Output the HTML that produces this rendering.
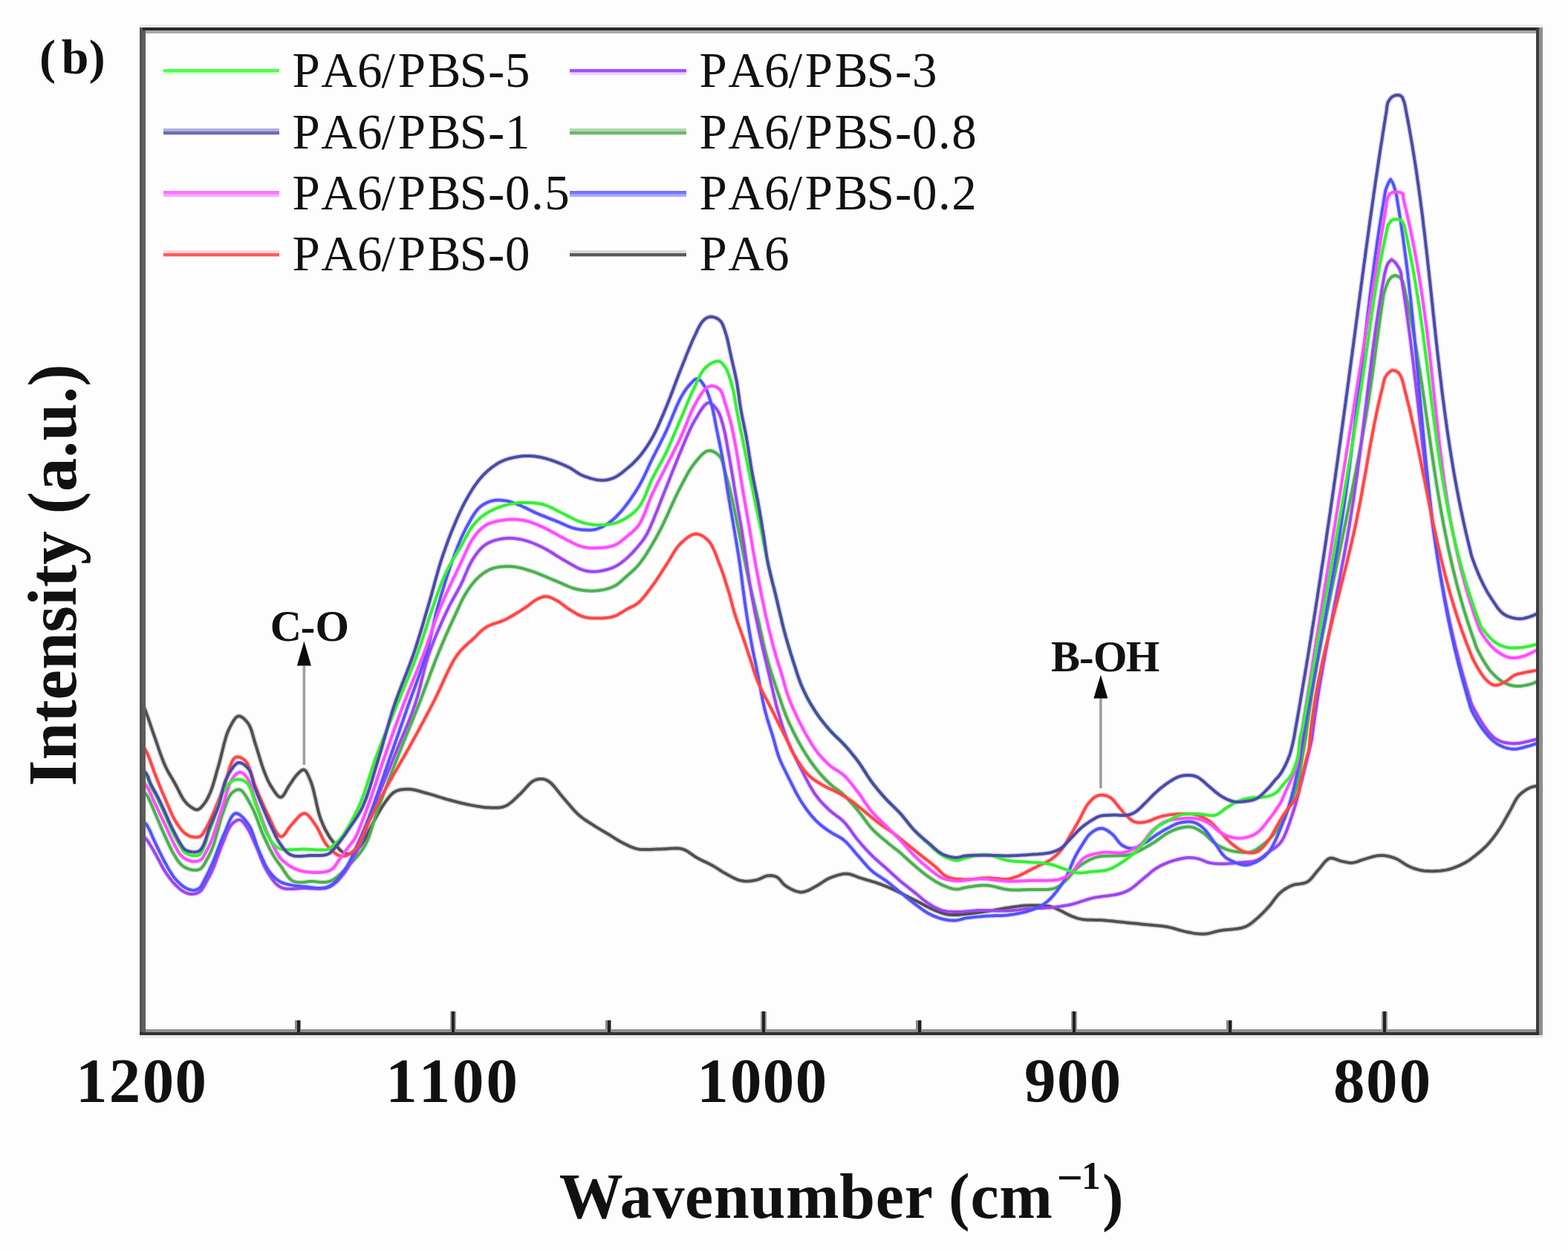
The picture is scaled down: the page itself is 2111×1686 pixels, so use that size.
<!DOCTYPE html><html><head><meta charset="utf-8"><title>FTIR spectra (b)</title>
<style>html,body{margin:0;padding:0;background:#fdfdfd;}svg{display:block;}.t{font-family:"Liberation Serif","Times New Roman",serif;fill:#111;}.b{font-weight:bold;}</style></head><body>
<svg xmlns="http://www.w3.org/2000/svg" width="2111" height="1686" viewBox="0 0 2111 1686">
<rect x="0" y="0" width="2111" height="1686" fill="#fdfdfd"/>
<defs><clipPath id="pc"><rect x="192" y="41" width="1880" height="1349"/></clipPath></defs>
<g clip-path="url(#pc)" fill="none" stroke-width="4.0" stroke-linejoin="round" stroke-linecap="round">
<defs>
<path id="cPA6" d="M192.0 948.0L193.3 950.9L194.5 953.8L196.0 957.5L196.7 959.3L197.4 961.4L198.2 963.6L199.1 966.0L200.0 968.6L200.9 971.3L201.9 974.1L202.8 976.9L203.8 979.8L204.8 982.7L205.8 985.6L206.8 988.4L207.7 991.2L208.7 993.9L209.6 996.5L210.5 999.1L211.4 1001.7L212.3 1004.3L213.2 1007.0L214.1 1009.6L215.0 1012.2L215.9 1014.8L216.8 1017.3L217.8 1019.9L218.7 1022.4L219.6 1024.8L220.6 1027.2L221.6 1029.5L222.6 1031.8L224.0 1034.7L225.4 1037.4L226.8 1040.1L228.3 1042.6L229.8 1045.2L231.3 1047.7L232.8 1050.2L234.2 1052.7L235.7 1055.3L237.1 1058.0L238.6 1060.8L240.0 1063.6L241.5 1066.5L242.9 1069.3L244.3 1071.9L245.8 1074.5L247.2 1076.8L248.7 1078.8L251.0 1081.5L253.3 1083.7L255.6 1085.7L257.9 1087.3L261.8 1089.7L265.7 1090.5L268.4 1089.3L271.1 1086.9L273.6 1084.0L275.2 1081.9L276.8 1079.6L278.4 1077.0L279.9 1074.2L281.3 1071.2L282.8 1068.0L283.7 1065.9L284.5 1063.6L285.4 1061.3L286.2 1058.8L287.0 1056.3L287.8 1053.7L288.6 1051.0L289.4 1048.2L290.2 1045.4L290.9 1042.6L291.7 1039.8L292.5 1036.9L293.4 1034.0L294.2 1031.2L294.9 1028.7L295.6 1026.1L296.3 1023.5L297.0 1020.7L297.7 1017.9L298.4 1015.1L299.1 1012.2L299.8 1009.3L300.5 1006.4L301.2 1003.6L301.9 1000.8L302.7 998.0L303.4 995.3L304.2 992.7L305.0 990.2L305.8 987.8L306.7 985.5L307.6 983.4L308.5 981.4L310.2 978.1L311.9 974.8L313.7 971.7L315.5 968.9L317.4 966.6L319.3 965.0L321.3 964.3L323.8 964.7L326.5 966.2L329.2 968.5L331.8 971.3L334.1 974.2L335.3 976.1L336.4 978.3L337.4 980.6L338.4 983.2L339.2 985.8L340.0 988.5L340.8 991.4L341.6 994.2L342.4 997.1L343.2 999.9L344.1 1002.7L345.0 1005.3L345.8 1008.0L346.7 1010.8L347.5 1013.7L348.4 1016.5L349.3 1019.4L350.1 1022.3L351.0 1025.1L351.9 1027.9L352.8 1030.7L353.7 1033.3L354.6 1035.9L355.5 1038.3L356.7 1041.3L357.8 1044.2L359.0 1047.0L360.2 1049.8L361.4 1052.4L362.7 1054.9L364.0 1057.4L365.5 1059.7L367.4 1062.6L369.4 1065.8L371.6 1068.8L373.7 1071.4L375.9 1073.1L377.9 1073.7L379.6 1073.0L381.3 1071.3L383.0 1068.9L384.7 1066.0L386.3 1062.9L388.0 1059.9L389.6 1057.4L391.4 1054.9L393.1 1052.3L394.8 1049.7L396.5 1047.3L398.2 1045.0L400.0 1043.0L403.1 1039.9L406.2 1037.3L409.2 1036.5L410.9 1037.4L412.5 1039.4L414.0 1042.0L415.4 1045.2L416.9 1048.7L418.3 1052.2L419.1 1054.2L419.8 1056.3L420.5 1058.6L421.2 1061.1L421.9 1063.7L422.6 1066.4L423.2 1069.2L423.9 1072.1L424.6 1075.0L425.2 1077.9L425.9 1080.9L426.5 1083.8L427.2 1086.7L427.9 1089.5L428.5 1092.2L429.2 1094.8L429.9 1097.3L430.7 1099.6L431.4 1101.8L432.6 1105.1L433.9 1108.2L435.1 1111.1L436.4 1113.9L437.7 1116.6L439.0 1119.1L440.4 1121.6L441.8 1124.0L443.7 1127.1L445.7 1130.1L447.8 1132.8L449.9 1135.5L452.0 1138.0L454.4 1140.9L456.9 1143.7L459.4 1146.1L462.0 1148.0L465.9 1149.7L470.0 1150.0L473.3 1149.1L476.7 1147.4L480.0 1145.0L481.9 1143.2L483.8 1141.1L485.6 1138.8L487.4 1136.3L489.1 1133.7L490.8 1131.0L492.2 1128.7L493.4 1126.3L494.6 1123.8L495.8 1121.3L497.0 1118.6L498.3 1116.0L499.6 1113.2L501.0 1110.5L502.2 1108.2L503.5 1105.8L504.8 1103.3L506.2 1100.8L507.5 1098.2L509.0 1095.6L510.4 1093.1L511.8 1090.6L513.3 1088.1L514.8 1085.8L516.2 1083.6L517.7 1081.5L519.6 1078.8L521.6 1076.2L523.5 1073.7L525.4 1071.4L527.5 1069.3L529.6 1067.5L532.0 1066.0L534.8 1064.7L537.9 1063.8L541.1 1063.2L544.4 1062.9L547.7 1062.8L551.0 1062.8L553.7 1063.0L556.5 1063.4L559.3 1064.0L562.1 1064.7L564.9 1065.5L567.8 1066.3L570.8 1067.2L573.8 1068.0L576.2 1068.7L578.7 1069.4L581.3 1070.1L583.9 1070.9L586.5 1071.7L589.1 1072.6L591.8 1073.4L594.4 1074.2L597.1 1075.0L599.7 1075.8L602.4 1076.6L605.0 1077.3L607.8 1078.0L610.7 1078.8L613.5 1079.5L616.4 1080.3L619.3 1081.0L622.1 1081.7L624.9 1082.3L627.8 1083.0L630.5 1083.5L633.3 1084.1L636.0 1084.6L638.9 1085.1L641.8 1085.6L644.6 1086.1L647.5 1086.5L650.3 1086.9L653.0 1087.2L655.7 1087.5L658.4 1087.6L661.0 1087.7L664.3 1087.7L667.6 1087.8L670.8 1087.7L673.9 1087.3L677.0 1086.7L680.0 1085.7L682.3 1084.6L684.6 1083.2L686.8 1081.5L689.1 1079.7L691.3 1077.8L693.4 1075.7L695.6 1073.7L697.7 1071.6L699.8 1069.7L701.9 1067.7L703.9 1065.5L705.9 1063.3L707.9 1061.0L709.9 1058.8L711.9 1056.6L713.8 1054.7L715.8 1053.1L717.7 1051.8L721.7 1050.0L725.7 1049.0L729.6 1048.9L733.0 1049.5L736.2 1050.7L739.6 1052.8L741.3 1054.1L743.0 1055.7L744.7 1057.6L746.5 1059.6L748.4 1061.9L750.2 1064.2L752.1 1066.6L753.9 1069.0L755.8 1071.3L757.7 1073.6L759.5 1075.7L761.5 1077.9L763.4 1080.2L765.4 1082.5L767.3 1084.8L769.3 1087.1L771.3 1089.4L773.3 1091.6L775.3 1093.7L777.3 1095.7L779.4 1097.6L781.8 1099.6L784.2 1101.5L786.7 1103.3L789.2 1105.0L791.7 1106.7L794.3 1108.3L796.8 1109.9L799.3 1111.5L801.8 1113.1L804.2 1114.6L806.7 1116.1L809.2 1117.6L811.7 1119.1L814.2 1120.5L816.7 1122.0L819.2 1123.5L821.7 1125.0L824.2 1126.6L826.6 1128.1L829.1 1129.7L831.6 1131.2L834.1 1132.7L836.6 1134.1L839.1 1135.4L841.9 1136.8L844.6 1138.1L847.3 1139.5L850.1 1140.7L852.9 1141.7L855.9 1142.7L859.0 1143.4L861.7 1143.8L864.5 1144.1L867.4 1144.1L870.4 1144.1L873.5 1144.0L876.5 1143.9L879.6 1143.7L882.7 1143.6L885.8 1143.4L888.8 1143.4L891.8 1143.3L894.9 1143.2L898.0 1142.9L901.1 1142.7L904.2 1142.5L907.3 1142.4L910.3 1142.3L913.2 1142.5L916.0 1142.8L918.7 1143.4L921.5 1144.4L924.1 1145.6L926.6 1147.1L929.0 1148.8L931.4 1150.5L933.7 1152.2L936.1 1153.8L938.6 1155.3L941.4 1156.8L944.3 1158.2L947.1 1159.6L950.0 1160.9L952.8 1162.3L955.7 1163.7L958.5 1165.2L961.0 1166.6L963.5 1168.1L965.9 1169.7L968.4 1171.3L970.8 1172.8L973.3 1174.4L975.8 1175.8L978.3 1177.2L981.1 1178.7L983.9 1180.2L986.7 1181.7L989.6 1183.1L992.4 1184.4L995.3 1185.4L998.2 1186.1L1001.5 1186.5L1004.9 1186.7L1008.3 1186.5L1011.6 1186.2L1014.9 1185.7L1018.1 1185.1L1021.5 1184.1L1024.7 1182.7L1027.9 1181.1L1031.0 1179.9L1034.0 1179.2L1038.2 1179.1L1042.2 1179.7L1046.0 1181.2L1048.4 1183.0L1050.7 1185.4L1052.8 1188.2L1055.2 1190.8L1057.9 1193.1L1060.2 1194.5L1062.7 1196.0L1065.3 1197.4L1068.0 1198.7L1070.8 1199.8L1073.6 1200.6L1076.4 1201.2L1079.0 1201.4L1081.8 1201.1L1084.5 1200.4L1087.3 1199.4L1090.0 1198.1L1092.7 1196.7L1095.3 1195.2L1098.0 1193.8L1100.7 1192.3L1103.4 1190.6L1106.0 1188.9L1108.7 1187.1L1111.4 1185.3L1114.1 1183.8L1117.0 1182.4L1119.7 1181.3L1122.5 1180.3L1125.4 1179.3L1128.3 1178.4L1131.2 1177.7L1134.1 1177.1L1136.9 1176.8L1139.7 1176.7L1142.9 1177.0L1146.1 1177.8L1149.2 1178.8L1152.3 1180.0L1155.4 1181.3L1158.7 1182.4L1161.3 1183.2L1164.0 1184.0L1166.8 1184.8L1169.7 1185.6L1172.5 1186.5L1175.3 1187.3L1178.1 1188.2L1180.8 1189.1L1183.4 1190.0L1186.3 1191.0L1189.0 1192.1L1191.7 1193.1L1194.4 1194.2L1197.0 1195.3L1199.6 1196.4L1202.3 1197.6L1205.0 1198.9L1207.8 1200.2L1210.5 1201.5L1213.2 1202.9L1215.9 1204.3L1218.6 1205.7L1221.3 1207.1L1224.0 1208.5L1226.7 1209.8L1229.4 1211.2L1232.2 1212.5L1234.9 1213.9L1237.6 1215.2L1240.3 1216.6L1243.0 1218.0L1245.7 1219.4L1248.4 1220.9L1251.1 1222.3L1253.8 1223.7L1256.6 1224.9L1259.3 1226.1L1262.4 1227.3L1265.5 1228.5L1268.7 1229.6L1271.8 1230.5L1275.0 1231.3L1278.3 1231.8L1281.3 1232.1L1284.3 1232.1L1287.3 1232.1L1290.4 1231.9L1293.5 1231.6L1296.7 1231.3L1300.0 1231.0L1302.5 1230.8L1305.2 1230.5L1307.8 1230.2L1310.6 1229.8L1313.3 1229.5L1316.1 1229.1L1318.9 1228.7L1321.7 1228.3L1324.5 1227.8L1327.3 1227.4L1330.0 1227.0L1332.7 1226.6L1335.5 1226.1L1338.3 1225.6L1341.0 1225.2L1343.8 1224.7L1346.5 1224.2L1349.3 1223.7L1352.0 1223.2L1354.7 1222.8L1357.4 1222.4L1360.0 1222.0L1362.9 1221.6L1365.7 1221.2L1368.6 1220.8L1371.3 1220.5L1374.1 1220.1L1376.9 1219.8L1379.7 1219.6L1382.5 1219.4L1385.4 1219.3L1388.2 1219.2L1391.2 1219.2L1394.2 1219.2L1397.2 1219.2L1400.2 1219.3L1403.2 1219.5L1406.1 1219.7L1408.8 1220.0L1411.5 1220.3L1413.9 1220.8L1417.1 1221.7L1420.0 1222.7L1422.8 1223.9L1425.5 1225.2L1428.2 1226.5L1431.1 1227.9L1433.9 1229.4L1436.7 1230.9L1439.5 1232.3L1442.4 1233.6L1445.8 1234.9L1449.1 1236.1L1452.7 1237.1L1456.6 1237.9L1459.0 1238.2L1461.6 1238.5L1464.4 1238.7L1467.3 1238.8L1470.2 1238.8L1473.2 1238.9L1476.2 1238.9L1479.2 1239.0L1482.2 1239.1L1485.1 1239.3L1488.0 1239.5L1490.8 1239.8L1493.7 1240.0L1496.5 1240.3L1499.4 1240.6L1502.2 1240.9L1505.1 1241.2L1507.9 1241.5L1510.8 1241.8L1513.6 1242.1L1516.4 1242.4L1519.3 1242.7L1522.1 1243.0L1524.9 1243.2L1527.8 1243.5L1530.6 1243.8L1533.4 1244.1L1536.3 1244.4L1539.1 1244.7L1542.0 1245.0L1544.7 1245.3L1547.5 1245.5L1550.2 1245.7L1553.0 1246.0L1555.8 1246.2L1558.6 1246.5L1561.3 1246.7L1564.1 1247.0L1566.8 1247.4L1569.4 1247.8L1572.0 1248.2L1575.1 1248.9L1578.2 1249.6L1581.2 1250.5L1584.2 1251.4L1587.1 1252.3L1590.0 1253.1L1593.0 1253.9L1596.0 1254.6L1599.0 1255.2L1602.0 1255.8L1605.0 1256.4L1608.0 1256.9L1611.0 1257.3L1614.0 1257.6L1617.0 1257.8L1620.0 1257.8L1623.0 1257.6L1625.9 1257.2L1628.9 1256.6L1631.8 1255.9L1634.7 1255.1L1637.7 1254.3L1640.8 1253.6L1644.0 1253.0L1646.8 1252.6L1649.7 1252.2L1652.8 1251.9L1655.9 1251.7L1659.0 1251.4L1662.1 1251.1L1665.2 1250.7L1668.1 1250.3L1671.0 1249.7L1673.6 1249.0L1676.1 1248.2L1679.2 1246.8L1682.0 1245.1L1684.7 1243.2L1687.1 1241.2L1689.6 1239.1L1692.1 1237.0L1694.2 1235.2L1696.2 1233.3L1698.2 1231.4L1700.2 1229.4L1702.2 1227.3L1704.2 1225.3L1706.1 1223.1L1708.1 1221.0L1709.9 1218.9L1711.7 1216.7L1713.4 1214.4L1715.1 1212.1L1716.8 1209.8L1718.6 1207.6L1720.4 1205.4L1722.2 1203.5L1724.1 1201.7L1726.6 1199.7L1729.2 1197.8L1731.8 1196.2L1734.5 1194.7L1737.2 1193.3L1740.1 1192.1L1742.8 1191.3L1745.7 1190.7L1748.7 1190.4L1751.7 1190.0L1754.6 1189.5L1757.4 1188.8L1760.0 1187.6L1762.2 1186.1L1764.2 1184.3L1766.1 1182.2L1767.9 1180.0L1769.7 1177.7L1771.5 1175.4L1773.3 1173.1L1775.2 1171.0L1777.3 1168.6L1779.4 1166.0L1781.5 1163.3L1783.6 1160.8L1785.8 1158.6L1788.0 1156.9L1790.3 1155.8L1793.2 1155.6L1796.2 1156.3L1799.3 1157.4L1802.4 1158.7L1805.5 1159.6L1808.5 1160.3L1811.5 1160.9L1814.6 1161.5L1817.6 1161.9L1820.6 1161.9L1823.6 1161.4L1826.5 1160.6L1829.5 1159.5L1832.6 1158.3L1835.8 1157.3L1838.4 1156.6L1841.2 1155.7L1844.0 1154.9L1847.0 1154.0L1849.9 1153.3L1852.8 1152.6L1855.7 1152.2L1858.5 1152.0L1861.4 1152.0L1864.3 1152.3L1867.1 1152.7L1870.0 1153.3L1872.7 1154.0L1875.5 1154.8L1878.2 1155.8L1880.9 1157.0L1883.6 1158.5L1886.2 1160.1L1888.8 1161.8L1891.3 1163.5L1893.9 1165.1L1896.4 1166.4L1899.5 1167.8L1902.5 1169.0L1905.5 1170.0L1908.5 1170.9L1911.6 1171.7L1914.5 1172.3L1917.5 1172.7L1920.4 1173.0L1923.5 1173.1L1926.7 1173.2L1929.3 1173.2L1932.1 1173.1L1934.9 1173.0L1937.9 1172.8L1940.8 1172.5L1943.7 1172.1L1946.7 1171.6L1949.5 1171.0L1952.4 1170.2L1955.4 1169.3L1958.3 1168.2L1961.3 1167.1L1964.1 1165.9L1966.9 1164.6L1969.6 1163.2L1972.2 1161.9L1975.0 1160.3L1977.6 1158.6L1980.1 1156.9L1982.5 1155.0L1985.0 1153.1L1987.4 1151.2L1989.6 1149.4L1991.8 1147.6L1994.0 1145.8L1996.2 1143.8L1998.3 1141.8L2000.4 1139.8L2002.5 1137.6L2004.5 1135.4L2006.4 1133.1L2008.4 1130.7L2010.3 1128.3L2012.2 1125.8L2014.0 1123.2L2015.9 1120.6L2017.7 1117.9L2019.3 1115.5L2020.9 1113.0L2022.4 1110.4L2024.0 1107.7L2025.5 1105.1L2027.0 1102.4L2028.5 1099.7L2029.9 1097.1L2031.4 1094.6L2032.8 1092.1L2034.3 1089.4L2035.7 1086.7L2037.0 1084.0L2038.4 1081.4L2039.7 1078.8L2041.2 1076.4L2042.7 1074.1L2044.4 1072.0L2046.6 1069.7L2049.0 1067.5L2051.6 1065.6L2054.2 1063.8L2056.8 1062.3L2059.3 1061.0L2062.5 1059.8L2065.6 1059.1L2068.8 1058.6L2072.0 1058.0"/>
<path id="cDKGREEN" d="M192.0 1065.0L194.9 1067.6L197.8 1071.0L198.9 1072.8L200.1 1074.9L201.2 1077.3L202.4 1079.9L203.6 1082.7L204.8 1085.5L206.0 1088.4L207.2 1091.4L208.4 1094.2L209.6 1097.0L210.7 1099.4L211.7 1101.9L212.8 1104.4L213.9 1106.9L214.9 1109.5L216.0 1112.0L217.1 1114.6L218.2 1117.1L219.3 1119.6L220.4 1122.1L221.5 1124.6L222.6 1127.0L223.9 1129.8L225.2 1132.5L226.4 1135.3L227.7 1138.1L229.1 1140.9L230.4 1143.6L231.7 1146.2L233.0 1148.6L234.4 1151.0L235.7 1153.2L237.7 1156.3L239.6 1159.2L241.6 1161.8L243.8 1164.2L246.1 1166.2L249.2 1168.1L252.5 1169.7L255.9 1170.8L259.2 1171.5L262.8 1171.8L266.4 1171.5L269.6 1170.2L271.7 1168.4L273.7 1166.0L275.5 1163.1L277.1 1160.1L278.8 1157.1L280.2 1154.5L281.5 1152.0L282.8 1149.3L284.0 1146.5L285.3 1143.5L286.6 1140.1L287.4 1138.0L288.1 1135.7L288.9 1133.3L289.6 1130.8L290.4 1128.1L291.2 1125.3L291.9 1122.5L292.7 1119.6L293.5 1116.7L294.3 1113.8L295.1 1110.9L295.9 1108.0L296.7 1105.2L297.5 1102.5L298.3 1099.9L299.2 1097.4L300.0 1095.0L301.1 1091.9L302.2 1088.7L303.3 1085.6L304.4 1082.5L305.5 1079.5L306.7 1076.7L307.9 1074.1L309.2 1071.7L310.5 1069.7L312.0 1068.0L315.4 1065.2L319.0 1063.4L322.7 1063.3L324.3 1064.0L325.9 1065.3L327.5 1067.0L329.1 1069.1L330.7 1071.6L332.3 1074.2L333.9 1077.0L335.4 1079.9L336.9 1082.7L338.4 1085.5L339.8 1088.2L341.0 1090.5L342.1 1092.9L343.2 1095.4L344.2 1097.9L345.2 1100.5L346.2 1103.1L347.2 1105.8L348.2 1108.4L349.1 1111.1L350.1 1113.7L351.0 1116.3L352.0 1118.9L353.0 1121.4L354.1 1123.8L355.4 1126.6L356.6 1129.4L357.9 1132.1L359.2 1134.9L360.5 1137.6L361.8 1140.3L363.1 1142.9L364.5 1145.4L365.8 1147.8L367.0 1150.1L368.3 1152.3L370.3 1155.5L372.2 1158.3L374.1 1161.0L376.1 1163.7L378.3 1166.6L379.9 1168.8L381.5 1171.3L383.1 1173.8L384.8 1176.4L386.6 1179.0L388.4 1181.4L390.4 1183.5L392.5 1185.3L394.8 1186.7L397.2 1187.6L399.8 1188.1L402.6 1188.3L405.4 1188.2L408.3 1188.0L411.3 1187.7L414.3 1187.3L417.2 1187.1L420.0 1187.0L423.1 1187.1L426.2 1187.4L429.3 1187.7L432.4 1187.9L435.4 1188.1L438.5 1188.0L441.5 1187.5L444.4 1186.7L446.7 1185.7L448.9 1184.5L451.1 1183.0L453.3 1181.4L455.5 1179.5L457.7 1177.6L459.8 1175.6L461.9 1173.4L464.0 1171.3L466.0 1169.2L468.0 1167.1L470.0 1165.0L472.0 1163.0L473.9 1160.9L475.9 1158.8L477.8 1156.7L479.7 1154.6L481.6 1152.4L483.4 1150.2L485.1 1147.9L486.8 1145.5L488.5 1143.1L490.1 1140.6L491.6 1138.0L492.8 1135.8L493.8 1133.6L494.9 1131.3L495.8 1129.0L496.7 1126.7L497.6 1124.3L498.4 1121.8L499.2 1119.3L500.0 1116.8L500.8 1114.2L501.6 1111.6L502.4 1108.9L503.2 1106.2L504.1 1103.5L505.0 1100.7L506.0 1097.9L507.0 1095.0L507.8 1092.9L508.6 1090.8L509.4 1088.6L510.2 1086.4L511.0 1084.1L511.8 1081.8L512.7 1079.5L513.6 1077.1L514.5 1074.7L515.3 1072.3L516.3 1069.9L517.2 1067.4L518.1 1064.9L519.0 1062.4L519.9 1059.9L520.9 1057.4L521.8 1054.9L522.8 1052.3L523.7 1049.8L524.7 1047.3L525.6 1044.7L526.6 1042.2L527.5 1039.6L528.5 1037.1L529.5 1034.6L530.4 1032.1L531.4 1029.7L532.3 1027.2L533.2 1024.8L534.2 1022.3L535.1 1020.0L536.0 1017.6L537.0 1015.1L538.0 1012.6L539.0 1010.0L540.0 1007.5L541.0 1005.1L542.0 1002.6L543.0 1000.1L544.0 997.6L545.0 995.2L546.0 992.7L547.0 990.3L548.0 987.8L549.0 985.4L550.0 982.9L551.0 980.5L552.0 978.1L553.0 975.6L554.0 973.2L555.0 970.8L556.0 968.3L556.9 965.9L557.9 963.5L558.9 961.0L559.9 958.6L560.9 956.2L561.9 953.7L562.8 951.3L563.8 948.8L564.8 946.3L565.7 943.9L566.7 941.4L567.6 938.9L568.6 936.4L569.5 933.9L570.5 931.3L571.4 928.8L572.4 926.3L573.3 923.8L574.2 921.2L575.2 918.7L576.1 916.2L577.1 913.7L578.0 911.2L578.9 908.7L579.8 906.2L580.8 903.7L581.7 901.2L582.6 898.8L583.6 896.4L584.5 893.9L585.4 891.6L586.3 889.2L587.2 886.9L588.2 884.5L589.1 882.3L590.0 880.0L591.1 877.3L592.2 874.7L593.3 872.1L594.4 869.4L595.5 866.9L596.6 864.3L597.7 861.8L598.8 859.2L599.8 856.7L600.9 854.3L602.0 851.8L603.1 849.4L604.2 847.0L605.2 844.6L606.3 842.2L607.4 839.9L608.4 837.6L609.5 835.3L610.6 833.0L611.6 830.8L612.9 828.1L614.1 825.4L615.3 822.8L616.5 820.2L617.7 817.6L618.8 815.0L620.0 812.5L621.2 810.1L622.4 807.6L623.6 805.3L624.9 802.9L626.2 800.7L627.5 798.5L628.8 796.4L630.6 793.7L632.4 791.1L634.2 788.6L636.1 786.2L638.0 783.9L640.0 781.7L641.9 779.6L643.9 777.6L646.0 775.8L648.3 773.9L650.6 772.1L653.0 770.5L655.4 769.0L657.8 767.7L660.5 766.5L663.2 765.5L665.8 764.7L668.5 764.1L671.3 763.6L674.2 763.2L677.2 762.9L680.2 762.8L683.2 762.7L686.1 762.8L689.0 762.9L691.9 763.2L694.7 763.6L697.5 764.1L700.3 764.7L703.1 765.4L706.0 766.2L708.9 767.1L711.8 768.0L714.8 768.9L717.3 769.7L719.9 770.6L722.6 771.6L725.2 772.7L727.9 773.8L730.7 774.9L733.4 776.1L736.1 777.2L738.8 778.4L741.5 779.5L744.1 780.6L746.7 781.7L749.2 782.7L751.9 783.8L754.6 785.0L757.2 786.1L759.7 787.3L762.3 788.4L764.8 789.5L767.3 790.5L769.8 791.5L772.4 792.3L775.0 793.0L777.8 793.7L780.7 794.2L783.5 794.7L786.4 795.1L789.3 795.4L792.2 795.6L795.1 795.7L797.9 795.7L800.8 795.6L803.7 795.4L806.7 795.0L809.7 794.6L812.7 794.1L815.6 793.4L818.5 792.6L821.4 791.7L824.1 790.7L826.6 789.6L829.4 788.1L832.0 786.3L834.5 784.3L836.8 782.2L839.1 780.1L841.5 777.9L843.8 775.8L846.2 773.8L848.5 771.8L850.8 769.8L853.0 767.7L855.3 765.5L857.6 763.0L860.0 760.3L861.4 758.6L862.7 756.8L864.1 754.9L865.5 753.0L866.9 750.9L868.4 748.8L869.8 746.7L871.2 744.4L872.6 742.1L874.1 739.8L875.5 737.4L876.9 735.0L878.4 732.6L879.8 730.1L881.2 727.6L882.7 725.1L884.1 722.5L885.5 720.0L886.6 717.9L887.8 715.7L888.9 713.5L890.1 711.2L891.3 708.9L892.4 706.5L893.6 704.0L894.7 701.6L895.9 699.1L897.1 696.6L898.2 694.1L899.4 691.5L900.5 689.0L901.7 686.4L902.8 683.9L904.0 681.4L905.1 678.9L906.2 676.4L907.4 673.9L908.5 671.5L909.6 669.2L910.7 666.9L911.8 664.6L912.8 662.4L913.9 660.3L915.0 658.2L916.0 656.2L917.5 653.3L919.0 650.5L920.5 647.7L921.9 645.0L923.3 642.4L924.7 639.8L926.0 637.3L927.4 634.9L928.8 632.6L930.3 630.3L931.8 628.1L933.3 626.0L934.9 624.0L936.9 621.6L938.9 619.1L941.0 616.6L943.2 614.2L945.3 612.0L947.5 610.1L949.7 608.6L951.8 607.5L953.9 606.9L957.1 607.0L960.3 608.0L963.5 609.8L966.5 612.0L969.0 614.5L970.5 616.6L971.7 619.1L972.7 621.8L973.5 624.7L974.3 627.8L975.0 631.0L975.8 634.1L976.6 637.2L977.4 639.9L978.2 642.5L978.9 645.2L979.7 647.9L980.4 650.6L981.2 653.5L981.9 656.4L982.7 659.3L983.4 662.5L984.2 665.7L984.7 667.9L985.2 670.2L985.8 672.5L986.3 674.9L986.8 677.4L987.4 679.9L987.9 682.5L988.5 685.1L989.0 687.7L989.6 690.4L990.1 693.0L990.7 695.7L991.2 698.5L991.8 701.2L992.3 703.9L992.9 706.6L993.4 709.3L994.0 712.0L994.5 714.7L995.1 717.4L995.6 720.0L996.1 722.6L996.7 725.3L997.2 727.9L997.8 730.6L998.3 733.2L998.8 735.9L999.3 738.6L999.9 741.2L1000.4 743.9L1000.9 746.5L1001.5 749.2L1002.0 751.9L1002.5 754.5L1003.1 757.2L1003.6 759.9L1004.2 762.5L1004.7 765.2L1005.3 767.9L1005.8 770.6L1006.4 773.2L1007.0 775.9L1007.6 778.5L1008.1 781.1L1008.7 783.7L1009.3 786.2L1009.9 788.8L1010.5 791.4L1011.1 794.0L1011.7 796.6L1012.3 799.2L1012.9 801.8L1013.5 804.4L1014.2 807.0L1014.8 809.6L1015.4 812.2L1016.0 814.8L1016.6 817.3L1017.2 819.9L1017.9 822.5L1018.5 825.1L1019.1 827.7L1019.7 830.3L1020.3 832.9L1020.9 835.5L1021.5 838.1L1022.1 840.7L1022.7 843.3L1023.3 846.0L1023.8 848.6L1024.4 851.2L1025.0 853.8L1025.6 856.5L1026.2 859.1L1026.7 861.7L1027.3 864.3L1027.9 866.9L1028.5 869.5L1029.1 872.1L1029.7 874.7L1030.4 877.3L1031.0 879.8L1031.6 882.3L1032.3 884.8L1032.9 887.3L1033.6 889.8L1034.4 892.6L1035.2 895.3L1036.0 898.1L1036.8 900.9L1037.7 903.6L1038.5 906.3L1039.4 909.1L1040.2 911.8L1041.1 914.5L1042.0 917.1L1042.9 919.8L1043.7 922.4L1044.6 924.9L1045.5 927.5L1046.3 930.0L1047.2 932.4L1048.0 934.8L1048.8 937.2L1049.8 940.0L1050.7 942.7L1051.6 945.3L1052.4 947.9L1053.3 950.4L1054.1 952.9L1055.0 955.3L1055.9 957.8L1056.9 960.3L1057.8 962.8L1058.9 965.4L1060.0 968.0L1061.1 970.5L1062.2 973.0L1063.3 975.5L1064.5 978.1L1065.8 980.6L1067.0 983.3L1068.3 985.9L1069.6 988.5L1070.9 991.1L1072.3 993.6L1073.6 996.2L1074.9 998.7L1076.3 1001.1L1077.7 1003.6L1079.0 1005.9L1080.5 1008.5L1082.0 1011.0L1083.6 1013.5L1085.1 1016.0L1086.7 1018.4L1088.3 1020.8L1089.8 1023.2L1091.4 1025.5L1093.1 1027.8L1094.7 1030.0L1096.3 1032.2L1098.0 1034.4L1099.8 1036.7L1101.7 1039.0L1103.5 1041.2L1105.4 1043.3L1107.3 1045.4L1109.2 1047.5L1111.1 1049.5L1113.1 1051.5L1115.0 1053.4L1117.0 1055.3L1119.3 1057.4L1121.7 1059.3L1124.1 1061.1L1126.5 1062.8L1128.8 1064.6L1131.2 1066.4L1133.6 1068.3L1135.9 1070.4L1137.9 1072.3L1139.8 1074.2L1141.7 1076.2L1143.6 1078.3L1145.5 1080.4L1147.4 1082.5L1149.3 1084.7L1151.2 1086.9L1153.0 1089.1L1154.9 1091.3L1156.7 1093.5L1158.4 1095.7L1160.1 1098.0L1161.8 1100.3L1163.5 1102.7L1165.2 1105.0L1166.9 1107.3L1168.6 1109.6L1170.3 1111.8L1172.1 1114.0L1173.9 1116.0L1175.9 1118.1L1178.0 1120.2L1180.1 1122.1L1182.2 1124.0L1184.3 1125.9L1186.5 1127.7L1188.6 1129.5L1190.8 1131.3L1192.9 1133.1L1195.2 1135.1L1197.6 1137.0L1200.0 1138.8L1202.3 1140.7L1204.7 1142.6L1207.1 1144.4L1209.5 1146.3L1211.8 1148.3L1213.9 1150.1L1216.0 1152.0L1218.1 1153.9L1220.2 1155.8L1222.3 1157.8L1224.4 1159.7L1226.6 1161.6L1228.7 1163.5L1230.8 1165.3L1233.1 1167.3L1235.5 1169.3L1237.9 1171.2L1240.2 1173.2L1242.6 1175.1L1245.0 1177.0L1247.4 1178.8L1249.8 1180.5L1252.5 1182.3L1255.1 1184.1L1257.8 1185.9L1260.5 1187.6L1263.3 1189.1L1266.0 1190.6L1268.8 1191.9L1271.9 1193.2L1275.2 1194.5L1278.4 1195.7L1281.7 1196.6L1284.8 1197.3L1287.7 1197.6L1290.8 1197.4L1293.7 1196.7L1296.6 1195.8L1300.0 1195.1L1302.4 1194.7L1304.9 1194.3L1307.7 1193.9L1310.6 1193.5L1313.5 1193.1L1316.5 1192.8L1319.6 1192.5L1322.6 1192.3L1325.6 1192.2L1328.5 1192.3L1331.4 1192.5L1334.2 1193.0L1337.1 1193.6L1339.9 1194.2L1342.7 1195.0L1345.6 1195.7L1348.4 1196.4L1351.3 1197.1L1354.1 1197.6L1357.0 1198.0L1359.8 1198.2L1362.6 1198.4L1365.4 1198.5L1368.2 1198.5L1371.0 1198.5L1373.8 1198.4L1376.6 1198.3L1379.5 1198.2L1382.4 1198.1L1385.4 1198.0L1388.1 1198.0L1390.8 1198.0L1393.7 1198.0L1396.7 1198.0L1399.6 1198.0L1402.6 1198.1L1405.5 1198.0L1408.4 1197.9L1411.2 1197.7L1413.9 1197.5L1416.5 1197.1L1418.8 1196.6L1421.0 1195.9L1423.9 1194.6L1426.5 1193.0L1428.8 1191.2L1431.0 1189.3L1433.1 1187.3L1435.3 1185.2L1437.4 1183.1L1439.4 1180.9L1441.4 1178.5L1443.4 1176.1L1445.4 1173.8L1447.4 1171.5L1449.5 1169.5L1452.2 1167.2L1455.0 1165.0L1457.9 1163.0L1460.8 1161.2L1463.7 1159.5L1466.4 1158.1L1469.2 1156.8L1472.0 1155.6L1474.9 1154.6L1478.0 1153.8L1480.8 1153.3L1483.7 1153.0L1486.8 1152.8L1489.9 1152.7L1493.1 1152.6L1496.2 1152.5L1499.3 1152.4L1502.4 1152.3L1505.5 1152.2L1508.7 1152.1L1511.8 1152.1L1514.8 1151.9L1517.8 1151.5L1520.7 1151.0L1523.6 1150.2L1526.3 1149.2L1529.0 1148.0L1531.6 1146.7L1534.3 1145.4L1537.0 1144.0L1539.7 1142.6L1542.4 1141.1L1545.2 1139.5L1548.0 1137.9L1550.7 1136.2L1553.4 1134.6L1556.0 1132.9L1558.8 1131.0L1561.4 1129.1L1564.0 1127.1L1566.7 1125.1L1569.3 1123.3L1572.0 1121.7L1575.1 1120.1L1578.3 1118.6L1581.5 1117.3L1584.7 1116.2L1588.0 1115.3L1591.2 1114.5L1594.4 1113.9L1597.6 1113.5L1600.8 1113.4L1604.0 1113.7L1606.7 1114.4L1609.4 1115.5L1612.1 1116.8L1614.8 1118.3L1617.4 1120.0L1620.0 1121.7L1622.4 1123.5L1624.6 1125.5L1626.9 1127.7L1629.1 1130.0L1631.4 1132.2L1633.6 1134.2L1636.0 1136.0L1638.6 1137.7L1641.2 1139.2L1643.9 1140.7L1646.6 1141.9L1649.4 1143.1L1652.1 1144.1L1655.3 1145.1L1658.4 1145.9L1661.7 1146.5L1664.9 1146.9L1668.1 1147.3L1671.3 1147.6L1674.5 1147.9L1677.8 1148.1L1681.0 1147.9L1684.1 1147.3L1686.9 1146.3L1689.6 1145.0L1692.3 1143.4L1694.9 1141.6L1697.5 1139.7L1700.1 1137.7L1702.2 1136.0L1704.3 1134.3L1706.3 1132.4L1708.4 1130.5L1710.3 1128.4L1712.3 1126.3L1714.2 1124.1L1716.1 1121.7L1717.7 1119.5L1719.3 1117.1L1720.9 1114.6L1722.5 1112.0L1724.0 1109.4L1725.5 1106.7L1727.0 1104.0L1728.4 1101.3L1729.7 1098.7L1730.9 1096.3L1732.1 1094.0L1733.8 1090.6L1735.2 1087.5L1736.5 1084.5L1737.8 1081.4L1739.1 1078.0L1740.0 1075.6L1741.0 1073.1L1742.0 1070.6L1743.0 1068.0L1743.9 1065.3L1744.9 1062.6L1745.8 1059.8L1746.6 1056.9L1747.4 1054.0L1748.0 1051.5L1748.6 1048.9L1749.1 1046.2L1749.6 1043.4L1750.1 1040.6L1750.5 1037.8L1750.9 1034.9L1751.4 1032.1L1751.8 1029.3L1752.2 1026.5L1752.6 1023.8L1753.0 1021.1L1753.4 1018.6L1754.0 1015.2L1754.6 1011.9L1755.2 1008.6L1755.7 1005.4L1756.3 1002.3L1756.8 999.4L1757.3 996.6L1757.7 994.0L1758.3 990.0L1758.7 986.5L1759.1 983.0L1759.7 979.0L1760.2 975.0L1760.8 971.0L1761.4 967.0L1762.0 963.0L1762.6 959.0L1763.2 955.0L1763.8 951.0L1764.4 947.0L1765.0 943.0L1765.6 939.0L1766.3 935.0L1766.9 931.0L1767.6 927.0L1768.3 923.0L1768.9 919.0L1769.6 915.0L1770.3 911.0L1771.0 907.0L1771.7 903.0L1772.4 899.0L1773.1 895.0L1773.8 891.0L1774.6 887.0L1775.3 883.0L1776.0 879.0L1776.8 875.0L1777.5 871.0L1778.3 867.0L1779.0 863.0L1779.8 859.0L1780.6 855.0L1781.3 851.0L1782.1 847.0L1782.9 843.0L1783.7 839.0L1784.5 835.0L1785.3 831.0L1786.0 827.0L1786.8 823.0L1787.7 819.0L1788.5 815.0L1789.3 811.0L1790.1 807.0L1790.9 803.0L1791.7 799.0L1792.5 795.0L1793.4 791.0L1794.2 787.0L1795.0 783.0L1795.8 779.0L1796.7 775.0L1797.5 771.0L1798.3 767.0L1799.2 763.0L1800.0 759.0L1800.8 755.0L1801.7 751.0L1802.5 747.0L1803.3 743.0L1804.2 739.0L1805.0 735.0L1805.8 731.0L1806.7 727.0L1807.5 723.0L1808.3 719.0L1809.2 715.0L1810.0 711.0L1810.8 707.0L1811.7 703.0L1812.5 699.0L1813.3 695.0L1814.1 691.0L1815.0 687.0L1815.8 683.0L1816.6 679.0L1817.4 675.0L1818.2 671.0L1819.0 667.0L1819.8 663.0L1820.6 659.0L1821.4 655.0L1822.2 651.0L1823.0 647.0L1823.8 643.0L1824.6 639.0L1825.4 635.0L1826.2 631.0L1826.9 627.0L1827.7 623.0L1828.5 619.0L1829.2 615.0L1830.0 611.0L1830.7 607.0L1831.5 603.0L1832.2 599.0L1832.9 595.0L1833.7 591.0L1834.4 587.0L1835.1 583.0L1835.8 579.0L1836.5 575.0L1837.2 571.0L1837.9 567.0L1838.6 563.0L1839.2 559.0L1839.9 555.0L1840.6 551.0L1841.2 547.0L1841.9 543.0L1842.5 539.0L1843.1 535.0L1843.7 531.0L1844.3 527.0L1844.9 523.0L1845.5 519.0L1846.1 515.0L1846.7 511.0L1847.3 507.0L1847.8 503.0L1848.4 499.0L1848.9 495.0L1849.5 491.0L1850.0 487.0L1850.6 483.0L1851.1 479.0L1851.6 475.0L1852.2 471.0L1852.7 467.0L1853.2 463.0L1853.8 459.0L1854.3 455.0L1854.9 451.0L1855.4 447.0L1856.0 443.0L1856.5 439.0L1857.1 435.0L1857.7 431.0L1858.2 427.0L1858.8 423.0L1859.4 419.0L1860.0 415.0L1860.6 411.0L1861.3 407.0L1861.8 403.1L1862.3 399.2L1863.2 395.0L1864.1 392.0L1865.1 388.8L1866.3 385.4L1867.5 382.2L1868.8 379.3L1870.0 377.0L1874.0 372.5L1878.4 371.0L1883.0 372.5L1887.0 376.0L1888.7 380.1L1890.0 385.0L1891.0 388.9L1891.8 392.9L1892.7 397.0L1893.6 401.0L1894.4 405.0L1895.3 409.0L1896.1 413.0L1896.9 417.0L1897.7 421.0L1898.5 425.0L1899.3 429.0L1900.1 433.0L1900.8 437.0L1901.6 441.0L1902.3 445.0L1903.0 449.0L1903.7 453.0L1904.4 457.0L1905.1 461.0L1905.8 465.0L1906.5 469.0L1907.2 473.0L1907.9 477.0L1908.5 481.0L1909.2 485.0L1909.8 489.0L1910.4 493.0L1911.1 497.0L1911.7 501.0L1912.3 505.0L1912.9 509.0L1913.5 513.0L1914.2 517.0L1914.8 521.0L1915.3 525.0L1915.9 529.0L1916.5 533.0L1917.1 537.0L1917.7 541.0L1918.3 545.0L1918.9 549.0L1919.4 553.0L1920.0 557.0L1920.6 561.0L1921.2 565.0L1921.7 569.0L1922.3 573.0L1922.9 577.0L1923.5 581.0L1924.0 585.0L1924.6 589.0L1925.2 593.0L1925.8 597.0L1926.3 601.0L1926.9 605.0L1927.5 609.0L1928.1 613.0L1928.7 617.0L1929.3 621.0L1929.9 625.0L1930.5 629.0L1931.1 633.0L1931.7 637.0L1932.3 641.0L1933.0 645.0L1933.6 649.0L1934.2 653.0L1934.9 657.0L1935.5 661.0L1936.2 665.0L1936.9 669.0L1937.5 673.0L1938.2 677.0L1938.9 681.0L1939.6 685.0L1940.3 689.0L1941.0 693.0L1941.8 697.0L1942.5 701.0L1943.2 705.0L1944.0 709.0L1944.8 713.0L1945.6 717.0L1946.3 721.0L1947.2 725.0L1948.0 729.0L1948.8 733.0L1949.6 737.0L1950.5 741.0L1951.4 745.0L1952.3 749.0L1953.2 753.0L1954.1 757.0L1955.0 761.0L1955.9 765.0L1956.9 769.0L1957.9 773.0L1958.9 777.0L1959.9 781.0L1960.9 785.0L1961.9 789.0L1963.0 793.0L1964.1 797.0L1965.2 801.0L1966.3 805.0L1967.4 809.0L1968.6 813.0L1969.7 817.0L1970.6 820.0L1971.5 823.0L1972.4 826.0L1973.4 829.0L1974.3 832.0L1975.2 835.0L1976.2 838.0L1977.2 841.0L1978.2 844.0L1979.2 847.0L1980.2 850.0L1981.2 853.0L1982.2 856.0L1983.3 859.1L1984.4 862.1L1985.4 865.0L1986.8 869.3L1988.7 874.0L1989.6 875.8L1990.6 877.8L1991.8 880.1L1993.1 882.4L1994.4 884.9L1995.9 887.5L1997.4 890.1L1999.0 892.7L2000.6 895.2L2002.2 897.7L2003.8 900.0L2005.4 902.2L2007.0 904.1L2009.1 906.4L2011.2 908.6L2013.3 910.7L2015.5 912.7L2017.7 914.5L2019.9 916.2L2022.2 917.7L2024.5 919.0L2027.3 920.4L2030.2 921.5L2033.1 922.5L2036.0 923.2L2039.0 923.7L2041.9 924.0L2044.8 924.1L2047.8 923.9L2050.8 923.4L2053.7 922.9L2056.6 922.3L2059.3 921.6L2062.6 920.6L2065.8 919.4L2068.9 918.2L2072.0 917.0"/>
<path id="cPURPLE" d="M192.0 1125.0L194.8 1127.7L197.8 1131.0L199.1 1132.9L200.6 1135.0L202.0 1137.4L203.5 1139.9L205.0 1142.6L206.6 1145.3L208.1 1148.0L209.6 1150.6L211.0 1153.1L212.4 1155.8L213.9 1158.4L215.3 1161.1L216.7 1163.9L218.1 1166.5L219.6 1169.2L221.1 1171.7L222.6 1174.1L224.4 1176.8L226.2 1179.4L228.0 1181.9L229.9 1184.3L231.8 1186.7L233.7 1188.9L235.7 1191.0L238.2 1193.5L240.8 1195.9L243.4 1198.1L246.1 1200.0L248.7 1201.5L252.2 1203.0L255.7 1203.9L259.2 1204.1L262.8 1203.5L266.3 1202.3L269.6 1200.2L271.7 1198.0L273.6 1195.3L275.4 1192.1L277.1 1188.9L278.8 1185.8L280.4 1182.9L282.0 1180.0L283.5 1177.0L285.0 1173.8L286.6 1170.2L287.5 1168.1L288.4 1165.9L289.3 1163.5L290.2 1161.0L291.2 1158.4L292.1 1155.8L293.1 1153.1L294.1 1150.4L295.1 1147.7L296.1 1145.0L297.0 1142.4L298.0 1139.8L299.0 1137.3L300.0 1135.0L301.2 1132.2L302.3 1129.4L303.4 1126.5L304.5 1123.7L305.7 1121.0L306.8 1118.4L308.0 1116.0L309.3 1113.7L310.6 1111.7L312.0 1110.0L315.5 1106.8L319.2 1104.5L322.7 1103.9L324.9 1104.8L327.0 1106.7L329.1 1109.2L331.1 1112.1L333.0 1115.0L334.3 1117.1L335.6 1119.4L336.8 1121.8L338.0 1124.3L339.2 1126.9L340.4 1129.6L341.6 1132.3L342.8 1135.2L344.1 1138.0L345.1 1140.3L346.2 1142.8L347.2 1145.3L348.2 1147.9L349.3 1150.6L350.3 1153.3L351.4 1156.1L352.5 1158.8L353.6 1161.5L354.8 1164.1L356.0 1166.7L357.2 1169.1L358.5 1171.5L359.8 1173.7L361.4 1176.3L363.0 1178.8L364.7 1181.3L366.3 1183.8L368.1 1186.1L369.9 1188.3L371.8 1190.3L373.8 1192.1L376.0 1193.7L378.3 1195.0L380.7 1195.9L383.3 1196.6L386.0 1196.9L388.9 1197.1L391.9 1197.1L394.9 1196.9L397.9 1196.7L401.0 1196.5L404.1 1196.2L407.1 1196.1L410.0 1196.0L412.9 1196.1L416.0 1196.2L419.0 1196.4L422.1 1196.5L425.2 1196.7L428.2 1196.8L431.2 1196.8L434.1 1196.6L436.9 1196.3L439.5 1195.8L442.0 1195.0L444.7 1193.8L447.1 1192.4L449.4 1190.8L451.6 1189.0L453.7 1187.0L455.8 1184.9L457.8 1182.5L460.0 1180.0L461.4 1178.3L462.8 1176.4L464.3 1174.5L465.7 1172.4L467.2 1170.3L468.6 1168.0L470.0 1165.7L471.4 1163.3L472.9 1160.9L474.3 1158.4L475.6 1155.9L477.0 1153.4L478.4 1150.8L479.7 1148.2L481.0 1145.6L482.3 1143.1L483.5 1140.5L484.7 1138.0L485.8 1135.6L486.9 1133.2L487.9 1130.7L488.9 1128.3L489.9 1125.8L490.8 1123.3L491.7 1120.8L492.6 1118.2L493.5 1115.7L494.3 1113.1L495.2 1110.5L496.1 1107.9L497.0 1105.3L497.8 1102.6L498.7 1100.0L499.7 1097.3L500.6 1094.6L501.6 1091.9L502.6 1089.1L503.6 1086.4L504.5 1084.1L505.4 1081.8L506.3 1079.4L507.2 1077.1L508.2 1074.7L509.1 1072.3L510.1 1069.9L511.0 1067.4L512.0 1065.0L513.0 1062.5L514.0 1060.1L515.0 1057.6L516.0 1055.1L517.0 1052.6L518.0 1050.1L519.1 1047.6L520.1 1045.1L521.1 1042.6L522.1 1040.0L523.1 1037.5L524.2 1035.0L525.2 1032.5L526.2 1030.0L527.2 1027.5L528.2 1025.0L529.2 1022.5L530.2 1020.1L531.2 1017.6L532.2 1015.1L533.2 1012.7L534.2 1010.2L535.2 1007.8L536.2 1005.3L537.2 1002.9L538.3 1000.4L539.3 998.0L540.3 995.5L541.4 993.1L542.4 990.6L543.4 988.2L544.5 985.7L545.5 983.3L546.5 980.8L547.5 978.4L548.5 975.9L549.5 973.5L550.5 971.0L551.5 968.6L552.4 966.1L553.4 963.6L554.3 961.2L555.2 958.7L556.1 956.2L557.0 953.8L557.9 951.3L558.7 948.8L559.5 946.3L560.3 943.7L561.1 941.2L561.9 938.6L562.6 936.1L563.3 933.5L564.0 930.9L564.6 928.3L565.3 925.7L565.9 923.1L566.6 920.6L567.2 918.0L567.8 915.4L568.5 912.8L569.1 910.2L569.7 907.7L570.4 905.1L571.0 902.5L571.7 900.0L572.3 897.4L573.0 894.9L573.7 892.4L574.5 889.9L575.2 887.4L576.0 884.9L576.8 882.4L577.6 880.0L578.5 877.5L579.4 875.0L580.3 872.4L581.3 869.9L582.3 867.3L583.3 864.8L584.3 862.2L585.3 859.7L586.3 857.2L587.4 854.7L588.4 852.2L589.5 849.7L590.6 847.2L591.6 844.8L592.7 842.3L593.8 839.9L594.8 837.6L595.9 835.2L596.9 832.9L598.0 830.7L599.0 828.4L600.0 826.3L601.0 824.1L602.0 822.0L603.0 820.0L604.4 817.2L605.7 814.5L607.1 811.9L608.4 809.4L609.8 806.9L611.1 804.5L612.4 802.2L613.7 799.9L615.0 797.5L616.3 795.2L617.6 792.8L618.9 790.3L620.2 787.8L621.4 785.3L622.7 782.7L623.9 780.0L625.0 777.3L626.2 774.5L627.4 771.8L628.6 769.0L629.7 766.3L630.9 763.7L632.2 761.1L633.4 758.6L634.7 756.2L636.0 753.9L637.4 751.7L639.1 749.2L640.9 746.7L642.6 744.3L644.4 742.1L646.3 739.9L648.2 737.9L650.2 736.1L652.3 734.4L654.6 732.8L657.1 731.4L659.8 730.1L662.6 728.9L665.5 727.9L668.4 727.1L671.5 726.4L674.5 725.8L677.5 725.3L680.4 725.0L683.2 724.8L686.1 724.8L689.0 724.8L691.9 725.1L694.8 725.4L697.6 725.8L700.5 726.3L703.4 726.9L706.2 727.6L708.8 728.3L711.4 729.1L714.0 730.0L716.6 731.0L719.2 732.0L721.8 733.2L724.4 734.3L726.9 735.5L729.5 736.7L732.0 738.0L734.4 739.2L736.7 740.5L739.1 741.9L741.4 743.3L743.8 744.8L746.1 746.2L748.4 747.7L750.8 749.2L753.1 750.6L755.4 752.0L757.8 753.4L760.4 754.9L763.0 756.4L765.6 758.0L768.3 759.6L770.9 761.1L773.5 762.6L776.1 764.0L778.7 765.2L781.2 766.3L783.6 767.2L787.1 768.3L790.5 769.1L793.8 769.6L797.2 769.8L800.8 769.8L803.5 769.6L806.3 769.3L809.3 768.8L812.3 768.2L815.3 767.5L818.3 766.7L821.2 765.8L824.0 764.8L826.6 763.7L829.4 762.3L832.0 760.8L834.4 759.2L836.8 757.5L839.2 755.6L841.5 753.7L843.8 751.7L846.0 749.8L848.1 747.7L850.2 745.6L852.3 743.4L854.3 741.1L856.3 738.9L858.2 736.7L860.0 734.5L861.9 732.2L863.6 730.1L865.3 728.0L866.9 725.7L868.6 723.1L870.4 720.0L871.3 718.4L872.2 716.6L873.1 714.7L874.1 712.7L875.1 710.5L876.1 708.3L877.1 705.9L878.1 703.5L879.2 701.0L880.3 698.4L881.3 695.8L882.4 693.1L883.5 690.4L884.6 687.7L885.7 685.0L886.8 682.2L887.8 679.4L888.9 676.7L890.0 673.9L891.0 671.2L892.1 668.6L893.1 666.0L894.1 663.4L895.1 660.9L896.1 658.5L897.0 656.2L898.1 653.5L899.1 650.9L900.2 648.3L901.2 645.7L902.2 643.1L903.2 640.6L904.2 638.1L905.2 635.6L906.2 633.1L907.1 630.6L908.1 628.2L909.1 625.7L910.1 623.3L911.0 620.9L912.0 618.4L913.0 616.0L914.0 613.6L915.0 611.2L916.0 608.8L917.1 606.2L918.2 603.7L919.2 601.1L920.3 598.5L921.4 595.9L922.4 593.3L923.5 590.7L924.6 588.2L925.7 585.6L926.8 583.1L927.9 580.7L929.0 578.3L930.1 575.9L931.3 573.6L932.5 571.3L933.7 569.1L934.9 567.0L936.5 564.3L938.2 561.4L939.9 558.4L941.7 555.5L943.5 552.6L945.3 550.0L947.1 547.6L948.8 545.5L950.6 543.9L952.3 542.8L953.9 542.3L957.0 543.0L960.0 545.3L962.8 548.5L965.3 551.8L966.7 554.0L968.0 556.3L969.1 558.9L970.1 561.6L971.0 564.4L971.9 567.5L972.9 570.8L973.5 572.9L974.1 575.1L974.6 577.4L975.2 579.8L975.7 582.3L976.3 584.8L976.8 587.5L977.3 590.1L977.8 592.9L978.3 595.7L978.8 598.5L979.3 601.3L979.8 604.2L980.3 607.0L980.8 609.9L981.3 612.7L981.8 615.5L982.3 618.3L982.7 620.8L983.2 623.3L983.6 625.9L984.1 628.4L984.5 631.0L985.0 633.6L985.4 636.3L985.9 638.9L986.3 641.6L986.7 644.2L987.2 646.9L987.6 649.5L988.0 652.2L988.4 654.8L988.9 657.5L989.3 660.1L989.7 662.7L990.1 665.2L990.6 667.8L991.0 670.3L991.4 672.8L991.8 675.2L992.3 678.1L992.8 680.9L993.3 683.6L993.7 686.3L994.2 688.9L994.7 691.5L995.1 694.1L995.6 696.7L996.0 699.3L996.5 701.9L997.0 704.6L997.5 707.3L997.9 710.1L998.4 713.0L998.9 715.9L999.4 719.0L999.8 721.3L1000.1 723.6L1000.5 726.0L1000.9 728.5L1001.2 731.0L1001.6 733.5L1002.0 736.1L1002.4 738.7L1002.8 741.4L1003.1 744.1L1003.5 746.8L1003.9 749.5L1004.3 752.2L1004.7 755.0L1005.1 757.7L1005.5 760.5L1005.9 763.2L1006.3 766.0L1006.7 768.7L1007.1 771.5L1007.5 774.2L1007.9 776.9L1008.3 779.6L1008.7 782.2L1009.1 784.8L1009.5 787.4L1010.0 790.0L1010.4 792.5L1010.8 794.9L1011.3 797.7L1011.8 800.4L1012.3 803.1L1012.8 805.8L1013.3 808.4L1013.8 811.0L1014.3 813.6L1014.8 816.2L1015.3 818.8L1015.8 821.3L1016.3 823.9L1016.8 826.4L1017.3 829.0L1017.9 831.5L1018.4 834.0L1018.9 836.5L1019.5 839.0L1020.0 841.6L1020.5 844.1L1021.1 846.7L1021.6 849.2L1022.2 851.8L1022.8 854.4L1023.3 857.0L1023.9 859.6L1024.5 862.2L1025.1 864.9L1025.7 867.5L1026.3 870.1L1026.9 872.8L1027.6 875.4L1028.2 878.0L1028.8 880.6L1029.4 883.3L1030.0 885.9L1030.6 888.5L1031.3 891.1L1031.9 893.6L1032.5 896.2L1033.1 898.8L1033.7 901.3L1034.3 903.8L1034.9 906.3L1035.5 908.8L1036.1 911.5L1036.8 914.3L1037.4 917.0L1038.0 919.7L1038.6 922.4L1039.2 925.1L1039.9 927.8L1040.5 930.4L1041.1 933.0L1041.7 935.7L1042.3 938.3L1042.9 940.9L1043.6 943.5L1044.2 946.0L1044.8 948.6L1045.5 951.1L1046.2 953.7L1046.9 956.2L1047.7 959.0L1048.5 961.8L1049.3 964.5L1050.1 967.2L1050.9 969.9L1051.7 972.6L1052.5 975.3L1053.4 977.9L1054.3 980.6L1055.1 983.2L1056.1 985.9L1057.0 988.5L1058.0 991.1L1059.0 993.8L1060.0 996.4L1061.0 998.9L1062.1 1001.5L1063.2 1004.0L1064.3 1006.5L1065.5 1009.1L1066.7 1011.6L1067.9 1014.1L1069.1 1016.7L1070.3 1019.2L1071.5 1021.7L1072.8 1024.1L1074.0 1026.6L1075.3 1029.1L1076.5 1031.5L1077.8 1033.9L1079.0 1036.3L1080.3 1038.9L1081.6 1041.4L1082.9 1044.0L1084.2 1046.6L1085.6 1049.1L1086.9 1051.7L1088.2 1054.2L1089.5 1056.7L1090.9 1059.1L1092.3 1061.5L1093.7 1063.8L1095.1 1066.1L1096.5 1068.3L1098.0 1070.4L1099.8 1072.8L1101.6 1075.1L1103.5 1077.4L1105.3 1079.5L1107.2 1081.6L1109.2 1083.6L1111.1 1085.6L1113.1 1087.5L1115.0 1089.4L1117.0 1091.3L1119.3 1093.3L1121.7 1095.2L1124.1 1097.0L1126.5 1098.8L1128.9 1100.5L1131.3 1102.4L1133.6 1104.3L1135.9 1106.5L1137.7 1108.5L1139.5 1110.5L1141.2 1112.7L1143.0 1115.0L1144.7 1117.3L1146.3 1119.7L1148.0 1122.1L1149.7 1124.5L1151.4 1126.8L1153.1 1129.0L1154.9 1131.2L1156.8 1133.4L1158.6 1135.6L1160.5 1137.8L1162.4 1139.9L1164.3 1142.0L1166.2 1144.1L1168.1 1146.1L1170.0 1148.2L1172.0 1150.1L1173.9 1152.1L1176.0 1154.1L1178.1 1156.1L1180.2 1158.0L1182.3 1159.8L1184.4 1161.7L1186.5 1163.5L1188.7 1165.4L1190.8 1167.2L1192.9 1169.1L1195.0 1171.0L1197.1 1172.9L1199.2 1174.9L1201.3 1176.8L1203.4 1178.7L1205.5 1180.6L1207.6 1182.5L1209.7 1184.4L1211.8 1186.2L1214.1 1188.2L1216.5 1190.1L1218.9 1192.0L1221.3 1193.9L1223.7 1195.8L1226.0 1197.6L1228.4 1199.5L1230.8 1201.4L1233.2 1203.3L1235.5 1205.3L1237.9 1207.3L1240.2 1209.3L1242.6 1211.3L1245.0 1213.2L1247.4 1214.9L1249.8 1216.6L1252.4 1218.3L1255.1 1219.9L1257.8 1221.4L1260.5 1222.8L1263.3 1224.1L1266.0 1225.2L1268.8 1226.1L1271.8 1226.8L1274.8 1227.4L1277.9 1227.7L1281.0 1227.8L1284.2 1227.9L1287.7 1228.0L1290.3 1228.0L1293.0 1227.9L1295.8 1227.8L1298.7 1227.5L1301.7 1227.3L1304.7 1227.0L1307.7 1226.8L1310.8 1226.5L1313.9 1226.3L1316.9 1226.1L1320.0 1226.0L1322.8 1226.0L1325.6 1226.0L1328.5 1226.0L1331.4 1226.1L1334.3 1226.2L1337.2 1226.3L1340.1 1226.4L1343.0 1226.5L1345.9 1226.6L1348.7 1226.6L1351.6 1226.6L1354.3 1226.6L1357.0 1226.5L1360.0 1226.3L1362.9 1226.1L1365.8 1225.8L1368.6 1225.5L1371.4 1225.2L1374.2 1224.8L1377.0 1224.5L1379.8 1224.1L1382.6 1223.8L1385.4 1223.6L1388.2 1223.4L1391.1 1223.3L1393.9 1223.2L1396.8 1223.1L1399.7 1223.0L1402.5 1222.9L1405.4 1222.8L1408.2 1222.6L1411.1 1222.4L1413.9 1222.2L1416.8 1221.9L1419.6 1221.6L1422.5 1221.3L1425.3 1220.9L1428.2 1220.5L1431.0 1220.0L1433.9 1219.6L1436.7 1219.1L1439.6 1218.5L1442.4 1217.9L1445.3 1217.2L1448.1 1216.4L1450.9 1215.6L1453.7 1214.6L1456.5 1213.7L1459.3 1212.8L1462.1 1211.8L1465.0 1211.0L1467.9 1210.1L1470.9 1209.4L1473.5 1208.8L1476.3 1208.3L1479.2 1207.9L1482.1 1207.5L1485.0 1207.1L1488.0 1206.7L1490.9 1206.4L1493.8 1206.0L1496.6 1205.6L1499.3 1205.2L1501.9 1204.7L1504.3 1204.2L1506.5 1203.7L1509.8 1202.8L1512.6 1201.8L1515.3 1200.8L1517.9 1199.6L1520.7 1198.0L1523.0 1196.6L1525.3 1194.9L1527.8 1193.0L1530.2 1190.9L1532.7 1188.8L1535.1 1186.7L1537.5 1184.7L1539.8 1182.7L1542.0 1180.9L1544.5 1178.9L1546.8 1176.9L1549.1 1175.0L1551.3 1173.1L1553.6 1171.4L1556.0 1169.7L1558.5 1168.2L1561.0 1166.7L1563.6 1165.4L1566.3 1164.1L1569.1 1162.9L1572.0 1161.7L1574.8 1160.7L1577.7 1159.7L1580.8 1158.7L1583.9 1157.8L1587.1 1157.0L1590.2 1156.2L1593.2 1155.7L1596.0 1155.3L1599.4 1155.0L1602.6 1155.0L1605.8 1155.2L1608.9 1155.6L1612.0 1156.1L1615.2 1157.0L1618.4 1158.2L1621.6 1159.5L1624.8 1160.8L1628.0 1161.7L1631.1 1162.3L1634.2 1162.7L1637.3 1163.0L1640.6 1163.2L1644.0 1163.3L1646.8 1163.3L1649.7 1163.2L1652.7 1163.1L1655.7 1162.8L1658.9 1162.6L1662.0 1162.3L1665.1 1162.0L1668.1 1161.7L1671.2 1161.4L1674.3 1161.2L1677.4 1161.0L1680.5 1160.8L1683.6 1160.5L1686.6 1160.0L1689.4 1159.4L1692.1 1158.5L1695.1 1157.1L1697.8 1155.4L1700.5 1153.5L1703.0 1151.4L1705.5 1149.3L1708.1 1147.3L1710.4 1145.6L1712.8 1144.1L1715.2 1142.5L1717.5 1140.9L1719.8 1139.0L1722.0 1137.0L1724.1 1134.5L1725.4 1132.6L1726.7 1130.6L1727.9 1128.4L1729.1 1126.0L1730.2 1123.5L1731.3 1120.9L1732.4 1118.3L1733.4 1115.5L1734.4 1112.7L1735.4 1109.9L1736.4 1107.1L1737.3 1104.3L1738.3 1101.5L1739.2 1098.8L1740.1 1096.1L1741.0 1093.5L1741.8 1090.9L1742.6 1088.3L1743.4 1085.8L1744.2 1083.2L1744.9 1080.6L1745.6 1078.0L1746.3 1075.4L1747.0 1072.8L1747.7 1070.1L1748.4 1067.4L1749.1 1064.6L1749.8 1061.8L1750.5 1058.9L1751.3 1056.0L1751.9 1053.6L1752.6 1051.1L1753.3 1048.4L1754.0 1045.5L1754.7 1042.6L1755.5 1039.6L1756.2 1036.5L1757.0 1033.4L1757.8 1030.3L1758.6 1027.1L1759.3 1024.0L1760.1 1020.9L1760.8 1017.9L1761.6 1014.9L1762.2 1012.1L1762.9 1009.3L1763.5 1006.7L1764.1 1004.3L1764.6 1002.0L1765.1 999.9L1765.5 998.1L1765.8 996.4L1766.1 995.1L1766.3 994.0L1766.7 991.0L1767.1 987.6L1767.7 983.3L1768.2 979.0L1768.8 975.0L1769.3 971.0L1769.9 967.0L1770.5 963.0L1771.1 959.0L1771.7 955.0L1772.3 951.0L1772.9 947.0L1773.5 943.0L1774.1 939.0L1774.8 935.0L1775.4 931.0L1776.1 927.0L1776.7 923.0L1777.4 919.0L1778.1 915.0L1778.8 911.0L1779.5 907.0L1780.2 903.0L1780.9 899.0L1781.6 895.0L1782.3 891.0L1783.1 887.0L1783.8 883.0L1784.5 879.0L1785.3 875.0L1786.0 871.0L1786.8 867.0L1787.5 863.0L1788.3 859.0L1789.0 855.0L1789.8 851.0L1790.6 847.0L1791.3 843.0L1792.1 839.0L1792.9 835.0L1793.6 831.0L1794.4 827.0L1795.2 823.0L1796.0 819.0L1796.7 815.0L1797.5 811.0L1798.3 807.0L1799.1 803.0L1799.8 799.0L1800.6 795.0L1801.4 791.0L1802.1 787.0L1802.9 783.0L1803.7 779.0L1804.4 775.0L1805.2 771.0L1805.9 767.0L1806.7 763.0L1807.4 759.0L1808.2 755.0L1808.9 751.0L1809.7 747.0L1810.4 743.0L1811.1 739.0L1811.8 735.0L1812.5 731.0L1813.3 727.0L1814.0 723.0L1814.6 719.0L1815.3 715.0L1816.0 711.0L1816.7 707.0L1817.3 703.0L1818.0 699.0L1818.6 695.0L1819.3 691.0L1819.9 687.0L1820.5 683.0L1821.2 679.0L1821.8 675.0L1822.4 671.0L1823.0 667.0L1823.6 663.0L1824.2 659.0L1824.7 655.0L1825.3 651.0L1825.9 647.0L1826.4 643.0L1827.0 639.0L1827.6 635.0L1828.1 631.0L1828.7 627.0L1829.2 623.0L1829.7 619.0L1830.3 615.0L1830.8 611.0L1831.3 607.0L1831.8 603.0L1832.4 599.0L1832.9 595.0L1833.4 591.0L1833.9 587.0L1834.4 583.0L1834.9 579.0L1835.4 575.0L1835.9 571.0L1836.4 567.0L1836.9 563.0L1837.4 559.0L1837.9 555.0L1838.4 551.0L1838.9 547.0L1839.4 543.0L1839.8 539.0L1840.3 535.0L1840.8 531.0L1841.3 527.0L1841.8 523.0L1842.3 519.0L1842.8 515.0L1843.3 511.0L1843.8 507.0L1844.3 503.0L1844.8 499.0L1845.3 495.0L1845.8 491.0L1846.3 487.0L1846.8 483.0L1847.3 479.0L1847.8 475.0L1848.3 471.0L1848.9 467.0L1849.4 463.0L1849.9 459.0L1850.5 455.0L1851.0 451.0L1851.6 447.0L1852.1 443.0L1852.7 439.0L1853.3 435.0L1853.9 431.0L1854.5 427.0L1855.1 423.0L1855.7 419.0L1856.3 415.0L1856.9 411.0L1857.6 407.0L1858.2 403.0L1858.9 399.0L1859.6 395.0L1860.2 391.0L1860.9 387.0L1861.6 383.0L1862.4 379.0L1863.0 375.0L1863.7 371.0L1864.6 367.0L1865.5 363.6L1866.5 360.0L1867.7 356.7L1869.0 354.0L1873.6 349.5L1878.0 353.0L1879.9 355.4L1881.9 358.4L1883.8 361.7L1885.3 365.0L1886.3 368.9L1886.8 373.0L1887.2 377.0L1887.9 381.0L1888.5 385.0L1889.1 389.0L1889.8 393.0L1890.4 397.0L1891.0 401.0L1891.6 405.0L1892.1 409.0L1892.7 413.0L1893.3 417.0L1893.9 421.0L1894.4 425.0L1895.0 429.0L1895.5 433.0L1896.1 437.0L1896.6 441.0L1897.1 445.0L1897.7 449.0L1898.2 453.0L1898.7 457.0L1899.2 461.0L1899.7 465.0L1900.2 469.0L1900.7 473.0L1901.2 477.0L1901.7 481.0L1902.2 485.0L1902.7 489.0L1903.2 493.0L1903.6 497.0L1904.1 501.0L1904.6 505.0L1905.0 509.0L1905.5 513.0L1906.0 517.0L1906.4 521.0L1906.9 525.0L1907.3 529.0L1907.8 533.0L1908.3 537.0L1908.7 541.0L1909.2 545.0L1909.6 549.0L1910.1 553.0L1910.5 557.0L1911.0 561.0L1911.4 565.0L1911.9 569.0L1912.3 573.0L1912.8 577.0L1913.2 581.0L1913.7 585.0L1914.1 589.0L1914.6 593.0L1915.0 597.0L1915.5 601.0L1915.9 605.0L1916.4 609.0L1916.9 613.0L1917.3 617.0L1917.8 621.0L1918.3 625.0L1918.7 629.0L1919.2 633.0L1919.7 637.0L1920.2 641.0L1920.7 645.0L1921.2 649.0L1921.7 653.0L1922.2 657.0L1922.7 661.0L1923.2 665.0L1923.7 669.0L1924.2 673.0L1924.7 677.0L1925.2 681.0L1925.8 685.0L1926.3 689.0L1926.8 693.0L1927.4 697.0L1927.9 701.0L1928.5 705.0L1929.1 709.0L1929.6 713.0L1930.2 717.0L1930.8 721.0L1931.4 725.0L1932.0 729.0L1932.6 733.0L1933.2 737.0L1933.9 741.0L1934.5 745.0L1935.1 749.0L1935.8 753.0L1936.4 757.0L1937.1 761.0L1937.8 765.0L1938.5 769.0L1939.1 773.0L1939.9 777.0L1940.6 781.0L1941.3 785.0L1942.0 789.0L1942.8 793.0L1943.5 797.0L1944.3 801.0L1945.0 805.0L1945.8 809.0L1946.6 813.0L1947.4 817.0L1948.3 821.0L1949.1 825.0L1949.9 829.0L1950.8 833.0L1951.6 837.0L1952.5 841.0L1953.4 845.0L1954.3 849.0L1955.2 853.0L1956.2 857.0L1957.1 861.0L1958.1 865.0L1959.0 869.0L1960.0 873.0L1961.0 877.0L1962.0 881.0L1963.1 885.0L1964.1 889.0L1965.1 893.0L1966.2 897.0L1967.3 901.0L1968.4 905.0L1969.5 909.0L1970.7 913.0L1971.8 917.0L1972.7 920.0L1973.5 923.0L1974.4 926.0L1975.3 929.0L1976.3 932.1L1977.2 935.2L1978.1 938.2L1979.0 941.0L1980.0 944.8L1981.6 949.0L1982.3 950.5L1983.2 952.2L1984.2 954.2L1985.3 956.4L1986.6 958.7L1988.0 961.1L1989.4 963.7L1990.9 966.3L1992.6 969.0L1994.2 971.7L1995.9 974.4L1997.7 977.1L1999.5 979.7L2001.3 982.2L2003.1 984.6L2004.9 986.9L2006.8 988.9L2008.5 990.8L2010.3 992.4L2012.0 993.8L2014.6 995.5L2017.2 997.0L2019.9 998.1L2022.6 999.1L2025.3 999.8L2028.1 1000.3L2031.0 1000.7L2033.9 1001.0L2036.9 1001.2L2039.4 1001.2L2041.9 1001.1L2044.6 1000.9L2047.2 1000.5L2049.9 1000.0L2052.7 999.4L2055.4 998.8L2058.2 998.1L2061.0 997.4L2063.8 996.8L2066.5 996.1L2069.3 995.5L2072.0 995.0"/>
<path id="cBLUE" d="M192.0 1105.0L194.9 1107.9L197.8 1111.4L199.0 1113.4L200.3 1115.7L201.6 1118.4L202.9 1121.2L204.2 1124.2L205.5 1127.3L206.9 1130.3L208.2 1133.3L209.6 1136.2L210.9 1138.8L212.1 1141.4L213.4 1144.1L214.7 1146.8L216.0 1149.4L217.3 1152.1L218.6 1154.7L219.9 1157.3L221.2 1159.8L222.6 1162.3L224.2 1165.1L225.7 1167.9L227.3 1170.7L228.9 1173.4L230.6 1176.0L232.2 1178.6L233.9 1181.0L235.7 1183.2L237.8 1185.6L239.9 1187.8L242.1 1189.9L244.3 1191.8L246.5 1193.5L248.7 1195.0L252.2 1196.9L255.7 1198.3L259.2 1198.9L263.9 1198.4L268.3 1196.3L270.1 1194.4L271.7 1192.1L273.2 1189.3L274.7 1186.3L276.2 1183.2L277.4 1181.0L278.6 1178.6L279.8 1176.2L281.0 1173.7L282.2 1171.1L283.4 1168.4L284.6 1165.7L285.9 1162.9L287.1 1160.0L288.1 1157.7L289.1 1155.2L290.0 1152.7L291.0 1150.1L292.0 1147.5L293.0 1144.8L294.0 1142.1L295.0 1139.4L296.0 1136.7L297.1 1134.0L298.1 1131.4L299.2 1128.8L300.3 1126.2L301.4 1123.8L302.7 1120.9L304.0 1117.7L305.3 1114.4L306.7 1111.0L308.0 1107.7L309.4 1104.6L310.8 1101.8L312.3 1099.3L313.8 1097.4L315.4 1096.0L317.0 1095.3L319.3 1095.4L321.8 1096.6L324.3 1098.4L326.9 1100.9L329.5 1103.7L331.9 1106.7L334.1 1109.6L335.4 1111.6L336.6 1113.7L337.8 1116.0L338.8 1118.5L339.8 1121.1L340.8 1123.8L341.7 1126.5L342.7 1129.3L343.6 1132.0L344.5 1134.8L345.4 1137.5L346.4 1140.2L347.4 1142.8L348.4 1145.2L349.6 1148.0L350.8 1150.8L352.0 1153.6L353.2 1156.4L354.5 1159.1L355.7 1161.8L357.0 1164.4L358.3 1166.9L359.7 1169.3L361.1 1171.6L362.6 1173.7L364.6 1176.2L366.6 1178.6L368.6 1180.8L370.8 1182.8L373.1 1184.7L375.6 1186.4L378.3 1187.9L380.7 1189.0L383.2 1189.9L386.0 1190.6L388.8 1191.3L391.8 1191.9L394.8 1192.4L397.9 1192.8L401.0 1193.1L404.0 1193.4L407.1 1193.7L410.0 1194.0L412.9 1194.3L415.9 1194.7L418.9 1195.1L422.0 1195.4L425.0 1195.7L428.1 1195.9L431.0 1196.0L433.9 1195.8L436.7 1195.5L439.4 1194.9L442.0 1194.0L444.3 1192.9L446.5 1191.5L448.6 1189.8L450.7 1188.0L452.7 1186.0L454.6 1183.9L456.5 1181.6L458.3 1179.3L460.0 1177.0L461.7 1174.6L463.4 1172.3L465.0 1170.0L466.5 1167.7L468.0 1165.4L469.3 1163.0L470.6 1160.6L471.8 1158.2L473.0 1155.7L474.2 1153.1L475.3 1150.6L476.4 1148.0L477.6 1145.3L478.8 1142.7L480.0 1140.0L481.1 1137.7L482.1 1135.4L483.2 1133.1L484.2 1130.8L485.2 1128.5L486.3 1126.1L487.3 1123.7L488.3 1121.3L489.4 1118.9L490.4 1116.4L491.5 1113.8L492.6 1111.2L493.6 1108.5L494.7 1105.8L495.9 1102.9L497.0 1100.0L497.8 1097.9L498.6 1095.8L499.4 1093.6L500.3 1091.4L501.1 1089.1L502.0 1086.8L502.8 1084.4L503.7 1082.0L504.6 1079.5L505.5 1077.0L506.3 1074.5L507.2 1071.9L508.1 1069.4L509.0 1066.8L510.0 1064.2L510.9 1061.5L511.8 1058.9L512.7 1056.3L513.6 1053.6L514.5 1050.9L515.4 1048.3L516.3 1045.6L517.2 1043.0L518.1 1040.4L519.0 1037.7L519.9 1035.1L520.8 1032.5L521.7 1030.0L522.6 1027.4L523.4 1024.9L524.3 1022.4L525.2 1020.0L526.0 1017.6L526.9 1015.0L527.8 1012.5L528.7 1010.0L529.6 1007.4L530.4 1004.9L531.3 1002.4L532.2 1000.0L533.0 997.5L533.9 995.0L534.7 992.6L535.6 990.1L536.5 987.7L537.3 985.2L538.1 982.8L539.0 980.4L539.8 978.0L540.7 975.5L541.5 973.1L542.4 970.7L543.2 968.3L544.1 965.9L544.9 963.4L545.7 961.0L546.6 958.6L547.4 956.1L548.3 953.7L549.1 951.3L550.0 948.8L550.9 946.3L551.7 943.9L552.6 941.4L553.5 939.0L554.4 936.5L555.3 934.0L556.2 931.6L557.1 929.1L558.0 926.7L558.9 924.2L559.8 921.7L560.7 919.3L561.6 916.8L562.5 914.3L563.4 911.9L564.2 909.4L565.1 907.0L566.0 904.5L566.8 902.0L567.7 899.6L568.5 897.1L569.4 894.7L570.2 892.2L571.0 889.8L571.7 887.3L572.5 884.9L573.3 882.4L574.0 880.0L574.8 877.4L575.5 874.8L576.2 872.2L576.9 869.6L577.6 866.9L578.2 864.3L578.8 861.7L579.5 859.1L580.1 856.5L580.7 853.9L581.2 851.4L581.8 848.8L582.4 846.2L583.0 843.6L583.6 841.0L584.2 838.4L584.7 835.8L585.4 833.2L586.0 830.6L586.6 828.0L587.2 825.4L587.9 822.8L588.6 820.2L589.3 817.6L590.0 815.0L590.7 812.5L591.4 810.0L592.2 807.5L592.9 804.9L593.7 802.4L594.4 799.8L595.2 797.2L596.0 794.6L596.8 792.0L597.6 789.4L598.4 786.8L599.2 784.2L600.0 781.6L600.9 779.1L601.7 776.5L602.5 774.0L603.3 771.5L604.2 769.0L605.0 766.5L605.8 764.0L606.7 761.6L607.5 759.3L608.3 756.9L609.1 754.6L610.0 752.4L610.8 750.2L611.6 748.0L612.7 745.2L613.7 742.5L614.8 739.8L615.8 737.1L616.8 734.6L617.9 732.0L618.9 729.5L620.0 727.0L621.0 724.6L622.1 722.2L623.2 719.9L624.3 717.6L625.4 715.3L626.5 713.1L627.6 710.9L628.8 708.7L630.3 706.0L631.7 703.4L633.2 700.7L634.7 698.1L636.2 695.6L637.7 693.1L639.3 690.8L640.9 688.5L642.5 686.5L644.2 684.6L646.0 682.9L648.7 680.8L651.5 678.9L654.3 677.4L657.3 676.1L660.2 675.1L663.2 674.3L666.6 673.7L670.0 673.5L673.5 673.6L677.0 673.9L680.4 674.3L683.3 674.8L686.1 675.5L688.8 676.3L691.7 677.3L694.6 678.4L697.6 679.5L700.0 680.5L702.5 681.5L705.0 682.7L707.6 683.9L710.2 685.2L712.8 686.5L715.5 687.8L718.1 689.1L720.8 690.3L723.4 691.5L726.0 692.6L728.5 693.7L731.1 694.7L733.7 695.7L736.3 696.8L738.9 697.8L741.4 698.8L744.0 699.8L746.6 700.8L749.2 701.8L751.8 702.9L754.3 704.0L756.9 705.2L759.5 706.3L762.0 707.5L764.6 708.6L767.2 709.6L769.8 710.6L772.4 711.4L775.0 712.0L777.9 712.6L780.8 713.0L783.8 713.4L786.7 713.6L789.7 713.8L792.6 713.8L795.5 713.7L798.2 713.4L800.8 713.0L803.9 712.2L806.9 711.2L809.8 710.0L812.6 708.6L815.3 707.0L818.0 705.3L820.2 703.8L822.4 702.1L824.6 700.4L826.7 698.5L828.8 696.6L830.9 694.4L833.0 692.2L835.2 689.8L836.7 688.1L838.3 686.2L839.8 684.3L841.4 682.3L843.0 680.2L844.7 678.0L846.3 675.8L847.9 673.6L849.5 671.3L851.1 668.9L852.7 666.6L854.2 664.3L855.7 661.9L857.2 659.6L858.6 657.3L860.0 655.0L861.4 652.6L862.7 650.2L864.0 647.8L865.2 645.4L866.4 643.0L867.6 640.5L868.8 638.1L869.9 635.6L871.1 633.1L872.2 630.7L873.3 628.2L874.5 625.7L875.6 623.2L876.8 620.8L878.0 618.3L879.2 615.8L880.5 613.3L881.8 610.8L883.0 608.3L884.3 605.8L885.6 603.3L886.9 600.8L888.2 598.3L889.4 595.8L890.7 593.2L892.0 590.7L893.3 588.1L894.5 585.5L895.8 582.9L897.0 580.3L898.1 577.9L899.2 575.5L900.3 573.0L901.3 570.4L902.4 567.8L903.5 565.2L904.6 562.6L905.6 559.9L906.7 557.3L907.8 554.7L908.8 552.2L909.9 549.7L910.9 547.3L911.9 544.9L913.0 542.7L914.0 540.5L915.0 538.5L916.0 536.6L917.6 533.6L919.2 530.9L920.8 528.3L922.4 526.0L923.9 523.7L925.6 521.6L927.3 519.6L930.1 516.4L933.0 513.3L935.9 510.9L938.7 510.0L941.2 511.0L943.7 513.2L946.0 516.3L948.2 519.6L949.5 521.7L950.7 524.1L951.8 526.6L952.9 529.3L953.9 532.2L954.9 535.1L955.9 538.1L956.8 541.2L957.7 544.2L958.4 546.7L959.1 549.3L959.7 552.0L960.3 554.7L960.9 557.5L961.5 560.3L962.0 563.1L962.6 566.0L963.1 568.9L963.6 571.7L964.2 574.6L964.7 577.5L965.3 580.3L965.9 583.0L966.4 585.6L967.0 588.3L967.5 591.0L968.1 593.6L968.6 596.3L969.2 599.0L969.7 601.7L970.3 604.4L970.8 607.1L971.3 609.9L971.9 612.6L972.4 615.4L972.9 618.3L973.3 620.8L973.8 623.3L974.2 625.9L974.6 628.5L975.0 631.1L975.5 633.8L975.9 636.4L976.3 639.1L976.7 641.8L977.1 644.5L977.5 647.1L977.9 649.8L978.3 652.5L978.7 655.2L979.1 657.8L979.6 660.5L980.0 663.1L980.4 665.7L980.9 668.5L981.3 671.3L981.8 674.1L982.3 676.9L982.8 679.6L983.2 682.4L983.7 685.1L984.2 687.9L984.7 690.6L985.2 693.4L985.6 696.1L986.1 698.9L986.6 701.6L987.1 704.4L987.5 707.2L988.0 710.0L988.4 712.6L988.9 715.1L989.3 717.7L989.7 720.2L990.1 722.8L990.6 725.4L991.0 727.9L991.4 730.5L991.9 733.1L992.3 735.7L992.7 738.3L993.1 740.9L993.5 743.5L994.0 746.1L994.4 748.8L994.8 751.5L995.2 754.2L995.6 756.9L996.0 759.4L996.3 761.9L996.7 764.4L997.0 767.0L997.4 769.6L997.7 772.2L998.1 774.8L998.4 777.4L998.7 780.1L999.1 782.7L999.4 785.4L999.7 788.0L1000.1 790.7L1000.4 793.3L1000.8 796.0L1001.1 798.6L1001.4 801.2L1001.8 803.8L1002.1 806.4L1002.5 808.9L1002.8 811.4L1003.2 813.9L1003.6 816.6L1004.0 819.4L1004.4 822.1L1004.8 824.7L1005.2 827.4L1005.6 830.0L1006.0 832.7L1006.4 835.3L1006.8 837.9L1007.3 840.5L1007.7 843.1L1008.1 845.7L1008.5 848.3L1009.0 850.9L1009.4 853.5L1009.9 856.1L1010.3 858.7L1010.8 861.3L1011.3 863.9L1011.8 866.6L1012.3 869.2L1012.8 871.9L1013.3 874.5L1013.8 877.1L1014.4 879.8L1014.9 882.4L1015.4 885.1L1016.0 887.7L1016.5 890.3L1017.1 893.0L1017.6 895.6L1018.2 898.3L1018.7 900.9L1019.2 903.5L1019.8 906.2L1020.3 908.8L1020.8 911.4L1021.3 914.1L1021.8 916.8L1022.3 919.4L1022.8 922.1L1023.3 924.8L1023.8 927.5L1024.3 930.2L1024.8 932.9L1025.4 935.5L1025.9 938.2L1026.4 940.8L1026.9 943.4L1027.5 946.1L1028.0 948.6L1028.6 951.2L1029.2 953.7L1029.8 956.2L1030.5 959.1L1031.3 961.9L1032.1 964.8L1032.9 967.6L1033.8 970.4L1034.6 973.2L1035.5 976.0L1036.3 978.7L1037.2 981.4L1038.0 984.0L1038.9 986.6L1039.7 989.2L1040.5 991.7L1041.2 994.2L1042.1 997.3L1042.9 1000.3L1043.7 1003.2L1044.5 1006.1L1045.3 1008.9L1046.1 1011.7L1046.9 1014.5L1047.8 1017.2L1048.8 1020.0L1049.9 1022.7L1051.0 1025.3L1052.1 1027.9L1053.3 1030.5L1054.6 1033.1L1055.9 1035.7L1057.2 1038.3L1058.6 1041.1L1060.0 1043.9L1061.1 1046.1L1062.2 1048.4L1063.4 1050.8L1064.6 1053.2L1065.8 1055.7L1067.1 1058.2L1068.3 1060.7L1069.6 1063.2L1070.9 1065.8L1072.2 1068.3L1073.6 1070.7L1074.9 1073.1L1076.3 1075.5L1077.6 1077.7L1079.0 1079.9L1080.6 1082.4L1082.3 1084.9L1084.0 1087.3L1085.6 1089.7L1087.3 1092.0L1089.1 1094.3L1090.8 1096.5L1092.6 1098.6L1094.4 1100.7L1096.2 1102.7L1098.0 1104.6L1100.3 1106.8L1102.6 1108.9L1104.9 1110.9L1107.3 1112.8L1109.7 1114.6L1112.1 1116.4L1114.6 1118.1L1117.0 1119.8L1119.7 1121.5L1122.4 1123.1L1125.1 1124.5L1127.9 1126.0L1130.6 1127.5L1133.3 1129.2L1135.9 1131.2L1137.9 1132.9L1139.9 1134.8L1141.8 1136.8L1143.7 1139.0L1145.6 1141.1L1147.4 1143.3L1149.3 1145.6L1151.1 1147.8L1153.0 1150.0L1154.9 1152.1L1156.8 1154.2L1158.7 1156.4L1160.5 1158.5L1162.4 1160.7L1164.3 1162.9L1166.2 1165.0L1168.0 1167.1L1170.0 1169.2L1171.9 1171.1L1173.9 1172.9L1176.2 1174.8L1178.5 1176.6L1180.9 1178.2L1183.3 1179.8L1185.7 1181.3L1188.1 1182.9L1190.5 1184.5L1192.9 1186.2L1195.3 1188.0L1197.7 1189.9L1200.0 1191.8L1202.4 1193.7L1204.7 1195.6L1207.1 1197.6L1209.4 1199.5L1211.8 1201.4L1214.2 1203.3L1216.5 1205.2L1218.9 1207.2L1221.3 1209.1L1223.6 1211.0L1226.0 1212.9L1228.4 1214.8L1230.8 1216.6L1233.1 1218.4L1235.5 1220.2L1237.8 1221.9L1240.2 1223.7L1242.6 1225.4L1245.0 1227.0L1247.4 1228.5L1249.8 1229.9L1252.5 1231.3L1255.1 1232.6L1257.8 1233.8L1260.6 1234.9L1263.3 1235.9L1266.0 1236.8L1268.8 1237.5L1272.0 1238.2L1275.2 1238.8L1278.5 1239.2L1281.7 1239.4L1284.8 1239.5L1287.7 1239.4L1290.8 1238.9L1293.7 1238.1L1296.6 1237.2L1300.0 1236.4L1302.4 1236.0L1304.9 1235.7L1307.7 1235.4L1310.5 1235.1L1313.5 1234.8L1316.5 1234.5L1319.6 1234.3L1322.6 1234.0L1325.6 1233.8L1328.5 1233.6L1331.3 1233.4L1334.2 1233.3L1337.1 1233.2L1339.9 1233.1L1342.8 1233.1L1345.6 1233.0L1348.5 1232.9L1351.3 1232.7L1354.2 1232.5L1357.0 1232.2L1359.9 1231.8L1362.8 1231.4L1365.7 1231.0L1368.6 1230.5L1371.5 1230.0L1374.4 1229.4L1377.3 1228.8L1380.0 1228.1L1382.8 1227.3L1385.4 1226.5L1388.3 1225.5L1391.2 1224.5L1394.0 1223.3L1396.7 1222.1L1399.4 1220.9L1402.0 1219.5L1404.5 1218.1L1406.8 1216.5L1409.1 1214.8L1411.3 1212.9L1413.3 1211.0L1415.3 1208.9L1417.2 1206.8L1419.1 1204.6L1421.0 1202.3L1422.7 1200.2L1424.4 1198.0L1426.0 1195.7L1427.7 1193.3L1429.3 1190.9L1430.8 1188.5L1432.4 1186.0L1433.9 1183.4L1435.3 1180.9L1436.6 1178.4L1437.8 1175.9L1439.0 1173.3L1440.1 1170.6L1441.2 1168.0L1442.3 1165.3L1443.4 1162.7L1444.5 1160.1L1445.6 1157.6L1446.7 1155.3L1448.3 1152.2L1449.9 1149.3L1451.5 1146.4L1453.2 1143.7L1454.9 1140.9L1456.6 1138.2L1458.4 1135.4L1460.1 1132.6L1461.9 1129.8L1463.8 1127.1L1465.8 1124.6L1468.0 1122.5L1470.6 1120.4L1473.5 1118.5L1476.4 1116.9L1479.4 1115.8L1482.3 1115.4L1485.2 1115.8L1488.1 1116.9L1491.0 1118.5L1493.8 1120.5L1496.5 1122.5L1498.6 1124.4L1500.7 1126.7L1502.6 1129.3L1504.6 1131.9L1506.6 1134.3L1508.6 1136.5L1510.7 1138.2L1513.8 1140.0L1516.9 1141.4L1520.2 1142.2L1523.5 1142.5L1526.2 1142.2L1528.9 1141.4L1531.7 1140.3L1534.5 1138.9L1537.3 1137.5L1540.0 1136.0L1542.7 1134.4L1545.4 1132.6L1548.1 1130.6L1550.7 1128.7L1553.3 1126.7L1556.0 1124.9L1558.6 1123.2L1561.3 1121.5L1563.9 1119.9L1566.6 1118.3L1569.3 1116.8L1572.0 1115.3L1574.6 1113.9L1577.2 1112.5L1579.8 1111.2L1582.5 1110.0L1585.2 1108.9L1588.0 1108.1L1591.1 1107.4L1594.4 1106.9L1597.8 1106.6L1601.1 1106.5L1604.3 1106.8L1607.2 1107.3L1610.0 1108.3L1612.6 1109.6L1615.1 1111.2L1617.5 1113.1L1620.0 1115.3L1621.8 1117.1L1623.7 1119.2L1625.5 1121.4L1627.3 1123.8L1629.1 1126.3L1630.8 1128.8L1632.6 1131.3L1634.3 1133.7L1636.0 1136.0L1637.9 1138.7L1639.8 1141.5L1641.5 1144.2L1643.3 1146.9L1645.1 1149.4L1647.0 1151.7L1648.9 1153.7L1651.5 1155.8L1654.2 1157.4L1657.0 1158.8L1660.0 1160.1L1663.0 1161.4L1666.2 1162.7L1669.5 1163.8L1672.8 1164.6L1676.1 1164.9L1679.3 1164.7L1682.6 1164.0L1685.8 1162.9L1689.0 1161.6L1692.1 1160.1L1694.5 1158.8L1696.9 1157.3L1699.3 1155.7L1701.6 1153.9L1703.8 1151.9L1706.0 1149.7L1708.1 1147.3L1709.5 1145.4L1710.9 1143.3L1712.3 1141.1L1713.6 1138.8L1714.8 1136.4L1716.1 1133.8L1717.3 1131.2L1718.5 1128.6L1719.6 1125.9L1720.8 1123.2L1721.9 1120.5L1723.0 1117.9L1724.1 1115.3L1725.1 1112.9L1726.1 1110.4L1727.1 1108.0L1728.1 1105.6L1729.1 1103.1L1730.0 1100.7L1730.9 1098.2L1731.8 1095.7L1732.7 1093.2L1733.6 1090.6L1734.4 1088.0L1735.3 1085.4L1736.1 1082.7L1736.9 1080.0L1737.6 1077.5L1738.3 1075.0L1739.0 1072.4L1739.7 1069.8L1740.4 1067.1L1741.1 1064.4L1741.7 1061.7L1742.4 1058.9L1743.0 1056.2L1743.6 1053.4L1744.2 1050.7L1744.8 1047.9L1745.4 1045.2L1746.0 1042.5L1746.5 1039.8L1747.1 1037.1L1747.6 1034.5L1748.1 1032.0L1748.7 1029.1L1749.2 1026.1L1749.8 1023.0L1750.3 1019.9L1750.8 1016.8L1751.3 1013.7L1751.7 1010.7L1752.2 1007.8L1752.6 1005.0L1753.0 1002.3L1753.4 999.9L1753.7 997.7L1754.0 995.7L1754.3 994.0L1755.4 988.0L1756.0 984.3L1756.8 980.2L1757.5 976.0L1758.2 972.0L1758.9 968.0L1759.6 964.0L1760.4 960.0L1761.1 956.0L1761.8 952.0L1762.5 948.0L1763.3 944.0L1764.0 940.0L1764.7 936.0L1765.5 932.0L1766.2 928.0L1767.0 924.0L1767.7 920.0L1768.4 916.0L1769.2 912.0L1769.9 908.0L1770.7 904.0L1771.4 900.0L1772.1 896.0L1772.9 892.0L1773.6 888.0L1774.4 884.0L1775.1 880.0L1775.9 876.0L1776.6 872.0L1777.4 868.0L1778.1 864.0L1778.9 860.0L1779.6 856.0L1780.3 852.0L1781.1 848.0L1781.8 844.0L1782.6 840.0L1783.3 836.0L1784.0 832.0L1784.8 828.0L1785.5 824.0L1786.2 820.0L1786.9 816.0L1787.7 812.0L1788.4 808.0L1789.1 804.0L1789.8 800.0L1790.5 796.0L1791.3 792.0L1792.0 788.0L1792.7 784.0L1793.4 780.0L1794.1 776.0L1794.8 772.0L1795.5 768.0L1796.2 764.0L1796.8 760.0L1797.5 756.0L1798.2 752.0L1798.9 748.0L1799.5 744.0L1800.2 740.0L1800.9 736.0L1801.5 732.0L1802.2 728.0L1802.8 724.0L1803.5 720.0L1804.1 716.0L1804.7 712.0L1805.4 708.0L1806.0 704.0L1806.6 700.0L1807.2 696.0L1807.8 692.0L1808.4 688.0L1809.0 684.0L1809.6 680.0L1810.2 676.0L1810.7 672.0L1811.3 668.0L1811.9 664.0L1812.4 660.0L1813.0 656.0L1813.5 652.0L1814.1 648.0L1814.6 644.0L1815.2 640.0L1815.7 636.0L1816.3 632.0L1816.8 628.0L1817.3 624.0L1817.8 620.0L1818.4 616.0L1818.9 612.0L1819.4 608.0L1819.9 604.0L1820.4 600.0L1820.9 596.0L1821.4 592.0L1821.9 588.0L1822.4 584.0L1822.9 580.0L1823.4 576.0L1823.9 572.0L1824.4 568.0L1824.8 564.0L1825.3 560.0L1825.8 556.0L1826.3 552.0L1826.8 548.0L1827.2 544.0L1827.7 540.0L1828.2 536.0L1828.7 532.0L1829.1 528.0L1829.6 524.0L1830.1 520.0L1830.6 516.0L1831.0 512.0L1831.5 508.0L1832.0 504.0L1832.4 500.0L1832.9 496.0L1833.4 492.0L1833.8 488.0L1834.3 484.0L1834.8 480.0L1835.2 476.0L1835.7 472.0L1836.2 468.0L1836.6 464.0L1837.1 460.0L1837.6 456.0L1838.1 452.0L1838.5 448.0L1839.0 444.0L1839.5 440.0L1840.0 436.0L1840.4 432.0L1840.9 428.0L1841.4 424.0L1841.9 420.0L1842.4 416.0L1842.9 412.0L1843.4 408.0L1843.8 404.0L1844.3 400.0L1844.8 396.0L1845.3 392.0L1845.8 388.0L1846.4 384.0L1846.9 380.0L1847.4 376.0L1847.9 372.0L1848.4 368.0L1849.0 364.0L1849.5 360.0L1850.0 356.0L1850.6 352.0L1851.1 348.0L1851.7 344.0L1852.2 340.0L1852.8 336.0L1853.4 332.0L1853.9 328.0L1854.5 324.0L1855.1 320.0L1855.7 316.0L1856.3 312.0L1856.9 308.0L1857.5 304.0L1858.2 300.0L1858.8 296.0L1859.4 292.0L1860.1 288.0L1860.7 284.0L1861.4 280.0L1862.1 276.0L1862.7 272.0L1863.4 268.0L1864.1 263.9L1864.7 259.9L1865.5 256.0L1866.7 252.4L1868.1 249.0L1869.5 246.0L1872.1 241.5L1875.0 246.0L1876.0 248.6L1877.1 251.8L1878.1 255.3L1879.0 258.8L1879.8 262.0L1880.6 266.1L1881.2 270.1L1881.8 274.0L1882.5 278.0L1883.1 282.0L1883.8 286.0L1884.4 290.0L1885.0 294.0L1885.6 298.0L1886.3 302.0L1886.8 306.0L1887.4 310.0L1888.0 314.0L1888.6 318.0L1889.2 322.0L1889.7 326.0L1890.3 330.0L1890.8 334.0L1891.3 338.0L1891.9 342.0L1892.4 346.0L1892.9 350.0L1893.4 354.0L1893.9 358.0L1894.4 362.0L1894.9 366.0L1895.4 370.0L1895.8 374.0L1896.3 378.0L1896.8 382.0L1897.2 386.0L1897.7 390.0L1898.1 394.0L1898.6 398.0L1899.0 402.0L1899.4 406.0L1899.9 410.0L1900.3 414.0L1900.7 418.0L1901.1 422.0L1901.5 426.0L1901.9 430.0L1902.3 434.0L1902.7 438.0L1903.1 442.0L1903.5 446.0L1903.9 450.0L1904.3 454.0L1904.6 458.0L1905.0 462.0L1905.4 466.0L1905.8 470.0L1906.1 474.0L1906.5 478.0L1906.9 482.0L1907.2 486.0L1907.6 490.0L1908.0 494.0L1908.3 498.0L1908.7 502.0L1909.1 506.0L1909.4 510.0L1909.8 514.0L1910.1 518.0L1910.5 522.0L1910.8 526.0L1911.2 530.0L1911.6 534.0L1911.9 538.0L1912.3 542.0L1912.6 546.0L1913.0 550.0L1913.3 554.0L1913.7 558.0L1914.1 562.0L1914.4 566.0L1914.8 570.0L1915.2 574.0L1915.5 578.0L1915.9 582.0L1916.3 586.0L1916.6 590.0L1917.0 594.0L1917.4 598.0L1917.8 602.0L1918.2 606.0L1918.5 610.0L1918.9 614.0L1919.3 618.0L1919.7 622.0L1920.1 626.0L1920.5 630.0L1920.9 634.0L1921.4 638.0L1921.8 642.0L1922.2 646.0L1922.6 650.0L1923.1 654.0L1923.5 658.0L1923.9 662.0L1924.4 666.0L1924.8 670.0L1925.3 674.0L1925.8 678.0L1926.2 682.0L1926.7 686.0L1927.2 690.0L1927.7 694.0L1928.2 698.0L1928.7 702.0L1929.2 706.0L1929.7 710.0L1930.2 714.0L1930.7 718.0L1931.3 722.0L1931.8 726.0L1932.4 730.0L1932.9 734.0L1933.5 738.0L1934.1 742.0L1934.6 746.0L1935.2 750.0L1935.8 754.0L1936.4 758.0L1937.1 762.0L1937.7 766.0L1938.3 770.0L1939.0 774.0L1939.6 778.0L1940.3 782.0L1941.0 786.0L1941.7 790.0L1942.4 794.0L1943.1 798.0L1943.8 802.0L1944.5 806.0L1945.2 810.0L1946.0 814.0L1946.8 818.0L1947.5 822.0L1948.3 826.0L1949.1 830.0L1949.9 834.0L1950.7 838.0L1951.6 842.0L1952.4 846.0L1953.3 850.0L1954.1 854.0L1955.0 858.0L1955.9 862.0L1956.8 866.0L1957.7 870.0L1958.6 874.0L1959.6 878.0L1960.6 882.0L1961.5 886.0L1962.5 890.0L1963.5 894.0L1964.5 898.0L1965.6 902.0L1966.6 906.0L1967.7 910.0L1968.7 914.0L1969.8 918.0L1970.9 922.0L1972.1 926.0L1973.2 930.0L1974.3 934.0L1975.2 937.0L1976.1 940.1L1977.0 943.1L1977.9 946.0L1978.7 949.2L1979.6 952.4L1981.0 956.0L1981.8 957.9L1982.9 959.9L1984.0 962.2L1985.4 964.6L1986.8 967.1L1988.3 969.6L1989.8 972.2L1991.4 974.8L1993.1 977.3L1994.8 979.8L1996.4 982.1L1998.0 984.3L1999.6 986.3L2001.7 988.8L2003.7 991.1L2005.8 993.4L2007.9 995.5L2010.1 997.5L2012.3 999.3L2014.6 1001.0L2017.0 1002.5L2019.7 1003.9L2022.4 1005.2L2025.3 1006.3L2028.2 1007.2L2031.1 1007.9L2034.0 1008.4L2036.9 1008.7L2039.8 1008.7L2042.7 1008.4L2045.6 1007.9L2048.5 1007.2L2051.3 1006.5L2054.1 1005.7L2056.8 1005.0L2060.0 1004.1L2063.0 1003.1L2066.0 1002.1L2069.0 1001.0L2072.0 1000.0"/>
<path id="cRED" d="M192.0 1004.0L193.9 1006.9L195.8 1009.9L197.8 1013.5L198.7 1015.5L199.6 1017.6L200.6 1020.0L201.5 1022.5L202.5 1025.2L203.5 1028.0L204.5 1030.8L205.5 1033.7L206.5 1036.5L207.5 1039.4L208.6 1042.1L209.6 1044.8L210.6 1047.4L211.7 1050.1L212.8 1052.7L213.8 1055.3L214.9 1058.0L216.0 1060.6L217.1 1063.2L218.2 1065.9L219.3 1068.5L220.4 1071.1L221.5 1073.6L222.6 1076.2L223.8 1078.9L224.9 1081.6L226.1 1084.4L227.2 1087.1L228.4 1089.8L229.5 1092.5L230.7 1095.2L231.9 1097.8L233.1 1100.2L234.4 1102.6L235.7 1104.9L237.4 1107.7L239.2 1110.5L241.1 1113.2L242.9 1115.7L244.8 1118.1L246.8 1120.1L248.7 1121.9L252.1 1124.3L255.6 1126.1L259.2 1127.1L262.8 1127.6L266.4 1127.5L269.6 1126.4L271.9 1124.5L273.8 1121.8L275.6 1118.6L277.5 1115.3L278.9 1112.8L280.3 1110.2L281.6 1107.5L282.9 1104.6L284.3 1101.7L285.7 1098.5L287.1 1095.3L288.1 1093.1L289.0 1090.8L290.0 1088.4L291.0 1086.0L292.0 1083.5L293.1 1080.9L294.1 1078.3L295.1 1075.7L296.2 1073.0L297.2 1070.3L298.3 1067.7L299.3 1065.0L300.4 1062.3L301.4 1059.7L302.3 1057.2L303.3 1054.4L304.2 1051.5L305.0 1048.5L305.9 1045.4L306.8 1042.2L307.7 1039.1L308.6 1036.1L309.5 1033.2L310.4 1030.4L311.4 1027.9L312.4 1025.6L313.5 1023.6L314.6 1021.9L315.8 1020.6L317.0 1019.8L320.1 1019.2L323.5 1020.0L326.8 1021.7L329.9 1024.1L331.2 1025.5L332.4 1027.3L333.5 1029.4L334.6 1031.7L335.6 1034.2L336.6 1036.9L337.5 1039.7L338.4 1042.6L339.3 1045.5L340.2 1048.5L341.1 1051.4L342.1 1054.3L343.1 1057.1L344.1 1059.7L345.2 1062.3L346.2 1064.8L347.3 1067.4L348.4 1070.0L349.5 1072.6L350.5 1075.1L351.6 1077.7L352.8 1080.3L353.9 1082.8L355.0 1085.4L356.2 1087.9L357.4 1090.4L358.6 1092.9L359.8 1095.3L361.1 1098.0L362.5 1100.9L363.9 1104.0L365.3 1107.1L366.7 1110.3L368.1 1113.4L369.6 1116.3L371.1 1119.1L372.5 1121.5L374.0 1123.6L375.4 1125.2L376.9 1126.2L378.3 1126.7L380.3 1126.2L382.2 1124.7L384.1 1122.3L386.1 1119.5L388.0 1116.4L390.1 1113.5L392.2 1111.0L394.3 1108.8L396.4 1106.2L398.7 1103.6L400.9 1101.0L403.2 1098.7L405.5 1096.9L407.7 1095.7L409.8 1095.3L412.1 1095.9L414.3 1097.4L416.5 1099.6L418.6 1102.3L420.7 1105.2L422.8 1108.2L424.8 1111.0L426.4 1113.3L427.8 1115.8L429.2 1118.5L430.6 1121.3L431.9 1124.1L433.3 1126.9L434.7 1129.7L436.1 1132.3L437.6 1134.8L439.2 1137.0L441.3 1139.6L443.5 1142.1L445.8 1144.4L448.2 1146.6L450.5 1148.6L452.7 1150.2L454.9 1151.4L459.4 1152.9L464.0 1152.7L466.8 1151.9L469.7 1150.5L472.7 1148.6L475.6 1146.3L478.4 1143.6L479.9 1141.8L481.2 1139.8L482.6 1137.6L483.8 1135.2L485.1 1132.6L486.3 1130.0L487.5 1127.2L488.7 1124.4L489.9 1121.5L491.1 1118.6L492.4 1115.7L493.6 1112.8L495.0 1110.0L496.1 1107.8L497.2 1105.6L498.3 1103.3L499.4 1101.1L500.5 1098.8L501.7 1096.5L502.8 1094.1L504.0 1091.8L505.1 1089.5L506.3 1087.1L507.5 1084.7L508.7 1082.3L509.9 1079.9L511.2 1077.4L512.4 1074.9L513.7 1072.5L515.0 1070.0L516.4 1067.4L517.7 1064.9L518.9 1062.8L520.0 1060.6L521.2 1058.4L522.5 1056.2L523.7 1053.9L525.0 1051.6L526.3 1049.4L527.6 1047.1L528.9 1044.8L530.2 1042.4L531.6 1040.1L532.9 1037.8L534.3 1035.4L535.7 1033.0L537.0 1030.7L538.4 1028.3L539.8 1025.9L541.1 1023.6L542.5 1021.2L543.8 1018.9L545.2 1016.5L546.5 1014.2L547.8 1011.8L549.2 1009.5L550.5 1007.2L551.7 1004.9L553.0 1002.6L554.3 1000.2L555.6 997.9L556.9 995.6L558.1 993.2L559.4 990.9L560.7 988.6L561.9 986.3L563.2 984.0L564.4 981.7L565.7 979.4L566.9 977.1L568.1 974.7L569.4 972.4L570.6 970.1L571.8 967.8L573.1 965.5L574.3 963.2L575.5 960.9L576.7 958.6L578.0 956.2L579.2 953.9L580.4 951.6L581.6 949.2L582.9 946.9L584.1 944.5L585.3 942.1L586.5 939.7L587.7 937.2L588.9 934.7L590.1 932.2L591.3 929.6L592.5 927.0L593.7 924.4L594.9 921.8L596.1 919.2L597.2 916.6L598.4 914.0L599.6 911.4L600.8 908.8L602.0 906.3L603.2 903.8L604.4 901.4L605.6 899.0L606.8 896.6L608.0 894.3L609.2 892.1L610.4 890.0L611.6 887.9L612.8 886.0L614.1 884.1L615.3 882.3L617.3 879.7L619.3 877.2L621.3 875.0L623.4 872.8L625.4 870.8L627.5 868.9L629.5 867.1L631.5 865.3L633.5 863.6L635.5 861.8L637.4 860.0L639.6 857.9L641.7 855.8L643.7 853.7L645.7 851.7L647.8 849.8L649.9 848.0L652.2 846.2L654.6 844.6L656.9 843.3L659.3 842.2L661.8 841.1L664.4 840.2L667.1 839.3L669.8 838.4L672.5 837.5L675.2 836.5L677.8 835.5L680.4 834.3L682.8 833.1L685.2 831.8L687.7 830.4L690.1 829.0L692.5 827.5L694.9 826.0L697.3 824.6L699.6 823.1L701.9 821.6L704.1 820.2L706.2 818.8L708.9 817.0L711.5 815.1L713.9 813.2L716.4 811.3L718.7 809.6L721.1 808.1L723.4 806.8L726.5 805.4L729.5 804.2L732.5 803.5L735.5 803.3L738.9 803.8L742.3 805.0L745.7 806.7L749.2 808.5L751.6 809.9L754.0 811.5L756.5 813.3L758.9 815.2L761.4 817.0L763.9 818.8L766.4 820.5L769.2 822.3L772.1 824.1L774.9 825.8L777.8 827.4L780.7 828.8L783.6 830.0L786.9 831.0L790.2 831.7L793.6 832.2L797.1 832.5L800.8 832.6L803.5 832.6L806.3 832.6L809.2 832.5L812.3 832.4L815.3 832.1L818.3 831.8L821.2 831.3L824.0 830.7L826.6 830.0L829.8 828.8L832.7 827.3L835.6 825.6L838.3 823.9L841.1 822.1L843.8 820.5L846.9 818.9L850.0 817.4L853.0 815.9L856.0 814.2L859.0 812.0L860.9 810.3L862.9 808.3L864.8 806.2L866.7 804.0L868.6 801.7L870.5 799.2L872.4 796.7L874.3 794.2L876.2 791.7L878.0 789.2L879.6 787.0L881.3 784.7L882.9 782.4L884.4 780.0L886.0 777.6L887.6 775.2L889.2 772.8L890.7 770.4L892.3 767.9L893.9 765.5L895.4 763.1L897.0 760.7L898.6 758.3L900.1 755.8L901.6 753.3L903.1 750.7L904.6 748.2L906.1 745.6L907.6 743.2L909.2 740.7L910.7 738.4L912.4 736.2L914.1 734.2L915.9 732.3L918.3 730.0L920.9 727.7L923.5 725.5L926.2 723.4L928.9 721.7L931.6 720.3L934.2 719.4L936.8 719.0L939.8 719.3L942.8 720.2L945.8 721.7L948.6 723.7L951.4 726.0L953.9 728.5L955.4 730.2L956.8 732.2L958.1 734.4L959.3 736.7L960.5 739.2L961.7 741.8L962.8 744.4L963.9 747.2L964.9 749.9L966.0 752.7L967.0 755.4L968.0 758.1L969.0 760.7L970.0 763.3L971.0 765.9L971.9 768.5L972.8 771.1L973.7 773.7L974.6 776.4L975.5 779.0L976.3 781.7L977.1 784.3L978.0 787.0L978.8 789.6L979.6 792.3L980.4 794.9L981.2 797.5L982.0 800.1L982.7 802.8L983.4 805.4L984.1 808.1L984.8 810.7L985.5 813.3L986.2 816.0L987.0 818.6L987.7 821.2L988.4 823.8L989.2 826.4L990.0 829.0L990.9 831.7L991.8 834.5L992.7 837.2L993.7 839.9L994.6 842.6L995.6 845.3L996.6 848.0L997.6 850.7L998.5 853.4L999.5 856.0L1000.4 858.7L1001.3 861.3L1002.2 864.0L1003.1 866.6L1004.0 869.2L1004.8 871.8L1005.7 874.4L1006.5 876.9L1007.4 879.5L1008.2 882.1L1009.1 884.6L1009.9 887.2L1010.8 889.8L1011.6 892.4L1012.4 894.9L1013.2 897.5L1014.0 900.0L1014.8 902.6L1015.6 905.1L1016.4 907.7L1017.3 910.3L1018.2 912.9L1019.2 915.6L1020.3 918.3L1021.3 920.7L1022.4 923.1L1023.6 925.6L1024.8 928.1L1026.0 930.6L1027.3 933.1L1028.6 935.7L1029.9 938.3L1031.3 940.8L1032.7 943.4L1034.0 946.0L1035.4 948.5L1036.7 951.1L1038.0 953.7L1039.3 956.2L1040.6 958.8L1041.9 961.3L1043.2 963.9L1044.5 966.6L1045.8 969.2L1047.1 971.8L1048.5 974.5L1049.8 977.1L1051.1 979.7L1052.4 982.2L1053.6 984.7L1054.8 987.2L1056.0 989.6L1057.2 991.9L1058.3 994.2L1059.7 997.0L1060.9 999.7L1062.1 1002.3L1063.2 1004.8L1064.3 1007.3L1065.5 1009.8L1066.7 1012.2L1068.0 1014.7L1069.5 1017.3L1070.8 1019.5L1072.2 1021.8L1073.7 1024.2L1075.2 1026.6L1076.7 1028.9L1078.3 1031.3L1080.0 1033.6L1081.6 1035.9L1083.3 1038.1L1085.0 1040.1L1086.8 1042.1L1088.5 1043.9L1090.7 1046.0L1093.0 1047.9L1095.3 1049.7L1097.7 1051.3L1100.1 1052.8L1102.5 1054.3L1105.0 1055.8L1107.4 1057.2L1110.1 1058.7L1112.8 1060.1L1115.5 1061.4L1118.2 1062.6L1121.0 1063.9L1123.7 1065.2L1126.4 1066.6L1129.1 1068.1L1131.9 1069.6L1134.6 1071.2L1137.3 1072.8L1140.0 1074.5L1142.7 1076.2L1145.4 1078.0L1147.8 1079.7L1150.2 1081.6L1152.6 1083.5L1155.0 1085.4L1157.3 1087.4L1159.7 1089.3L1162.0 1091.3L1164.4 1093.2L1166.8 1095.1L1169.1 1097.0L1171.5 1099.0L1173.9 1100.9L1176.2 1102.8L1178.6 1104.7L1181.0 1106.6L1183.4 1108.4L1185.7 1110.1L1188.1 1111.8L1190.5 1113.4L1192.8 1115.1L1195.2 1116.7L1197.6 1118.3L1200.0 1120.0L1202.3 1121.7L1204.7 1123.5L1207.1 1125.4L1209.5 1127.3L1211.8 1129.2L1214.2 1131.1L1216.6 1133.1L1218.9 1135.0L1221.3 1136.9L1223.7 1138.8L1226.0 1140.7L1228.4 1142.6L1230.8 1144.5L1233.2 1146.4L1235.5 1148.3L1237.9 1150.2L1240.3 1152.1L1242.7 1154.0L1245.1 1155.9L1247.5 1157.8L1250.0 1159.7L1252.4 1161.6L1254.7 1163.5L1257.0 1165.3L1259.3 1167.2L1261.5 1169.2L1263.6 1171.3L1265.6 1173.4L1267.7 1175.5L1269.8 1177.4L1272.0 1179.1L1274.5 1180.5L1277.0 1181.5L1279.6 1182.3L1282.4 1182.9L1285.2 1183.4L1288.1 1183.7L1291.1 1184.0L1294.1 1184.1L1297.2 1184.3L1299.9 1184.4L1302.6 1184.3L1305.4 1184.2L1308.3 1183.9L1311.2 1183.7L1314.1 1183.4L1317.0 1183.1L1319.9 1182.8L1322.8 1182.5L1325.7 1182.4L1328.5 1182.3L1331.4 1182.3L1334.4 1182.5L1337.5 1182.7L1340.5 1183.0L1343.5 1183.3L1346.4 1183.6L1349.2 1183.8L1352.0 1183.9L1354.6 1183.9L1357.0 1183.7L1360.9 1183.0L1364.5 1182.0L1367.8 1180.8L1371.2 1179.5L1374.1 1178.3L1376.9 1176.9L1379.7 1175.4L1382.6 1173.9L1385.4 1172.4L1388.3 1171.0L1391.1 1169.5L1394.0 1168.1L1396.8 1166.6L1399.7 1165.2L1402.6 1163.8L1405.4 1162.6L1408.3 1161.2L1411.1 1159.8L1413.9 1158.1L1416.4 1156.3L1418.8 1154.4L1421.3 1152.4L1423.6 1150.2L1426.0 1147.8L1428.2 1145.3L1429.9 1143.1L1431.6 1140.8L1433.2 1138.3L1434.8 1135.7L1436.4 1133.0L1437.9 1130.3L1439.4 1127.6L1440.9 1125.0L1442.4 1122.5L1443.9 1120.0L1445.4 1117.4L1446.8 1114.9L1448.3 1112.4L1449.7 1110.0L1451.1 1107.5L1452.4 1105.1L1453.8 1102.6L1455.2 1099.9L1456.6 1097.1L1457.9 1094.3L1459.3 1091.6L1460.7 1088.9L1462.1 1086.4L1463.7 1084.1L1465.8 1081.4L1468.1 1078.8L1470.4 1076.3L1472.8 1074.3L1475.1 1072.7L1479.3 1071.0L1483.7 1070.5L1487.5 1071.0L1491.4 1072.2L1495.1 1074.1L1497.6 1076.1L1499.9 1078.6L1502.1 1081.4L1504.3 1084.2L1506.5 1086.9L1508.5 1089.3L1510.4 1091.6L1512.3 1094.0L1514.3 1096.2L1516.4 1098.3L1519.1 1100.8L1521.8 1103.3L1524.7 1105.4L1527.8 1106.9L1531.1 1107.6L1534.6 1107.8L1538.2 1107.5L1542.0 1106.9L1544.5 1106.3L1547.2 1105.5L1549.9 1104.5L1552.6 1103.4L1555.5 1102.2L1558.3 1101.1L1561.1 1100.1L1564.0 1099.3L1566.9 1098.6L1569.9 1098.1L1572.9 1097.6L1575.9 1097.1L1578.9 1096.7L1582.0 1096.5L1585.0 1096.2L1588.0 1096.1L1591.0 1096.0L1594.1 1096.0L1597.3 1096.0L1600.4 1096.1L1603.4 1096.3L1606.4 1096.6L1609.3 1097.1L1612.0 1097.7L1614.9 1098.6L1617.7 1099.7L1620.4 1101.0L1623.0 1102.4L1625.5 1104.0L1628.0 1105.7L1630.1 1107.3L1632.1 1109.2L1634.2 1111.2L1636.1 1113.2L1638.1 1115.4L1640.0 1117.5L1642.0 1119.6L1644.0 1121.7L1646.0 1123.7L1648.0 1125.8L1649.9 1128.0L1651.9 1130.1L1653.9 1132.1L1655.9 1134.1L1657.9 1136.0L1660.0 1137.7L1662.6 1139.7L1665.2 1141.6L1667.9 1143.4L1670.6 1145.0L1673.3 1146.3L1676.1 1147.3L1679.3 1148.0L1682.5 1148.5L1685.8 1148.6L1689.0 1148.2L1692.1 1147.3L1694.3 1146.2L1696.4 1144.6L1698.5 1142.7L1700.6 1140.6L1702.6 1138.3L1704.5 1135.9L1706.3 1133.6L1708.1 1131.3L1709.9 1128.7L1711.7 1126.0L1713.3 1123.2L1714.8 1120.4L1716.3 1117.6L1717.8 1114.8L1719.3 1112.1L1720.9 1109.4L1722.4 1106.8L1723.9 1104.2L1725.5 1101.6L1727.1 1098.9L1728.9 1096.1L1730.5 1093.9L1732.2 1091.5L1734.1 1089.1L1736.0 1086.7L1738.0 1084.2L1739.9 1081.7L1741.7 1079.3L1743.5 1076.8L1745.0 1074.4L1746.2 1072.0L1747.4 1069.0L1748.4 1066.1L1749.1 1063.2L1749.6 1060.3L1750.3 1057.2L1751.0 1054.0L1751.6 1051.6L1752.2 1049.0L1752.9 1046.3L1753.6 1043.5L1754.2 1040.7L1754.9 1037.8L1755.6 1035.0L1756.2 1032.2L1756.9 1029.5L1757.5 1026.9L1758.1 1024.5L1759.0 1021.2L1759.9 1017.9L1760.8 1014.8L1761.6 1011.8L1762.2 1009.1L1762.7 1006.7L1763.2 1000.0L1763.5 996.3L1763.9 992.1L1764.3 988.0L1764.7 984.0L1765.2 980.0L1765.6 976.0L1766.1 972.0L1766.7 968.0L1767.2 964.0L1767.8 960.0L1768.3 956.0L1769.0 952.0L1769.6 948.0L1770.2 944.0L1770.9 940.0L1771.6 936.0L1772.3 932.0L1773.0 928.0L1773.8 924.0L1774.5 920.0L1775.3 916.0L1776.1 912.0L1776.9 908.0L1777.8 904.0L1778.6 900.0L1779.4 896.0L1780.3 892.0L1781.2 888.0L1782.1 884.0L1783.0 880.0L1783.9 876.0L1784.8 872.0L1785.8 868.0L1786.7 864.0L1787.7 860.0L1788.6 856.0L1789.6 852.0L1790.6 848.0L1791.5 844.0L1792.5 840.0L1793.5 836.0L1794.5 832.0L1795.5 828.0L1796.5 824.0L1797.5 820.0L1798.6 816.0L1799.6 812.0L1800.6 808.0L1801.6 804.0L1802.6 800.0L1803.6 796.0L1804.6 792.0L1805.7 788.0L1806.7 784.0L1807.7 780.0L1808.7 776.0L1809.7 772.0L1810.7 768.0L1811.7 764.0L1812.7 760.0L1813.6 756.0L1814.6 752.0L1815.6 748.0L1816.5 744.0L1817.5 740.0L1818.4 736.0L1819.4 732.0L1820.3 728.0L1821.2 724.0L1822.1 720.0L1823.0 716.0L1823.9 712.0L1824.7 708.0L1825.6 704.0L1826.4 700.0L1827.2 696.0L1828.0 692.0L1828.8 688.0L1829.6 684.0L1830.4 680.0L1831.2 676.0L1831.9 672.0L1832.6 668.0L1833.4 664.0L1834.1 660.0L1834.8 656.0L1835.5 652.0L1836.3 648.0L1837.0 644.0L1837.7 640.0L1838.4 636.0L1839.1 632.0L1839.8 628.0L1840.5 624.0L1841.2 620.0L1841.9 616.0L1842.6 612.0L1843.3 608.0L1844.0 604.0L1844.8 600.0L1845.5 596.0L1846.2 592.0L1847.0 588.0L1847.7 584.0L1848.5 580.0L1849.3 576.0L1850.0 572.0L1850.8 568.0L1851.7 564.0L1852.5 560.0L1853.3 556.0L1854.2 552.0L1855.0 548.0L1855.9 544.0L1856.8 540.0L1857.8 536.0L1858.7 532.0L1859.7 528.0L1860.7 524.0L1861.7 520.0L1862.6 515.8L1863.6 511.6L1864.9 508.0L1867.0 504.7L1869.5 502.0L1874.0 498.5L1879.0 499.5L1883.0 502.0L1885.3 505.5L1887.3 510.0L1888.5 513.8L1889.5 517.9L1890.5 522.0L1891.5 526.0L1892.5 530.0L1893.5 534.0L1894.5 538.0L1895.5 542.0L1896.5 546.0L1897.4 550.0L1898.4 554.0L1899.3 558.0L1900.2 562.0L1901.1 566.0L1902.0 570.0L1902.9 574.0L1903.8 578.0L1904.6 582.0L1905.5 586.0L1906.4 590.0L1907.2 594.0L1908.0 598.0L1908.9 602.0L1909.7 606.0L1910.5 610.0L1911.3 614.0L1912.1 618.0L1912.9 622.0L1913.7 626.0L1914.5 630.0L1915.3 634.0L1916.1 638.0L1916.9 642.0L1917.7 646.0L1918.5 650.0L1919.3 654.0L1920.1 658.0L1920.9 662.0L1921.7 666.0L1922.5 670.0L1923.3 674.0L1924.1 678.0L1924.9 682.0L1925.7 686.0L1926.5 690.0L1927.3 694.0L1928.1 698.0L1929.0 702.0L1929.8 706.0L1930.7 710.0L1931.5 714.0L1932.4 718.0L1933.2 722.0L1934.1 726.0L1935.0 730.0L1935.9 734.0L1936.8 738.0L1937.7 742.0L1938.7 746.0L1939.6 750.0L1940.6 754.0L1941.5 758.0L1942.5 762.0L1943.5 766.0L1944.5 770.0L1945.5 774.0L1946.6 778.0L1947.6 782.0L1948.7 786.0L1949.8 790.0L1950.9 794.0L1952.0 798.0L1953.2 802.0L1954.3 806.0L1955.5 810.0L1956.4 813.0L1957.3 816.0L1958.2 819.0L1959.2 822.0L1960.1 825.0L1961.1 828.0L1962.0 831.0L1963.0 834.0L1964.0 837.0L1965.0 840.0L1966.0 843.0L1967.1 846.0L1968.1 849.0L1969.2 852.0L1970.3 855.0L1971.4 858.0L1972.5 861.0L1973.6 864.0L1974.7 867.0L1975.9 870.0L1977.1 873.1L1978.4 876.3L1979.6 879.4L1980.6 882.0L1982.7 887.0L1983.6 888.7L1984.7 890.9L1986.1 893.3L1987.5 896.0L1989.2 898.9L1990.9 901.7L1992.6 904.6L1994.4 907.4L1996.2 909.9L1998.0 912.2L1999.6 914.1L2002.0 916.6L2004.4 918.8L2006.8 920.7L2009.4 922.1L2012.0 922.8L2014.9 922.8L2017.9 922.0L2021.1 920.8L2024.1 919.3L2027.0 917.8L2029.6 916.2L2032.0 914.4L2034.4 912.4L2036.8 910.6L2039.4 909.1L2042.2 908.0L2045.1 907.2L2048.1 906.6L2051.2 906.0L2054.3 905.4L2057.2 904.8L2060.1 904.2L2063.0 903.7L2066.0 903.1L2069.0 902.6L2072.0 902.0"/>
<path id="cMAGENTA" d="M192.0 1052.0L194.9 1055.3L197.8 1059.2L199.0 1061.3L200.3 1063.6L201.5 1066.3L202.9 1069.1L204.2 1072.0L205.5 1075.1L206.9 1078.1L208.3 1081.1L209.6 1084.0L210.8 1086.4L211.9 1088.9L213.1 1091.4L214.3 1093.9L215.5 1096.4L216.7 1098.9L217.8 1101.4L219.0 1103.9L220.2 1106.4L221.4 1108.9L222.6 1111.4L223.8 1113.9L225.0 1116.5L226.2 1119.1L227.4 1121.8L228.6 1124.4L229.8 1127.0L231.0 1129.5L232.2 1132.0L233.4 1134.4L234.5 1136.7L235.7 1138.8L237.5 1142.1L239.1 1145.3L240.8 1148.2L242.7 1150.9L244.8 1153.2L247.8 1155.5L251.1 1157.4L254.5 1158.8L257.9 1159.7L262.0 1160.1L266.0 1159.7L269.6 1158.4L272.0 1156.3L274.0 1153.3L275.8 1150.0L277.5 1146.7L279.2 1143.7L280.8 1140.8L282.3 1137.5L284.0 1133.6L284.7 1131.8L285.5 1129.8L286.3 1127.6L287.1 1125.3L287.9 1122.8L288.8 1120.3L289.6 1117.7L290.5 1114.9L291.4 1112.2L292.3 1109.3L293.2 1106.5L294.0 1103.7L294.9 1100.8L295.8 1098.0L296.7 1095.3L297.5 1092.6L298.4 1089.9L299.2 1087.4L300.0 1085.0L301.0 1082.1L301.9 1079.1L302.7 1076.1L303.6 1073.0L304.4 1070.1L305.3 1067.1L306.1 1064.3L307.0 1061.5L307.9 1058.9L308.8 1056.4L309.8 1054.1L310.9 1051.9L312.0 1050.0L314.5 1046.3L317.2 1043.1L320.0 1040.8L322.7 1039.8L325.3 1040.4L328.0 1042.2L330.6 1044.9L333.0 1048.0L334.1 1049.8L335.2 1051.8L336.2 1054.1L337.1 1056.5L338.0 1059.1L338.9 1061.8L339.7 1064.7L340.5 1067.6L341.4 1070.5L342.2 1073.5L343.1 1076.4L344.0 1079.2L345.0 1082.0L345.9 1084.4L346.8 1086.9L347.7 1089.4L348.6 1092.0L349.5 1094.6L350.5 1097.2L351.4 1099.8L352.4 1102.4L353.3 1105.0L354.3 1107.5L355.2 1110.1L356.2 1112.6L357.1 1115.0L358.1 1117.4L359.0 1119.7L360.0 1122.0L361.3 1124.9L362.6 1127.8L363.9 1130.7L365.2 1133.5L366.5 1136.3L367.8 1138.9L369.1 1141.5L370.3 1143.8L371.5 1146.0L372.6 1148.0L374.4 1151.2L376.0 1153.9L378.3 1156.6L379.9 1158.2L381.8 1159.8L383.9 1161.6L386.2 1163.3L388.7 1165.1L391.3 1166.8L394.0 1168.4L396.8 1169.8L399.7 1171.0L402.6 1172.0L405.0 1172.6L407.7 1173.2L410.5 1173.7L413.5 1174.1L416.5 1174.5L419.6 1174.7L422.8 1174.9L425.9 1174.9L429.0 1174.9L432.0 1174.7L434.8 1174.4L437.6 1174.0L440.1 1173.5L442.4 1172.8L444.4 1172.0L447.0 1170.5L449.1 1168.6L451.0 1166.4L452.6 1164.0L454.2 1161.5L455.8 1159.0L457.5 1156.6L459.2 1154.3L461.0 1151.9L462.8 1149.4L464.6 1146.9L466.3 1144.5L468.0 1142.1L469.6 1139.9L471.0 1138.0L474.1 1134.5L477.0 1130.5L477.8 1129.0L478.7 1127.3L479.6 1125.5L480.6 1123.4L481.5 1121.3L482.5 1119.0L483.5 1116.6L484.5 1114.1L485.6 1111.5L486.6 1108.8L487.6 1106.1L488.7 1103.3L489.8 1100.5L490.8 1097.6L491.9 1094.8L492.9 1092.0L494.0 1089.2L495.0 1086.4L495.8 1084.2L496.6 1082.0L497.4 1079.7L498.3 1077.4L499.1 1075.1L499.9 1072.7L500.7 1070.3L501.5 1067.9L502.3 1065.4L503.2 1063.0L504.0 1060.5L504.8 1058.0L505.7 1055.5L506.5 1053.0L507.3 1050.4L508.1 1047.9L509.0 1045.4L509.8 1042.8L510.7 1040.3L511.5 1037.7L512.3 1035.2L513.2 1032.6L514.0 1030.1L514.9 1027.6L515.7 1025.0L516.6 1022.5L517.4 1020.1L518.3 1017.6L519.2 1015.1L520.0 1012.7L520.9 1010.2L521.8 1007.8L522.6 1005.3L523.5 1002.8L524.4 1000.4L525.2 997.9L526.1 995.5L527.0 993.0L527.9 990.5L528.7 988.1L529.6 985.6L530.5 983.2L531.4 980.7L532.3 978.2L533.2 975.8L534.1 973.3L535.0 970.9L535.9 968.4L536.8 966.0L537.7 963.5L538.6 961.1L539.5 958.6L540.4 956.2L541.3 953.7L542.3 951.2L543.2 948.8L544.1 946.3L545.1 943.9L546.1 941.4L547.0 938.9L548.0 936.4L549.0 934.0L550.0 931.5L551.0 929.0L552.0 926.5L553.0 924.0L554.0 921.5L555.1 919.1L556.1 916.6L557.1 914.1L558.1 911.6L559.1 909.2L560.1 906.7L561.1 904.2L562.1 901.8L563.1 899.3L564.1 896.9L565.1 894.5L566.0 892.0L567.0 889.6L567.9 887.2L568.9 884.8L569.8 882.4L570.7 880.0L571.7 877.4L572.6 874.9L573.5 872.3L574.4 869.8L575.3 867.3L576.2 864.7L577.0 862.2L577.9 859.7L578.7 857.2L579.6 854.7L580.4 852.2L581.2 849.7L582.1 847.3L582.9 844.8L583.8 842.3L584.6 839.8L585.5 837.4L586.3 834.9L587.2 832.4L588.2 829.9L589.1 827.5L590.0 825.0L591.0 822.5L592.0 820.0L593.0 817.6L594.0 815.2L595.0 812.8L596.1 810.4L597.1 807.9L598.2 805.4L599.3 803.0L600.4 800.5L601.5 798.0L602.7 795.5L603.8 793.1L604.9 790.6L606.1 788.1L607.2 785.7L608.4 783.3L609.5 780.9L610.6 778.5L611.8 776.2L612.9 773.8L614.0 771.5L615.1 769.3L616.1 767.0L617.2 764.9L618.2 762.7L619.2 760.6L620.2 758.6L621.5 755.8L622.8 753.0L624.0 750.3L625.2 747.6L626.4 745.0L627.6 742.4L628.7 739.9L629.9 737.4L631.0 735.0L632.2 732.7L633.5 730.4L634.7 728.3L636.0 726.2L637.4 724.2L639.4 721.5L641.3 719.0L643.3 716.6L645.4 714.4L647.5 712.3L649.7 710.4L652.1 708.6L654.6 707.0L657.1 705.7L659.8 704.6L662.6 703.6L665.5 702.7L668.5 702.0L671.5 701.4L674.5 700.9L677.5 700.5L680.4 700.1L683.3 699.8L686.1 699.6L689.0 699.5L691.9 699.5L694.8 699.6L697.6 699.8L700.5 700.1L703.4 700.5L706.2 701.0L709.1 701.6L712.0 702.4L714.9 703.4L717.8 704.4L720.6 705.5L723.5 706.7L726.3 707.9L729.2 709.1L732.0 710.4L734.6 711.6L737.2 712.9L739.8 714.3L742.4 715.7L744.9 717.1L747.5 718.6L750.1 720.0L752.6 721.5L755.2 722.9L757.8 724.2L760.4 725.5L763.0 726.9L765.6 728.3L768.3 729.6L770.9 731.0L773.6 732.3L776.2 733.5L778.7 734.5L781.2 735.4L783.6 736.2L787.1 737.1L790.5 737.6L793.8 737.9L797.2 738.0L800.8 738.0L803.5 737.9L806.3 737.8L809.3 737.7L812.3 737.4L815.3 737.1L818.3 736.7L821.2 736.1L824.0 735.4L826.6 734.5L829.4 733.3L832.0 731.8L834.4 730.1L836.8 728.3L839.2 726.4L841.5 724.4L843.8 722.5L846.2 720.5L848.6 718.6L851.0 716.7L853.3 714.6L855.6 712.3L857.9 709.8L860.0 707.0L861.2 705.2L862.4 703.2L863.5 701.0L864.6 698.8L865.7 696.4L866.7 694.0L867.7 691.5L868.8 688.9L869.8 686.3L870.8 683.7L871.8 681.0L872.8 678.4L873.8 675.7L874.8 673.1L875.8 670.6L876.9 668.1L878.0 665.7L879.2 663.1L880.5 660.5L881.7 658.0L883.0 655.4L884.2 652.9L885.5 650.4L886.8 647.9L888.0 645.4L889.3 642.9L890.6 640.4L891.9 637.9L893.2 635.3L894.5 632.8L895.7 630.3L897.0 627.8L898.3 625.3L899.5 622.8L900.8 620.3L902.1 617.8L903.4 615.3L904.7 612.8L905.9 610.3L907.2 607.7L908.5 605.2L909.7 602.7L911.0 600.2L912.3 597.6L913.5 595.0L914.8 592.4L916.0 589.8L917.1 587.4L918.1 585.0L919.2 582.5L920.3 580.0L921.3 577.5L922.3 574.9L923.4 572.3L924.4 569.8L925.5 567.2L926.5 564.6L927.5 562.1L928.6 559.6L929.6 557.2L930.6 554.8L931.7 552.5L932.8 550.3L933.8 548.1L934.9 546.1L936.6 543.1L938.2 540.1L939.9 537.1L941.7 534.3L943.4 531.6L945.1 529.1L946.8 526.9L948.4 525.0L950.0 523.4L953.8 520.7L957.7 519.6L961.5 520.1L965.5 521.7L969.0 524.3L970.5 526.3L971.8 528.8L972.9 531.6L973.8 534.6L974.7 537.8L975.6 541.1L976.6 544.2L977.4 546.7L978.2 549.2L979.0 551.7L979.8 554.3L980.5 556.9L981.3 559.6L982.0 562.3L982.8 565.1L983.5 567.9L984.2 570.8L984.8 573.3L985.4 575.8L985.9 578.4L986.5 581.0L987.1 583.7L987.6 586.4L988.1 589.1L988.7 591.8L989.2 594.6L989.7 597.4L990.2 600.2L990.8 603.1L991.3 605.9L991.8 608.8L992.2 611.3L992.7 613.8L993.1 616.4L993.5 619.0L994.0 621.6L994.4 624.3L994.8 626.9L995.2 629.6L995.6 632.3L996.1 635.0L996.5 637.7L996.9 640.3L997.3 643.0L997.7 645.7L998.1 648.3L998.5 651.0L999.0 653.6L999.4 656.2L999.9 659.0L1000.3 661.7L1000.8 664.4L1001.2 667.1L1001.7 669.7L1002.2 672.4L1002.6 675.0L1003.1 677.6L1003.6 680.3L1004.0 683.0L1004.5 685.7L1005.0 688.5L1005.5 691.3L1006.0 694.1L1006.5 697.0L1007.0 700.0L1007.4 702.4L1007.8 704.9L1008.3 707.4L1008.7 709.9L1009.1 712.5L1009.6 715.1L1010.0 717.7L1010.4 720.4L1010.9 723.1L1011.4 725.8L1011.8 728.5L1012.3 731.3L1012.7 734.0L1013.2 736.8L1013.7 739.6L1014.1 742.3L1014.6 745.1L1015.1 747.8L1015.6 750.5L1016.0 753.2L1016.5 755.9L1017.0 758.6L1017.5 761.2L1017.9 763.8L1018.4 766.4L1018.9 769.1L1019.4 771.8L1019.9 774.4L1020.4 777.1L1020.9 779.8L1021.4 782.4L1021.9 785.1L1022.4 787.7L1023.0 790.3L1023.5 792.9L1024.0 795.5L1024.5 798.1L1025.0 800.7L1025.5 803.3L1026.1 805.8L1026.6 808.4L1027.1 810.9L1027.7 813.4L1028.2 815.9L1028.7 818.4L1029.3 820.9L1029.8 823.4L1030.4 826.2L1031.0 828.9L1031.6 831.6L1032.2 834.3L1032.9 837.1L1033.5 839.7L1034.1 842.4L1034.7 845.1L1035.4 847.7L1036.0 850.4L1036.6 853.0L1037.3 855.6L1037.9 858.2L1038.6 860.7L1039.2 863.3L1039.9 865.8L1040.5 868.3L1041.2 870.8L1042.0 873.7L1042.8 876.5L1043.6 879.3L1044.4 882.1L1045.2 884.9L1046.1 887.6L1046.9 890.3L1047.7 893.0L1048.6 895.7L1049.4 898.3L1050.2 901.0L1051.0 903.6L1051.8 906.2L1052.6 908.8L1053.4 911.5L1054.2 914.2L1054.9 916.8L1055.6 919.4L1056.3 921.9L1057.0 924.5L1057.7 927.0L1058.5 929.6L1059.3 932.1L1060.1 934.7L1061.0 937.3L1062.0 940.0L1062.9 942.4L1063.9 944.9L1064.9 947.4L1066.0 949.9L1067.1 952.4L1068.2 955.0L1069.3 957.5L1070.5 960.0L1071.7 962.6L1072.9 965.1L1074.1 967.6L1075.3 970.1L1076.5 972.6L1077.8 975.0L1079.0 977.4L1080.4 980.0L1081.7 982.6L1083.1 985.3L1084.5 987.9L1086.0 990.5L1087.4 993.0L1088.9 995.6L1090.3 998.1L1091.8 1000.5L1093.3 1002.9L1094.9 1005.2L1096.4 1007.5L1098.0 1009.7L1099.8 1012.1L1101.6 1014.4L1103.5 1016.7L1105.3 1018.9L1107.2 1021.0L1109.1 1023.0L1111.1 1025.0L1113.0 1026.9L1115.0 1028.8L1117.0 1030.6L1119.3 1032.5L1121.7 1034.2L1124.1 1035.7L1126.5 1037.2L1128.9 1038.7L1131.3 1040.3L1133.6 1042.0L1135.9 1043.9L1137.9 1045.8L1139.9 1047.9L1141.8 1050.0L1143.7 1052.3L1145.6 1054.6L1147.5 1056.9L1149.3 1059.3L1151.2 1061.8L1153.0 1064.2L1154.9 1066.6L1156.5 1068.7L1158.1 1070.9L1159.7 1073.2L1161.2 1075.5L1162.8 1077.8L1164.3 1080.1L1165.9 1082.4L1167.5 1084.7L1169.0 1086.9L1170.6 1089.1L1172.2 1091.2L1173.9 1093.2L1175.9 1095.5L1178.0 1097.7L1180.1 1099.9L1182.2 1102.0L1184.4 1104.0L1186.5 1106.0L1188.7 1108.1L1190.8 1110.1L1192.9 1112.2L1195.0 1114.3L1197.1 1116.4L1199.2 1118.5L1201.3 1120.6L1203.4 1122.7L1205.5 1124.8L1207.6 1126.9L1209.7 1129.0L1211.8 1131.2L1213.7 1133.2L1215.6 1135.3L1217.5 1137.5L1219.4 1139.6L1221.3 1141.8L1223.1 1143.9L1225.0 1146.0L1226.9 1148.1L1228.9 1150.1L1230.8 1152.1L1232.9 1154.1L1234.9 1156.1L1237.0 1158.1L1239.1 1160.0L1241.2 1161.9L1243.4 1163.8L1245.5 1165.6L1247.6 1167.4L1249.8 1169.1L1252.1 1171.0L1254.4 1172.8L1256.8 1174.7L1259.1 1176.5L1261.5 1178.2L1263.9 1179.8L1266.3 1181.2L1268.8 1182.4L1271.8 1183.6L1274.8 1184.4L1277.8 1185.1L1281.0 1185.6L1284.2 1186.0L1287.7 1186.2L1290.3 1186.3L1293.0 1186.1L1295.8 1185.9L1298.7 1185.6L1301.7 1185.2L1304.7 1184.8L1307.7 1184.4L1310.8 1184.0L1313.9 1183.7L1316.9 1183.5L1320.0 1183.4L1322.8 1183.4L1325.6 1183.6L1328.5 1183.8L1331.4 1184.1L1334.3 1184.4L1337.2 1184.7L1340.1 1185.0L1343.0 1185.4L1345.9 1185.7L1348.7 1186.0L1351.5 1186.3L1354.3 1186.5L1357.0 1186.6L1360.0 1186.7L1362.8 1186.7L1365.6 1186.7L1368.3 1186.6L1371.1 1186.5L1373.8 1186.4L1376.6 1186.3L1379.4 1186.2L1382.3 1186.0L1385.4 1185.9L1387.9 1185.8L1390.5 1185.8L1393.2 1185.8L1396.1 1185.8L1399.0 1185.8L1401.9 1185.8L1404.8 1185.8L1407.8 1185.8L1410.7 1185.7L1413.6 1185.6L1416.3 1185.5L1419.0 1185.3L1421.6 1185.0L1424.0 1184.7L1426.2 1184.2L1428.2 1183.7L1431.7 1182.5L1434.6 1181.0L1437.2 1179.3L1439.7 1177.4L1442.4 1175.2L1444.3 1173.3L1446.2 1171.2L1448.0 1168.8L1449.8 1166.2L1451.7 1163.6L1453.6 1161.1L1455.6 1158.8L1457.7 1156.7L1460.0 1155.0L1462.4 1153.6L1465.0 1152.5L1467.7 1151.5L1470.5 1150.6L1473.3 1149.9L1476.2 1149.4L1479.2 1148.8L1482.1 1148.4L1485.0 1148.0L1487.7 1147.8L1490.5 1147.7L1493.4 1147.8L1496.3 1148.0L1499.2 1148.2L1502.0 1148.4L1504.9 1148.6L1507.7 1148.6L1510.4 1148.4L1513.0 1148.0L1516.0 1147.3L1518.9 1146.4L1521.8 1145.4L1524.6 1144.2L1527.3 1142.8L1530.0 1141.4L1532.5 1139.7L1535.0 1138.0L1537.1 1136.2L1539.1 1134.1L1541.0 1131.8L1542.8 1129.4L1544.6 1126.9L1546.3 1124.5L1548.1 1122.2L1550.0 1120.0L1552.0 1118.0L1554.4 1115.9L1556.9 1113.9L1559.5 1112.0L1562.0 1110.2L1564.7 1108.6L1567.3 1107.2L1570.0 1106.0L1572.9 1105.0L1575.8 1104.2L1578.7 1103.6L1581.7 1103.2L1584.8 1102.8L1588.0 1102.5L1590.9 1102.2L1593.9 1102.0L1597.0 1101.8L1600.1 1101.7L1603.2 1101.7L1606.3 1101.8L1609.2 1102.1L1612.0 1102.5L1615.5 1103.3L1618.7 1104.4L1621.9 1105.7L1624.9 1107.2L1628.0 1108.9L1630.4 1110.5L1632.6 1112.3L1634.9 1114.3L1637.1 1116.3L1639.4 1118.3L1641.6 1120.1L1644.0 1121.7L1647.1 1123.4L1650.3 1124.9L1653.5 1126.2L1656.7 1127.2L1660.0 1128.0L1663.2 1128.5L1666.4 1128.7L1669.6 1128.7L1672.8 1128.5L1676.0 1128.0L1679.3 1127.3L1682.5 1126.3L1685.8 1125.1L1689.0 1123.6L1692.0 1121.7L1694.2 1120.0L1696.2 1118.1L1698.3 1116.0L1700.3 1113.8L1702.2 1111.4L1704.2 1108.9L1706.1 1106.5L1708.0 1104.0L1709.7 1101.8L1711.4 1099.6L1713.2 1097.3L1714.9 1094.9L1716.6 1092.5L1718.2 1090.1L1719.8 1087.7L1721.3 1085.4L1722.7 1083.2L1724.0 1081.0L1725.7 1077.9L1727.0 1074.9L1728.3 1072.0L1729.5 1069.1L1730.8 1066.0L1732.1 1063.1L1733.5 1060.1L1734.9 1057.1L1736.3 1054.1L1737.7 1051.0L1739.0 1048.0L1740.3 1045.1L1741.6 1042.3L1742.8 1039.4L1744.1 1036.5L1745.2 1033.4L1746.2 1030.0L1746.8 1027.6L1747.3 1024.9L1747.8 1022.0L1748.3 1019.0L1748.7 1015.8L1749.1 1012.7L1749.4 1009.5L1749.8 1006.4L1750.1 1003.4L1750.4 1000.7L1750.7 998.1L1750.9 995.9L1751.2 994.0L1752.3 987.0L1752.9 983.2L1753.6 979.1L1754.2 975.0L1754.9 971.0L1755.5 967.0L1756.1 963.0L1756.8 959.0L1757.4 955.0L1758.0 951.0L1758.7 947.0L1759.3 943.0L1760.0 939.0L1760.6 935.0L1761.2 931.0L1761.9 927.0L1762.5 923.0L1763.2 919.0L1763.8 915.0L1764.4 911.0L1765.1 907.0L1765.7 903.0L1766.4 899.0L1767.0 895.0L1767.6 891.0L1768.3 887.0L1768.9 883.0L1769.6 879.0L1770.2 875.0L1770.8 871.0L1771.5 867.0L1772.1 863.0L1772.8 859.0L1773.4 855.0L1774.0 851.0L1774.7 847.0L1775.3 843.0L1776.0 839.0L1776.6 835.0L1777.2 831.0L1777.9 827.0L1778.5 823.0L1779.2 819.0L1779.8 815.0L1780.5 811.0L1781.1 807.0L1781.7 803.0L1782.4 799.0L1783.0 795.0L1783.7 791.0L1784.3 787.0L1785.0 783.0L1785.6 779.0L1786.2 775.0L1786.9 771.0L1787.5 767.0L1788.2 763.0L1788.8 759.0L1789.5 755.0L1790.1 751.0L1790.7 747.0L1791.4 743.0L1792.0 739.0L1792.7 735.0L1793.3 731.0L1794.0 727.0L1794.6 723.0L1795.2 719.0L1795.9 715.0L1796.5 711.0L1797.2 707.0L1797.8 703.0L1798.5 699.0L1799.1 695.0L1799.8 691.0L1800.4 687.0L1801.0 683.0L1801.7 679.0L1802.3 675.0L1803.0 671.0L1803.6 667.0L1804.3 663.0L1804.9 659.0L1805.6 655.0L1806.2 651.0L1806.8 647.0L1807.5 643.0L1808.1 639.0L1808.8 635.0L1809.4 631.0L1810.1 627.0L1810.7 623.0L1811.4 619.0L1812.0 615.0L1812.6 611.0L1813.3 607.0L1813.9 603.0L1814.6 599.0L1815.2 595.0L1815.9 591.0L1816.5 587.0L1817.1 583.0L1817.8 579.0L1818.4 575.0L1819.1 571.0L1819.7 567.0L1820.4 563.0L1821.0 559.0L1821.7 555.0L1822.3 551.0L1822.9 547.0L1823.6 543.0L1824.2 539.0L1824.9 535.0L1825.5 531.0L1826.2 527.0L1826.8 523.0L1827.5 519.0L1828.1 515.0L1828.7 511.0L1829.4 507.0L1830.0 503.0L1830.7 499.0L1831.3 495.0L1832.0 491.0L1832.6 487.0L1833.2 483.0L1833.9 479.0L1834.5 475.0L1835.2 471.0L1835.8 467.0L1836.5 463.0L1837.1 459.0L1837.7 455.0L1838.4 451.0L1839.0 447.0L1839.7 443.0L1840.3 439.0L1840.9 435.0L1841.6 431.0L1842.2 427.0L1842.9 423.0L1843.5 419.0L1844.2 415.0L1844.8 411.0L1845.4 407.0L1846.1 403.0L1846.7 399.0L1847.4 395.0L1848.0 391.0L1848.6 387.0L1849.3 383.0L1849.9 379.0L1850.6 375.0L1851.2 371.0L1851.9 367.0L1852.5 363.0L1853.1 359.0L1853.8 355.0L1854.4 351.0L1855.1 347.0L1855.7 343.0L1856.3 339.0L1857.0 335.0L1857.6 331.0L1858.3 327.0L1858.9 323.0L1859.6 319.0L1860.2 315.0L1860.8 311.0L1861.5 307.0L1862.1 303.0L1862.8 299.0L1863.4 295.0L1864.0 291.0L1864.7 287.0L1865.3 283.0L1866.0 279.0L1866.5 274.8L1867.1 270.7L1867.9 267.0L1871.0 261.0L1875.0 259.0L1880.0 258.5L1885.0 259.0L1889.0 261.0L1889.2 267.0L1890.0 270.7L1891.1 274.9L1892.1 279.0L1893.1 283.0L1894.0 287.0L1894.9 291.0L1895.8 295.0L1896.7 299.0L1897.6 303.0L1898.4 307.0L1899.3 311.0L1900.1 315.0L1900.9 319.0L1901.7 323.0L1902.5 327.0L1903.3 331.0L1904.1 335.0L1904.8 339.0L1905.5 343.0L1906.3 347.0L1907.0 351.0L1907.7 355.0L1908.4 359.0L1909.1 363.0L1909.7 367.0L1910.4 371.0L1911.0 375.0L1911.7 379.0L1912.3 383.0L1912.9 387.0L1913.5 391.0L1914.1 395.0L1914.7 399.0L1915.3 403.0L1915.9 407.0L1916.4 411.0L1917.0 415.0L1917.5 419.0L1918.1 423.0L1918.6 427.0L1919.1 431.0L1919.7 435.0L1920.2 439.0L1920.7 443.0L1921.2 447.0L1921.7 451.0L1922.2 455.0L1922.7 459.0L1923.1 463.0L1923.6 467.0L1924.1 471.0L1924.5 475.0L1925.0 479.0L1925.4 483.0L1925.9 487.0L1926.3 491.0L1926.8 495.0L1927.2 499.0L1927.7 503.0L1928.1 507.0L1928.5 511.0L1928.9 515.0L1929.4 519.0L1929.8 523.0L1930.2 527.0L1930.7 531.0L1931.1 535.0L1931.5 539.0L1931.9 543.0L1932.4 547.0L1932.8 551.0L1933.2 555.0L1933.6 559.0L1934.1 563.0L1934.5 567.0L1935.0 571.0L1935.4 575.0L1935.8 579.0L1936.3 583.0L1936.8 587.0L1937.2 591.0L1937.7 595.0L1938.1 599.0L1938.6 603.0L1939.1 607.0L1939.6 611.0L1940.1 615.0L1940.6 619.0L1941.1 623.0L1941.6 627.0L1942.1 631.0L1942.7 635.0L1943.2 639.0L1943.8 643.0L1944.3 647.0L1944.9 651.0L1945.5 655.0L1946.1 659.0L1946.7 663.0L1947.3 667.0L1947.9 671.0L1948.5 675.0L1949.2 679.0L1949.8 683.0L1950.5 687.0L1951.2 691.0L1951.9 695.0L1952.6 699.0L1953.3 703.0L1954.1 707.0L1954.8 711.0L1955.6 715.0L1956.4 719.0L1957.2 723.0L1958.0 727.0L1958.8 731.0L1959.7 735.0L1960.6 739.0L1961.4 743.0L1962.3 747.0L1963.3 751.0L1964.2 755.0L1965.2 759.0L1966.1 763.0L1967.1 767.0L1968.2 771.0L1969.2 775.0L1970.3 779.0L1971.3 783.0L1972.4 787.0L1973.6 791.0L1974.7 795.0L1975.6 798.0L1976.5 801.0L1977.4 804.0L1978.3 807.0L1979.2 810.0L1980.1 813.0L1981.1 816.0L1982.1 819.0L1983.0 822.0L1984.0 825.0L1985.0 828.0L1986.0 831.0L1987.1 834.1L1988.2 837.3L1989.3 840.3L1990.3 843.0L1992.5 849.0L1993.5 850.7L1994.7 852.8L1996.2 855.1L1997.9 857.5L1999.7 860.1L2001.7 862.8L2003.7 865.4L2005.8 867.9L2007.9 870.3L2010.0 872.4L2012.0 874.3L2014.3 876.2L2016.8 878.1L2019.3 879.8L2021.8 881.3L2024.4 882.7L2026.9 883.9L2029.5 884.8L2032.0 885.5L2035.5 886.0L2038.9 886.0L2042.3 885.7L2045.8 885.0L2049.4 884.2L2052.1 883.4L2054.9 882.3L2057.7 881.1L2060.6 879.7L2063.4 878.2L2066.3 876.8L2069.2 875.3L2072.0 874.0"/>
<path id="cGREEN" d="M192.0 1040.0L195.0 1042.8L197.8 1046.1L199.2 1049.0L200.5 1052.3L201.7 1055.9L203.0 1059.2L204.6 1062.2L206.2 1065.1L207.9 1068.0L209.6 1071.0L211.3 1074.2L212.9 1077.4L214.5 1080.7L216.1 1084.0L217.4 1086.8L218.7 1089.7L220.0 1092.6L221.3 1095.5L222.6 1098.4L223.9 1101.5L225.2 1104.7L226.5 1107.8L227.9 1111.0L229.2 1114.0L230.8 1117.4L232.4 1120.6L234.0 1123.8L235.7 1127.0L237.3 1130.0L238.9 1133.1L240.5 1136.0L242.2 1138.8L244.2 1142.2L246.3 1145.4L248.7 1148.0L253.1 1150.5L257.9 1151.9L261.4 1152.3L265.1 1152.3L268.3 1151.2L270.3 1149.3L272.0 1146.6L273.5 1143.4L274.9 1140.1L275.9 1137.6L276.9 1134.8L277.8 1131.9L278.7 1128.9L279.6 1126.0L280.5 1123.1L281.4 1120.5L282.7 1117.2L283.9 1114.3L285.2 1111.2L286.6 1107.5L287.3 1105.5L288.1 1103.2L288.8 1100.7L289.7 1098.0L290.5 1095.2L291.3 1092.3L292.2 1089.4L293.1 1086.4L294.0 1083.4L295.0 1080.5L295.9 1077.7L296.9 1075.0L297.9 1072.5L299.0 1070.1L300.0 1068.0L301.6 1065.1L303.2 1062.3L304.8 1059.7L306.5 1057.3L308.3 1055.2L310.1 1053.4L312.0 1052.0L315.5 1050.4L319.1 1049.6L322.7 1049.7L326.3 1050.5L329.8 1052.2L333.0 1055.0L334.3 1056.7L335.6 1058.8L336.7 1061.2L337.8 1063.8L338.8 1066.6L339.8 1069.6L340.8 1072.7L341.8 1075.8L342.8 1078.9L343.9 1082.0L345.0 1085.0L345.9 1087.5L346.9 1090.1L347.8 1092.7L348.8 1095.5L349.8 1098.3L350.7 1101.1L351.7 1103.9L352.7 1106.6L353.7 1109.4L354.7 1112.1L355.7 1114.7L356.7 1117.2L357.7 1119.5L358.7 1121.7L359.8 1123.8L361.6 1127.1L363.5 1130.1L365.4 1132.9L367.3 1135.4L369.3 1137.6L371.2 1139.5L374.7 1142.1L379.0 1143.6L381.0 1144.0L383.3 1144.2L385.9 1144.3L388.7 1144.3L391.6 1144.3L394.7 1144.2L397.8 1144.0L400.9 1143.9L404.0 1143.7L407.1 1143.6L410.0 1143.6L413.0 1143.7L416.1 1143.8L419.4 1144.0L422.7 1144.2L425.9 1144.4L429.1 1144.6L432.2 1144.6L435.1 1144.6L437.7 1144.5L440.0 1144.1L442.0 1143.6L445.7 1141.1L448.6 1138.0L451.4 1135.9L454.3 1133.7L457.5 1130.5L458.6 1129.1L459.8 1127.5L461.1 1125.8L462.3 1124.0L463.7 1122.0L465.0 1119.8L466.4 1117.6L467.8 1115.3L469.3 1112.9L470.7 1110.4L472.1 1107.8L473.6 1105.2L475.0 1102.5L476.4 1099.9L477.8 1097.2L479.2 1094.5L480.5 1091.7L481.8 1089.1L483.0 1086.4L484.0 1084.2L484.9 1082.0L485.9 1079.8L486.8 1077.5L487.7 1075.2L488.6 1072.8L489.4 1070.4L490.3 1068.0L491.1 1065.6L492.0 1063.1L492.8 1060.6L493.6 1058.1L494.4 1055.6L495.2 1053.1L496.0 1050.5L496.9 1048.0L497.7 1045.4L498.5 1042.8L499.3 1040.3L500.1 1037.7L500.9 1035.2L501.8 1032.6L502.6 1030.1L503.5 1027.6L504.3 1025.0L505.2 1022.5L506.1 1020.1L507.0 1017.6L507.9 1015.1L508.9 1012.7L509.8 1010.2L510.8 1007.7L511.7 1005.3L512.7 1002.8L513.7 1000.4L514.6 997.9L515.6 995.4L516.6 993.0L517.6 990.5L518.6 988.1L519.6 985.6L520.6 983.2L521.6 980.7L522.6 978.3L523.6 975.8L524.6 973.3L525.6 970.9L526.6 968.4L527.6 966.0L528.6 963.5L529.6 961.1L530.6 958.6L531.6 956.2L532.6 953.7L533.6 951.3L534.6 948.8L535.6 946.3L536.6 943.9L537.6 941.4L538.6 938.9L539.6 936.5L540.6 934.0L541.6 931.5L542.6 929.0L543.7 926.5L544.7 924.1L545.7 921.6L546.7 919.1L547.7 916.6L548.7 914.2L549.8 911.7L550.8 909.2L551.7 906.7L552.7 904.3L553.7 901.8L554.7 899.4L555.7 896.9L556.6 894.5L557.6 892.0L558.5 889.6L559.4 887.2L560.3 884.8L561.2 882.4L562.1 880.0L563.0 877.4L563.9 874.9L564.8 872.3L565.7 869.7L566.6 867.2L567.4 864.6L568.3 862.0L569.1 859.5L569.9 856.9L570.8 854.4L571.6 851.9L572.4 849.3L573.2 846.8L574.0 844.3L574.8 841.8L575.6 839.4L576.3 836.9L577.1 834.4L577.9 832.0L578.7 829.6L579.5 827.1L580.4 824.7L581.2 822.4L582.0 820.0L582.9 817.3L583.9 814.7L584.8 812.0L585.7 809.4L586.6 806.7L587.5 804.1L588.4 801.5L589.3 799.0L590.2 796.4L591.2 793.8L592.1 791.3L593.0 788.8L594.0 786.3L594.9 783.9L595.9 781.5L596.9 779.0L597.9 776.7L598.9 774.3L600.0 772.0L601.2 769.4L602.5 766.9L603.8 764.3L605.1 761.9L606.5 759.4L607.9 757.0L609.2 754.6L610.6 752.3L612.0 749.9L613.4 747.6L614.8 745.3L616.2 743.0L617.5 740.7L618.9 738.5L620.2 736.2L621.7 733.6L623.1 731.0L624.5 728.4L625.9 725.8L627.2 723.2L628.6 720.7L630.0 718.2L631.4 715.8L632.8 713.4L634.3 711.2L635.8 709.0L637.4 707.0L639.4 704.7L641.4 702.5L643.4 700.4L645.5 698.4L647.6 696.6L649.8 694.8L652.1 693.1L654.6 691.5L656.9 690.1L659.3 688.7L661.8 687.4L664.4 686.2L667.0 685.0L669.7 683.9L672.4 682.9L675.1 681.9L677.7 681.1L680.4 680.3L683.2 679.6L686.1 678.9L688.9 678.4L691.8 678.0L694.7 677.6L697.6 677.3L700.4 677.1L703.3 677.0L706.2 676.9L709.1 676.9L712.0 676.9L714.8 677.0L717.7 677.2L720.6 677.4L723.5 677.8L726.3 678.2L729.2 678.8L732.0 679.5L734.6 680.3L737.2 681.3L739.8 682.4L742.4 683.6L745.0 684.9L747.5 686.2L750.1 687.6L752.7 688.9L755.2 690.3L757.8 691.5L760.4 692.7L762.9 694.0L765.5 695.4L768.1 696.7L770.6 698.0L773.2 699.3L775.8 700.5L778.4 701.6L781.0 702.6L783.6 703.5L786.4 704.3L789.3 705.0L792.1 705.6L795.0 706.1L797.9 706.5L800.8 706.8L803.7 707.0L806.5 707.0L809.4 707.0L812.3 706.9L815.2 706.7L818.1 706.3L821.0 705.9L823.9 705.4L826.8 704.7L829.7 703.9L832.5 702.9L835.2 701.8L837.6 700.6L840.0 699.4L842.4 698.0L844.8 696.5L847.2 694.9L849.5 693.1L851.8 691.3L854.0 689.4L856.1 687.3L858.1 685.2L860.0 682.9L861.5 680.9L863.0 678.7L864.3 676.4L865.6 673.9L866.8 671.4L868.0 668.8L869.1 666.2L870.2 663.5L871.3 660.8L872.3 658.0L873.4 655.3L874.5 652.6L875.6 649.9L876.8 647.3L878.0 644.8L879.2 642.4L880.5 640.0L881.7 637.6L883.0 635.2L884.3 632.8L885.6 630.5L886.9 628.1L888.1 625.8L889.4 623.4L890.7 621.1L892.0 618.7L893.3 616.2L894.5 613.8L895.8 611.3L897.0 608.8L898.1 606.5L899.2 604.2L900.3 601.8L901.3 599.4L902.4 597.0L903.5 594.6L904.5 592.2L905.6 589.7L906.6 587.3L907.6 584.8L908.7 582.3L909.7 579.8L910.8 577.4L911.8 574.9L912.9 572.4L913.9 570.0L914.9 567.5L916.0 565.1L917.1 562.7L918.1 560.2L919.2 557.7L920.2 555.2L921.3 552.7L922.3 550.1L923.4 547.6L924.4 545.1L925.5 542.6L926.5 540.1L927.6 537.6L928.6 535.2L929.7 532.8L930.7 530.4L931.8 528.1L932.8 525.8L933.9 523.6L934.9 521.5L936.2 518.7L937.5 516.0L938.8 513.2L940.1 510.5L941.4 507.9L942.6 505.4L944.0 503.0L945.4 500.7L946.8 498.6L948.4 496.6L950.0 494.9L952.7 492.6L955.6 490.5L958.7 488.6L961.8 487.3L964.6 486.5L967.2 486.4L969.9 487.4L972.3 489.3L974.5 491.9L976.6 494.9L977.8 496.9L978.9 499.1L980.0 501.6L981.0 504.2L981.9 507.0L982.8 509.9L983.7 512.8L984.5 515.8L985.3 518.7L986.1 521.5L986.8 524.1L987.4 526.8L987.9 529.5L988.4 532.2L988.9 534.9L989.4 537.7L989.8 540.4L990.3 543.2L990.8 546.0L991.3 548.9L991.8 551.8L992.3 554.4L992.8 557.0L993.3 559.7L993.9 562.3L994.4 565.1L995.0 567.8L995.5 570.5L996.1 573.3L996.6 576.1L997.2 578.8L997.7 581.6L998.3 584.3L998.9 587.1L999.4 589.8L999.9 592.5L1000.5 595.2L1001.0 597.9L1001.6 600.7L1002.1 603.4L1002.7 606.1L1003.2 608.8L1003.7 611.5L1004.3 614.2L1004.8 616.9L1005.4 619.7L1005.9 622.4L1006.5 625.1L1007.0 627.8L1007.5 630.5L1008.1 633.2L1008.6 635.8L1009.1 638.4L1009.6 641.1L1010.2 643.7L1010.7 646.3L1011.2 649.0L1011.8 651.7L1012.3 654.4L1012.9 657.1L1013.4 659.9L1014.0 662.8L1014.6 665.7L1015.1 668.1L1015.6 670.5L1016.1 673.0L1016.7 675.6L1017.2 678.2L1017.7 680.8L1018.3 683.5L1018.9 686.1L1019.4 688.8L1020.0 691.5L1020.6 694.2L1021.2 697.0L1021.7 699.6L1022.3 702.3L1022.8 705.0L1023.4 707.6L1023.9 710.2L1024.5 712.7L1025.0 715.2L1025.5 717.6L1026.0 720.0L1026.6 722.8L1027.2 725.6L1027.7 728.3L1028.2 730.9L1028.7 733.5L1029.3 736.1L1029.8 738.6L1030.3 741.1L1030.8 743.7L1031.3 746.2L1031.9 748.8L1032.4 751.5L1033.0 754.1L1033.6 756.9L1034.2 759.4L1034.7 761.9L1035.3 764.5L1035.9 767.1L1036.6 769.7L1037.2 772.3L1037.8 775.0L1038.5 777.6L1039.1 780.3L1039.8 783.0L1040.4 785.7L1041.1 788.4L1041.8 791.0L1042.4 793.7L1043.1 796.4L1043.7 799.1L1044.4 801.8L1045.0 804.4L1045.6 807.0L1046.3 809.7L1046.9 812.4L1047.5 815.0L1048.1 817.7L1048.8 820.4L1049.4 823.1L1050.0 825.8L1050.6 828.4L1051.3 831.1L1051.9 833.8L1052.5 836.4L1053.1 839.0L1053.8 841.6L1054.4 844.2L1055.1 846.8L1055.7 849.3L1056.4 851.8L1057.2 854.7L1057.9 857.5L1058.7 860.2L1059.5 863.0L1060.3 865.7L1061.1 868.4L1061.9 871.1L1062.7 873.8L1063.5 876.4L1064.3 879.1L1065.1 881.8L1066.0 884.4L1066.8 887.1L1067.7 889.8L1068.5 892.3L1069.3 894.9L1070.2 897.5L1071.0 900.1L1071.8 902.7L1072.6 905.2L1073.5 907.8L1074.3 910.4L1075.2 912.9L1076.1 915.5L1077.0 918.0L1078.0 920.5L1079.0 922.9L1080.0 925.3L1081.0 927.7L1082.2 930.2L1083.3 932.7L1084.6 935.2L1085.8 937.7L1087.1 940.1L1088.4 942.5L1089.7 944.9L1091.0 947.2L1092.4 949.5L1093.8 951.8L1095.2 954.1L1096.6 956.3L1098.0 958.5L1099.6 960.9L1101.3 963.3L1102.9 965.6L1104.6 967.9L1106.4 970.2L1108.1 972.4L1109.9 974.6L1111.6 976.8L1113.4 978.9L1115.2 981.0L1117.0 983.1L1119.1 985.4L1121.1 987.5L1123.2 989.6L1125.4 991.7L1127.5 993.7L1129.6 995.7L1131.7 997.8L1133.8 999.9L1135.9 1002.1L1137.8 1004.2L1139.8 1006.4L1141.7 1008.6L1143.6 1010.8L1145.5 1013.1L1147.4 1015.4L1149.3 1017.7L1151.2 1020.1L1153.1 1022.5L1154.9 1024.9L1156.5 1027.1L1158.1 1029.5L1159.7 1031.8L1161.3 1034.2L1162.8 1036.7L1164.4 1039.2L1166.0 1041.6L1167.5 1044.1L1169.1 1046.5L1170.7 1048.8L1172.3 1051.2L1173.9 1053.4L1175.7 1055.8L1177.6 1058.2L1179.5 1060.6L1181.4 1062.9L1183.3 1065.2L1185.2 1067.4L1187.1 1069.6L1189.0 1071.8L1191.0 1074.0L1192.9 1076.1L1195.0 1078.3L1197.1 1080.4L1199.2 1082.5L1201.3 1084.6L1203.4 1086.6L1205.5 1088.7L1207.6 1090.8L1209.7 1092.9L1211.8 1095.1L1213.7 1097.3L1215.6 1099.5L1217.5 1101.8L1219.4 1104.2L1221.3 1106.5L1223.2 1108.9L1225.0 1111.2L1226.9 1113.5L1228.9 1115.8L1230.8 1117.9L1232.9 1120.1L1234.9 1122.2L1237.0 1124.2L1239.1 1126.3L1241.3 1128.2L1243.4 1130.2L1245.5 1132.2L1247.7 1134.1L1249.8 1136.0L1252.1 1138.1L1254.5 1140.3L1256.8 1142.5L1259.1 1144.7L1261.5 1146.7L1263.9 1148.7L1266.3 1150.4L1268.8 1152.0L1271.4 1153.4L1274.2 1154.8L1277.0 1156.0L1279.8 1157.1L1282.5 1157.9L1285.2 1158.4L1287.7 1158.7L1290.8 1158.4L1293.7 1157.5L1296.6 1156.3L1300.0 1155.3L1302.4 1154.8L1304.9 1154.2L1307.7 1153.6L1310.6 1152.9L1313.5 1152.3L1316.5 1151.8L1319.6 1151.4L1322.6 1151.1L1325.6 1150.9L1328.5 1151.0L1331.4 1151.3L1334.2 1151.9L1337.1 1152.6L1339.9 1153.5L1342.7 1154.5L1345.6 1155.5L1348.4 1156.5L1351.3 1157.4L1354.1 1158.2L1357.0 1158.8L1359.8 1159.2L1362.7 1159.6L1365.5 1159.8L1368.3 1160.0L1371.2 1160.2L1374.0 1160.3L1376.9 1160.5L1379.7 1160.6L1382.6 1160.8L1385.4 1161.0L1388.3 1161.2L1391.2 1161.4L1394.1 1161.6L1397.0 1161.8L1399.9 1162.0L1402.8 1162.2L1405.7 1162.5L1408.5 1162.9L1411.2 1163.3L1413.9 1163.8L1416.8 1164.5L1419.6 1165.3L1422.4 1166.3L1425.1 1167.3L1427.7 1168.3L1430.3 1169.3L1432.9 1170.2L1435.3 1171.0L1439.0 1172.3L1442.4 1173.5L1445.8 1174.5L1449.5 1175.2L1452.3 1175.4L1455.3 1175.4L1458.3 1175.2L1461.5 1174.9L1464.7 1174.5L1467.8 1174.1L1470.9 1173.8L1474.0 1173.5L1477.1 1173.3L1480.3 1173.0L1483.4 1172.7L1486.5 1172.3L1489.4 1171.7L1492.2 1171.0L1495.3 1169.9L1498.2 1168.6L1501.0 1167.1L1503.7 1165.5L1506.5 1163.8L1509.4 1162.0L1512.3 1160.1L1515.1 1158.1L1517.9 1156.0L1520.7 1153.8L1523.1 1151.9L1525.5 1149.9L1527.8 1147.9L1530.2 1145.8L1532.5 1143.5L1535.0 1141.0L1536.7 1139.2L1538.4 1137.1L1540.1 1134.9L1541.8 1132.6L1543.6 1130.3L1545.3 1127.9L1547.1 1125.5L1548.9 1123.1L1550.7 1120.9L1552.4 1118.8L1554.2 1117.0L1556.0 1115.3L1558.7 1113.2L1561.3 1111.4L1564.0 1109.9L1566.6 1108.5L1569.3 1107.1L1572.0 1105.7L1574.6 1104.2L1577.1 1102.7L1579.7 1101.2L1582.3 1099.9L1585.1 1098.7L1588.0 1097.7L1590.7 1097.1L1593.6 1096.6L1596.6 1096.4L1599.6 1096.2L1602.7 1096.1L1605.9 1096.1L1609.0 1096.1L1612.0 1096.1L1615.0 1096.2L1618.1 1096.6L1621.3 1097.1L1624.4 1097.6L1627.5 1098.0L1630.4 1098.2L1633.3 1098.2L1636.0 1097.7L1639.0 1096.6L1641.7 1095.0L1644.3 1093.1L1646.8 1091.1L1649.4 1089.1L1652.0 1087.3L1654.7 1085.7L1657.3 1084.1L1660.0 1082.5L1662.7 1081.0L1665.4 1079.6L1668.1 1078.4L1671.2 1077.3L1674.4 1076.3L1677.6 1075.6L1680.9 1074.9L1684.1 1074.4L1687.3 1074.1L1690.5 1074.0L1693.7 1074.0L1696.9 1074.0L1700.1 1073.6L1703.4 1073.0L1706.7 1072.4L1710.0 1071.5L1713.1 1070.3L1716.1 1068.8L1718.6 1066.9L1721.0 1064.6L1723.3 1062.0L1725.5 1059.3L1727.6 1056.7L1729.6 1054.2L1731.7 1051.9L1733.7 1049.7L1735.6 1047.4L1737.4 1045.0L1739.1 1042.3L1740.2 1040.1L1741.3 1037.7L1742.4 1035.1L1743.4 1032.5L1744.3 1029.7L1745.2 1026.9L1746.0 1024.1L1746.7 1021.3L1747.4 1018.6L1748.0 1015.5L1748.4 1012.3L1748.8 1009.0L1749.0 1005.7L1749.2 1002.5L1749.5 999.5L1749.8 996.6L1750.2 994.0L1751.2 989.9L1752.3 986.4L1753.3 983.0L1754.0 979.0L1754.7 975.0L1755.3 971.2L1756.0 967.1L1756.7 963.0L1757.4 959.0L1758.1 955.0L1758.8 951.0L1759.5 947.0L1760.2 943.0L1760.9 939.0L1761.6 935.0L1762.3 931.0L1763.0 927.0L1763.7 923.0L1764.4 919.0L1765.1 915.0L1765.8 911.0L1766.5 907.0L1767.3 903.0L1768.0 899.0L1768.7 895.0L1769.4 891.0L1770.1 887.0L1770.8 883.0L1771.5 879.0L1772.2 875.0L1772.9 871.0L1773.7 867.0L1774.4 863.0L1775.1 859.0L1775.8 855.0L1776.5 851.0L1777.2 847.0L1778.0 843.0L1778.7 839.0L1779.4 835.0L1780.1 831.0L1780.8 827.0L1781.5 823.0L1782.3 819.0L1783.0 815.0L1783.7 811.0L1784.4 807.0L1785.1 803.0L1785.8 799.0L1786.6 795.0L1787.3 791.0L1788.0 787.0L1788.7 783.0L1789.4 779.0L1790.1 775.0L1790.8 771.0L1791.5 767.0L1792.3 763.0L1793.0 759.0L1793.7 755.0L1794.4 751.0L1795.1 747.0L1795.8 743.0L1796.5 739.0L1797.2 735.0L1797.9 731.0L1798.6 727.0L1799.3 723.0L1800.0 719.0L1800.7 715.0L1801.4 711.0L1802.1 707.0L1802.8 703.0L1803.5 699.0L1804.2 695.0L1804.9 691.0L1805.6 687.0L1806.3 683.0L1807.0 679.0L1807.7 675.0L1808.4 671.0L1809.1 667.0L1809.8 663.0L1810.4 659.0L1811.1 655.0L1811.8 651.0L1812.5 647.0L1813.2 643.0L1813.8 639.0L1814.5 635.0L1815.2 631.0L1815.8 627.0L1816.5 623.0L1817.2 619.0L1817.8 615.0L1818.5 611.0L1819.2 607.0L1819.8 603.0L1820.5 599.0L1821.1 595.0L1821.8 591.0L1822.4 587.0L1823.1 583.0L1823.7 579.0L1824.3 575.0L1825.0 571.0L1825.6 567.0L1826.2 563.0L1826.9 559.0L1827.5 555.0L1828.1 551.0L1828.8 547.0L1829.4 543.0L1830.0 539.0L1830.6 535.0L1831.2 531.0L1831.8 527.0L1832.4 523.0L1833.0 519.0L1833.6 515.0L1834.2 511.0L1834.8 507.0L1835.4 503.0L1836.0 499.0L1836.6 495.0L1837.2 491.0L1837.7 487.0L1838.3 483.0L1838.9 479.0L1839.4 475.0L1840.0 471.0L1840.6 467.0L1841.1 463.0L1841.7 459.0L1842.3 455.0L1842.8 451.0L1843.4 447.0L1844.0 443.0L1844.5 439.0L1845.1 435.0L1845.7 431.0L1846.3 427.0L1846.8 423.0L1847.4 419.0L1848.0 415.0L1848.6 411.0L1849.2 407.0L1849.8 403.0L1850.5 399.0L1851.1 395.0L1851.7 391.0L1852.4 387.0L1853.0 383.0L1853.7 379.0L1854.4 375.0L1855.0 371.0L1855.7 367.0L1856.4 363.0L1857.2 359.0L1857.9 355.0L1858.7 351.0L1859.4 347.0L1860.2 343.0L1861.0 339.0L1861.8 335.0L1862.6 331.0L1863.5 327.0L1864.3 323.0L1865.2 319.0L1866.1 315.0L1866.9 310.8L1867.7 306.6L1868.9 303.0L1873.0 297.0L1876.0 295.5L1880.0 295.3L1884.0 295.5L1887.0 297.0L1890.1 303.0L1891.2 306.7L1892.0 310.8L1892.8 315.0L1893.7 319.0L1894.6 323.0L1895.4 327.0L1896.3 331.0L1897.1 335.0L1897.9 339.0L1898.7 343.0L1899.4 347.0L1900.2 351.0L1901.0 355.0L1901.7 359.0L1902.4 363.0L1903.1 367.0L1903.8 371.0L1904.5 375.0L1905.2 379.0L1905.9 383.0L1906.5 387.0L1907.2 391.0L1907.8 395.0L1908.5 399.0L1909.1 403.0L1909.7 407.0L1910.3 411.0L1910.9 415.0L1911.5 419.0L1912.1 423.0L1912.7 427.0L1913.2 431.0L1913.8 435.0L1914.3 439.0L1914.9 443.0L1915.4 447.0L1916.0 451.0L1916.5 455.0L1917.0 459.0L1917.6 463.0L1918.1 467.0L1918.6 471.0L1919.1 475.0L1919.6 479.0L1920.1 483.0L1920.7 487.0L1921.2 491.0L1921.7 495.0L1922.2 499.0L1922.7 503.0L1923.2 507.0L1923.7 511.0L1924.2 515.0L1924.7 519.0L1925.2 523.0L1925.7 527.0L1926.2 531.0L1926.7 535.0L1927.2 539.0L1927.7 543.0L1928.2 547.0L1928.7 551.0L1929.2 555.0L1929.7 559.0L1930.2 563.0L1930.7 567.0L1931.3 571.0L1931.8 575.0L1932.3 579.0L1932.9 583.0L1933.4 587.0L1934.0 591.0L1934.5 595.0L1935.1 599.0L1935.7 603.0L1936.2 607.0L1936.8 611.0L1937.4 615.0L1938.0 619.0L1938.6 623.0L1939.2 627.0L1939.9 631.0L1940.5 635.0L1941.1 639.0L1941.8 643.0L1942.5 647.0L1943.1 651.0L1943.8 655.0L1944.5 659.0L1945.2 663.0L1945.9 667.0L1946.7 671.0L1947.4 675.0L1948.2 679.0L1948.9 683.0L1949.7 687.0L1950.5 691.0L1951.3 695.0L1952.1 699.0L1953.0 703.0L1953.8 707.0L1954.7 711.0L1955.5 715.0L1956.4 719.0L1957.3 723.0L1958.3 727.0L1959.2 731.0L1960.2 735.0L1961.2 739.0L1962.1 743.0L1963.2 747.0L1964.2 751.0L1965.2 755.0L1966.3 759.0L1967.4 763.0L1968.5 767.0L1969.6 771.0L1970.8 775.0L1971.9 779.0L1973.1 783.0L1974.0 786.0L1974.9 789.0L1975.9 792.0L1976.8 795.0L1977.7 798.0L1978.7 801.0L1979.7 804.0L1980.7 807.0L1981.7 810.0L1982.7 813.0L1983.7 816.0L1984.7 819.0L1985.8 822.0L1986.9 825.0L1987.9 828.0L1989.0 831.0L1990.3 834.3L1991.6 837.8L1992.8 840.9L1993.5 843.0L1993.9 844.0L1994.7 845.2L1996.1 847.0L1997.9 849.3L2000.0 852.0L2002.3 854.7L2004.8 857.5L2007.3 860.1L2009.7 862.4L2012.0 864.3L2014.8 866.1L2017.6 867.7L2020.4 869.1L2023.4 870.2L2026.4 871.1L2029.4 871.8L2032.1 872.2L2034.9 872.5L2037.8 872.6L2040.6 872.5L2043.6 872.3L2046.5 872.1L2049.4 871.8L2052.2 871.4L2055.0 870.9L2057.8 870.4L2060.6 869.7L2063.5 869.0L2066.3 868.3L2069.2 867.6L2072.0 867.0"/>
<path id="cNAVY" d="M192.0 1036.0L195.0 1039.3L197.8 1043.0L199.2 1045.9L200.4 1049.3L201.6 1052.7L203.0 1056.0L204.6 1059.0L206.2 1062.0L207.9 1065.0L209.6 1068.0L211.3 1071.2L212.9 1074.4L214.5 1077.7L216.1 1081.0L217.4 1083.8L218.7 1086.5L220.0 1089.3L221.3 1092.2L222.6 1095.0L223.9 1098.0L225.2 1101.0L226.5 1104.1L227.9 1107.1L229.2 1110.0L230.8 1113.3L232.4 1116.6L234.1 1119.8L235.7 1123.0L237.3 1126.1L238.9 1129.2L240.5 1132.2L242.2 1135.0L244.2 1138.3L246.3 1141.5L248.7 1144.0L253.1 1146.2L257.9 1147.3L261.5 1147.5L265.1 1147.2L268.3 1146.0L270.9 1143.5L273.0 1140.0L274.9 1136.0L275.9 1133.6L276.8 1131.0L277.7 1128.2L278.5 1125.2L279.4 1122.2L280.3 1119.1L281.4 1116.0L282.3 1113.7L283.3 1111.3L284.3 1108.9L285.4 1106.4L286.5 1103.9L287.6 1101.3L288.8 1098.7L289.9 1096.1L291.1 1093.5L292.2 1090.8L293.2 1088.1L294.2 1085.4L295.0 1082.8L295.8 1080.2L296.5 1077.4L297.2 1074.7L297.9 1071.8L298.5 1069.0L299.2 1066.2L299.9 1063.3L300.6 1060.6L301.3 1057.9L302.1 1055.2L303.0 1052.7L303.9 1050.3L305.0 1048.0L306.5 1045.1L308.1 1042.0L309.9 1039.0L311.7 1036.1L313.6 1033.3L315.5 1031.0L317.5 1029.1L319.4 1027.7L321.3 1027.0L324.1 1027.2L327.0 1028.5L330.0 1030.7L332.7 1033.3L335.0 1036.0L336.4 1038.3L337.6 1040.9L338.5 1043.8L339.3 1046.8L340.1 1050.0L340.8 1053.3L341.7 1056.5L342.7 1059.7L343.6 1062.1L344.5 1064.6L345.5 1067.1L346.5 1069.7L347.6 1072.3L348.7 1074.9L349.7 1077.5L350.8 1080.1L351.9 1082.6L352.9 1085.1L354.0 1087.6L355.0 1090.0L356.2 1092.8L357.3 1095.5L358.5 1098.2L359.6 1100.8L360.7 1103.4L361.9 1106.0L363.0 1108.6L364.3 1111.2L365.5 1113.8L366.8 1116.5L368.1 1119.4L369.5 1122.2L370.8 1125.1L372.2 1127.9L373.7 1130.6L375.2 1133.2L376.7 1135.7L378.3 1138.0L380.3 1140.7L382.3 1143.4L384.4 1145.8L386.7 1148.0L389.2 1149.9L392.0 1151.4L394.3 1152.2L396.9 1152.7L399.6 1152.9L402.5 1153.0L405.4 1153.0L408.4 1152.8L411.5 1152.6L414.4 1152.3L417.3 1152.1L420.0 1152.0L423.4 1151.9L426.7 1152.0L430.1 1152.0L433.3 1151.9L436.5 1151.6L439.4 1151.0L442.0 1150.0L444.8 1148.3L447.2 1146.1L449.3 1143.6L451.5 1140.9L453.8 1138.0L455.4 1136.1L457.0 1134.0L458.7 1131.8L460.4 1129.6L462.1 1127.2L463.8 1124.8L465.5 1122.4L467.2 1119.9L468.8 1117.5L470.5 1115.0L472.0 1112.8L473.5 1110.6L475.0 1108.4L476.5 1106.3L478.0 1104.1L479.5 1101.8L481.0 1099.5L482.5 1097.1L483.9 1094.6L485.4 1092.0L486.8 1089.3L488.2 1086.4L489.1 1084.4L490.0 1082.3L490.9 1080.1L491.8 1077.8L492.7 1075.5L493.6 1073.2L494.4 1070.7L495.3 1068.2L496.1 1065.7L497.0 1063.1L497.8 1060.5L498.6 1057.9L499.5 1055.2L500.3 1052.5L501.1 1049.8L501.9 1047.1L502.7 1044.3L503.5 1041.6L504.3 1038.9L505.1 1036.1L505.9 1033.4L506.8 1030.7L507.6 1028.0L508.4 1025.3L509.2 1022.6L510.0 1020.0L510.8 1017.5L511.5 1015.0L512.3 1012.5L513.1 1010.0L513.8 1007.4L514.5 1004.9L515.3 1002.3L516.0 999.8L516.7 997.2L517.5 994.7L518.2 992.1L518.9 989.6L519.7 987.0L520.4 984.4L521.1 981.9L521.8 979.3L522.6 976.8L523.3 974.2L524.1 971.6L524.8 969.1L525.6 966.5L526.4 964.0L527.1 961.4L527.9 958.9L528.7 956.4L529.5 953.8L530.4 951.3L531.2 948.8L532.0 946.3L532.9 943.8L533.8 941.3L534.7 938.9L535.6 936.4L536.5 933.9L537.4 931.4L538.4 929.0L539.3 926.5L540.3 924.1L541.2 921.6L542.2 919.1L543.2 916.7L544.1 914.2L545.1 911.8L546.1 909.3L547.0 906.9L548.0 904.5L548.9 902.0L549.9 899.6L550.8 897.1L551.7 894.7L552.6 892.2L553.5 889.8L554.4 887.3L555.3 884.9L556.2 882.4L557.0 880.0L557.9 877.4L558.7 874.9L559.6 872.3L560.4 869.7L561.2 867.2L562.0 864.6L562.8 862.0L563.6 859.4L564.4 856.9L565.2 854.3L566.0 851.7L566.8 849.1L567.5 846.6L568.3 844.0L569.1 841.5L569.8 838.9L570.6 836.3L571.3 833.8L572.0 831.2L572.8 828.7L573.5 826.2L574.3 823.6L575.0 821.1L575.7 818.6L576.5 816.1L577.2 813.6L578.0 811.0L578.7 808.5L579.4 805.9L580.2 803.3L580.9 800.7L581.6 798.2L582.3 795.6L583.0 793.0L583.7 790.4L584.4 787.9L585.1 785.3L585.8 782.8L586.5 780.3L587.2 777.7L587.9 775.2L588.6 772.7L589.3 770.3L590.0 767.8L590.7 765.3L591.4 762.9L592.2 760.5L592.9 758.1L593.6 755.7L594.4 753.4L595.3 750.6L596.2 747.9L597.1 745.2L598.1 742.5L599.0 739.8L599.9 737.2L600.9 734.6L601.8 732.0L602.8 729.4L603.7 726.8L604.7 724.3L605.6 721.7L606.6 719.2L607.6 716.7L608.6 714.3L609.6 711.8L610.6 709.4L611.6 707.0L612.8 704.2L613.9 701.5L615.1 698.8L616.3 696.1L617.5 693.4L618.7 690.8L619.9 688.2L621.2 685.6L622.4 683.0L623.7 680.5L624.9 678.1L626.2 675.6L627.5 673.2L628.8 670.9L630.3 668.3L631.8 665.7L633.3 663.2L634.8 660.7L636.3 658.3L637.9 655.9L639.5 653.6L641.1 651.4L642.7 649.2L644.3 647.0L646.0 645.0L648.0 642.6L650.1 640.4L652.2 638.2L654.4 636.1L656.5 634.1L658.7 632.2L661.0 630.4L663.2 628.7L665.9 626.8L668.6 625.0L671.4 623.3L674.3 621.8L677.2 620.5L680.4 619.2L683.0 618.3L685.8 617.5L688.7 616.7L691.7 616.1L694.7 615.5L697.7 615.0L700.7 614.6L703.5 614.2L706.2 614.0L709.9 613.9L713.3 613.9L716.7 614.2L720.0 614.5L723.4 615.0L726.2 615.5L729.0 616.0L731.8 616.7L734.7 617.4L737.6 618.3L740.6 619.2L743.0 620.0L745.6 620.9L748.2 621.8L750.9 622.9L753.6 623.9L756.3 625.0L759.0 626.2L761.5 627.3L764.0 628.5L766.4 629.6L769.0 631.0L771.5 632.6L773.8 634.2L776.1 635.8L778.5 637.3L780.9 638.7L783.6 640.0L786.2 641.1L789.0 642.1L791.9 643.1L794.9 644.1L797.9 644.9L800.9 645.6L803.9 646.2L806.7 646.6L809.4 646.8L812.5 646.8L815.4 646.5L818.3 646.0L821.1 645.3L823.9 644.4L826.6 643.3L829.2 642.1L831.7 640.6L834.2 638.9L836.6 637.1L839.0 635.2L841.4 633.2L843.8 631.3L846.2 629.3L848.6 627.3L850.9 625.2L853.2 623.0L855.5 620.7L857.7 618.3L860.0 615.8L861.7 613.8L863.4 611.7L865.1 609.5L866.7 607.3L868.4 605.0L870.0 602.6L871.7 600.2L873.3 597.7L874.9 595.1L876.4 592.5L878.0 589.8L879.2 587.6L880.4 585.4L881.5 583.2L882.7 580.8L883.8 578.5L885.0 576.1L886.1 573.6L887.2 571.1L888.3 568.6L889.4 566.1L890.5 563.5L891.6 560.9L892.7 558.4L893.8 555.8L894.8 553.2L895.9 550.6L897.0 548.0L898.0 545.6L899.0 543.2L899.9 540.8L900.9 538.4L901.8 535.9L902.8 533.5L903.7 531.0L904.7 528.5L905.6 526.0L906.6 523.5L907.5 521.0L908.4 518.5L909.4 516.0L910.3 513.5L911.2 511.0L912.2 508.5L913.1 506.0L914.1 503.6L915.0 501.1L916.0 498.7L917.0 496.1L918.1 493.4L919.2 490.8L920.2 488.1L921.3 485.4L922.4 482.7L923.4 480.0L924.5 477.3L925.6 474.6L926.7 472.0L927.7 469.4L928.8 466.9L929.8 464.4L930.9 462.0L931.9 459.6L932.9 457.3L933.9 455.2L934.9 453.1L936.4 450.0L937.8 446.9L939.1 444.0L940.5 441.2L941.9 438.6L943.3 436.3L944.7 434.1L946.3 432.3L949.3 429.5L952.4 427.6L955.8 426.6L959.1 426.7L962.6 427.7L966.1 429.2L969.0 431.3L970.7 433.2L972.2 435.6L973.4 438.2L974.5 441.1L975.5 444.2L976.6 447.4L977.3 449.7L978.1 452.1L978.7 454.6L979.4 457.2L980.0 460.0L980.6 462.7L981.2 465.6L981.8 468.4L982.4 471.3L983.0 474.1L983.6 476.9L984.2 479.7L984.8 482.3L985.4 484.9L986.0 487.5L986.6 490.1L987.2 492.7L987.8 495.3L988.4 497.9L989.0 500.6L989.6 503.2L990.2 505.9L990.7 508.5L991.3 511.2L991.8 513.9L992.3 516.5L992.7 519.2L993.1 521.9L993.5 524.6L993.9 527.3L994.3 530.0L994.7 532.7L995.1 535.4L995.4 538.2L995.8 540.9L996.2 543.6L996.6 546.4L997.0 549.1L997.5 551.8L998.0 554.5L998.5 557.2L999.0 559.9L999.5 562.5L1000.1 565.2L1000.6 567.9L1001.2 570.5L1001.7 573.2L1002.3 575.9L1002.8 578.6L1003.4 581.4L1003.9 584.1L1004.5 587.0L1005.0 589.8L1005.4 592.3L1005.9 594.9L1006.3 597.5L1006.7 600.1L1007.2 602.7L1007.6 605.4L1008.0 608.1L1008.4 610.8L1008.8 613.5L1009.3 616.2L1009.7 618.9L1010.1 621.6L1010.5 624.3L1010.9 626.9L1011.4 629.5L1011.8 632.1L1012.3 634.7L1012.7 637.2L1013.2 640.0L1013.8 642.8L1014.3 645.6L1014.8 648.3L1015.4 651.0L1015.9 653.6L1016.5 656.3L1017.0 658.9L1017.6 661.6L1018.2 664.2L1018.7 666.9L1019.2 669.6L1019.8 672.4L1020.3 675.2L1020.8 677.7L1021.2 680.3L1021.7 682.9L1022.2 685.6L1022.6 688.2L1023.1 690.9L1023.5 693.6L1024.0 696.3L1024.5 699.0L1024.9 701.7L1025.3 704.4L1025.8 707.0L1026.2 709.7L1026.6 712.3L1027.1 714.9L1027.5 717.5L1027.9 720.0L1028.4 722.9L1028.8 725.8L1029.2 728.7L1029.6 731.5L1030.0 734.3L1030.4 737.0L1030.8 739.8L1031.2 742.6L1031.6 745.3L1032.0 748.2L1032.5 751.0L1033.0 753.9L1033.6 756.9L1034.1 759.4L1034.6 761.9L1035.2 764.5L1035.8 767.1L1036.4 769.7L1037.0 772.3L1037.7 775.0L1038.3 777.6L1039.0 780.3L1039.6 783.0L1040.3 785.7L1041.0 788.4L1041.7 791.1L1042.4 793.7L1043.0 796.4L1043.7 799.1L1044.4 801.8L1045.0 804.4L1045.6 807.0L1046.3 809.7L1046.9 812.4L1047.5 815.0L1048.1 817.7L1048.8 820.4L1049.4 823.1L1050.0 825.8L1050.6 828.4L1051.3 831.1L1051.9 833.8L1052.5 836.4L1053.1 839.0L1053.8 841.6L1054.4 844.2L1055.1 846.8L1055.7 849.3L1056.4 851.8L1057.2 854.7L1057.9 857.5L1058.7 860.2L1059.5 863.0L1060.3 865.7L1061.1 868.4L1061.9 871.1L1062.7 873.8L1063.5 876.4L1064.3 879.1L1065.1 881.8L1066.0 884.4L1066.8 887.1L1067.7 889.8L1068.5 892.3L1069.3 894.9L1070.2 897.5L1071.0 900.1L1071.8 902.7L1072.6 905.2L1073.5 907.8L1074.3 910.4L1075.2 912.9L1076.1 915.5L1077.0 918.0L1078.0 920.5L1079.0 922.9L1080.0 925.3L1081.0 927.7L1082.2 930.2L1083.3 932.7L1084.6 935.2L1085.8 937.7L1087.1 940.1L1088.4 942.5L1089.7 944.9L1091.0 947.2L1092.4 949.5L1093.8 951.8L1095.2 954.1L1096.6 956.3L1098.0 958.5L1099.6 960.9L1101.3 963.3L1102.9 965.6L1104.6 967.9L1106.4 970.2L1108.1 972.4L1109.9 974.6L1111.6 976.8L1113.4 978.9L1115.2 981.0L1117.0 983.1L1119.1 985.4L1121.1 987.5L1123.2 989.6L1125.4 991.7L1127.5 993.7L1129.6 995.7L1131.7 997.8L1133.8 999.9L1135.9 1002.1L1137.8 1004.2L1139.8 1006.4L1141.7 1008.6L1143.6 1010.8L1145.5 1013.1L1147.4 1015.4L1149.3 1017.7L1151.2 1020.1L1153.1 1022.5L1154.9 1024.9L1156.5 1027.1L1158.1 1029.5L1159.7 1031.8L1161.3 1034.2L1162.8 1036.7L1164.4 1039.2L1166.0 1041.6L1167.5 1044.1L1169.1 1046.5L1170.7 1048.8L1172.3 1051.2L1173.9 1053.4L1175.7 1055.8L1177.6 1058.2L1179.5 1060.6L1181.4 1062.9L1183.3 1065.2L1185.2 1067.4L1187.1 1069.6L1189.0 1071.8L1191.0 1074.0L1192.9 1076.1L1195.0 1078.3L1197.1 1080.4L1199.2 1082.5L1201.3 1084.6L1203.4 1086.6L1205.5 1088.7L1207.6 1090.8L1209.7 1092.9L1211.8 1095.1L1213.7 1097.3L1215.6 1099.5L1217.5 1101.9L1219.4 1104.2L1221.3 1106.6L1223.1 1109.0L1225.0 1111.3L1226.9 1113.6L1228.8 1115.8L1230.8 1117.9L1232.9 1120.0L1234.9 1122.0L1237.0 1123.9L1239.1 1125.9L1241.3 1127.7L1243.4 1129.6L1245.5 1131.4L1247.7 1133.2L1249.8 1135.0L1252.1 1137.0L1254.5 1139.1L1256.8 1141.3L1259.1 1143.3L1261.5 1145.3L1263.9 1147.2L1266.3 1148.8L1268.8 1150.2L1271.9 1151.6L1275.1 1152.7L1278.4 1153.6L1281.6 1154.3L1284.8 1154.7L1287.7 1154.9L1290.8 1154.6L1293.7 1153.9L1296.6 1153.0L1300.0 1152.4L1302.4 1152.2L1304.9 1152.0L1307.7 1151.9L1310.5 1151.8L1313.5 1151.7L1316.5 1151.7L1319.6 1151.7L1322.6 1151.7L1325.6 1151.7L1328.5 1151.7L1331.4 1151.7L1334.2 1151.8L1337.1 1151.9L1339.9 1152.0L1342.8 1152.1L1345.6 1152.2L1348.5 1152.3L1351.3 1152.4L1354.2 1152.4L1357.0 1152.4L1359.8 1152.4L1362.7 1152.3L1365.5 1152.2L1368.4 1152.1L1371.2 1151.9L1374.0 1151.8L1376.9 1151.6L1379.7 1151.4L1382.6 1151.2L1385.4 1151.0L1388.3 1150.8L1391.3 1150.6L1394.3 1150.4L1397.3 1150.3L1400.3 1150.0L1403.2 1149.8L1406.1 1149.5L1408.9 1149.1L1411.5 1148.7L1413.9 1148.2L1417.1 1147.4L1420.1 1146.4L1422.9 1145.4L1425.5 1144.1L1428.2 1142.5L1430.3 1140.9L1432.4 1139.0L1434.4 1136.9L1436.4 1134.8L1438.4 1132.5L1440.4 1130.3L1442.4 1128.2L1444.4 1126.1L1446.4 1124.0L1448.4 1121.9L1450.4 1119.8L1452.5 1117.8L1454.5 1115.8L1456.6 1114.0L1459.4 1111.7L1462.3 1109.6L1465.3 1107.6L1468.2 1105.7L1470.9 1104.0L1474.2 1102.0L1477.3 1100.3L1480.8 1099.0L1483.5 1098.4L1486.5 1098.1L1489.6 1097.9L1492.9 1097.8L1496.1 1097.7L1499.3 1097.6L1502.5 1097.6L1505.7 1097.7L1509.0 1097.9L1512.2 1098.0L1515.2 1097.9L1517.9 1097.6L1521.4 1096.8L1524.6 1095.7L1527.8 1094.0L1530.1 1092.4L1532.5 1090.4L1534.9 1088.2L1537.3 1085.9L1539.6 1083.5L1542.0 1081.2L1544.3 1078.9L1546.6 1076.6L1548.9 1074.2L1551.2 1071.8L1553.6 1069.5L1556.0 1067.2L1558.2 1065.3L1560.4 1063.3L1562.7 1061.4L1565.0 1059.6L1567.3 1057.8L1569.6 1056.0L1572.0 1054.4L1574.6 1052.7L1577.3 1051.0L1580.0 1049.3L1582.7 1047.9L1585.4 1046.6L1588.0 1045.6L1591.3 1044.7L1594.5 1044.2L1597.7 1044.0L1600.8 1044.0L1604.6 1044.3L1608.2 1045.0L1612.0 1046.4L1614.2 1047.7L1616.5 1049.3L1618.8 1051.1L1621.1 1053.1L1623.4 1055.2L1625.7 1057.3L1628.0 1059.2L1630.3 1061.1L1632.5 1063.0L1634.8 1065.0L1637.0 1066.9L1639.3 1068.7L1641.6 1070.4L1644.0 1072.0L1646.6 1073.5L1649.2 1075.0L1651.9 1076.3L1654.6 1077.5L1657.3 1078.5L1660.0 1079.2L1663.2 1079.7L1666.4 1079.9L1669.6 1079.8L1672.8 1079.6L1676.0 1079.2L1679.2 1078.8L1682.5 1078.3L1685.7 1077.6L1688.9 1076.6L1692.0 1075.2L1694.5 1073.7L1696.9 1071.8L1699.3 1069.7L1701.7 1067.4L1703.9 1065.1L1706.1 1062.8L1708.0 1060.8L1710.3 1058.3L1712.3 1055.9L1714.2 1053.6L1716.1 1051.2L1718.7 1048.3L1721.4 1045.5L1724.0 1042.0L1725.3 1039.9L1726.7 1037.6L1728.1 1035.1L1729.4 1032.5L1730.8 1029.8L1732.1 1027.0L1733.4 1024.1L1734.5 1021.3L1735.6 1018.6L1736.6 1015.8L1737.5 1012.8L1738.3 1009.7L1739.1 1006.6L1739.9 1003.6L1740.5 1000.7L1741.1 998.1L1741.6 995.8L1742.0 994.0L1742.7 990.0L1743.3 986.5L1744.0 982.2L1744.8 978.0L1745.5 974.0L1746.2 970.0L1746.9 966.0L1747.6 962.0L1748.3 958.0L1749.0 954.0L1749.7 950.0L1750.4 946.0L1751.0 942.0L1751.7 938.0L1752.4 934.0L1753.1 930.0L1753.8 926.0L1754.4 922.0L1755.1 918.0L1755.8 914.0L1756.5 910.0L1757.1 906.0L1757.8 902.0L1758.5 898.0L1759.1 894.0L1759.8 890.0L1760.5 886.0L1761.1 882.0L1761.8 878.0L1762.4 874.0L1763.1 870.0L1763.7 866.0L1764.4 862.0L1765.0 858.0L1765.7 854.0L1766.3 850.0L1766.9 846.0L1767.6 842.0L1768.2 838.0L1768.9 834.0L1769.5 830.0L1770.1 826.0L1770.8 822.0L1771.4 818.0L1772.0 814.0L1772.6 810.0L1773.3 806.0L1773.9 802.0L1774.5 798.0L1775.1 794.0L1775.8 790.0L1776.4 786.0L1777.0 782.0L1777.6 778.0L1778.2 774.0L1778.8 770.0L1779.4 766.0L1780.0 762.0L1780.7 758.0L1781.3 754.0L1781.9 750.0L1782.5 746.0L1783.1 742.0L1783.7 738.0L1784.3 734.0L1784.9 730.0L1785.5 726.0L1786.0 722.0L1786.6 718.0L1787.2 714.0L1787.8 710.0L1788.4 706.0L1789.0 702.0L1789.6 698.0L1790.2 694.0L1790.8 690.0L1791.3 686.0L1791.9 682.0L1792.5 678.0L1793.1 674.0L1793.7 670.0L1794.2 666.0L1794.8 662.0L1795.4 658.0L1795.9 654.0L1796.5 650.0L1797.1 646.0L1797.7 642.0L1798.2 638.0L1798.8 634.0L1799.4 630.0L1799.9 626.0L1800.5 622.0L1801.1 618.0L1801.6 614.0L1802.2 610.0L1802.7 606.0L1803.3 602.0L1803.9 598.0L1804.4 594.0L1805.0 590.0L1805.5 586.0L1806.1 582.0L1806.6 578.0L1807.2 574.0L1807.7 570.0L1808.3 566.0L1808.8 562.0L1809.4 558.0L1809.9 554.0L1810.5 550.0L1811.0 546.0L1811.6 542.0L1812.1 538.0L1812.6 534.0L1813.2 530.0L1813.7 526.0L1814.3 522.0L1814.8 518.0L1815.4 514.0L1815.9 510.0L1816.4 506.0L1817.0 502.0L1817.5 498.0L1818.0 494.0L1818.6 490.0L1819.1 486.0L1819.6 482.0L1820.2 478.0L1820.7 474.0L1821.2 470.0L1821.8 466.0L1822.3 462.0L1822.8 458.0L1823.4 454.0L1823.9 450.0L1824.4 446.0L1825.0 442.0L1825.5 438.0L1826.0 434.0L1826.5 430.0L1827.1 426.0L1827.6 422.0L1828.1 418.0L1828.7 414.0L1829.2 410.0L1829.7 406.0L1830.3 402.0L1830.8 398.0L1831.3 394.0L1831.9 390.0L1832.4 386.0L1832.9 382.0L1833.5 378.0L1834.0 374.0L1834.5 370.0L1835.1 366.0L1835.6 362.0L1836.1 358.0L1836.7 354.0L1837.2 350.0L1837.8 346.0L1838.3 342.0L1838.8 338.0L1839.4 334.0L1839.9 330.0L1840.5 326.0L1841.0 322.0L1841.6 318.0L1842.1 314.0L1842.7 310.0L1843.2 306.0L1843.8 302.0L1844.3 298.0L1844.9 294.0L1845.5 290.0L1846.0 286.0L1846.6 282.0L1847.2 278.0L1847.7 274.0L1848.3 270.0L1848.9 266.0L1849.4 262.0L1850.0 258.0L1850.6 254.0L1851.2 250.0L1851.7 246.0L1852.3 242.0L1852.9 238.0L1853.5 234.0L1854.1 230.0L1854.7 226.0L1855.3 222.0L1855.9 218.0L1856.5 214.0L1857.1 210.0L1857.7 206.0L1858.3 202.0L1858.9 198.0L1859.5 194.0L1860.2 190.0L1860.8 186.0L1861.4 182.0L1862.0 178.0L1862.7 174.0L1863.3 170.0L1863.9 166.0L1864.6 162.0L1865.2 158.0L1865.9 154.0L1866.5 150.0L1867.0 145.9L1867.5 141.7L1868.5 138.0L1871.0 133.7L1874.0 130.5L1878.0 128.5L1881.0 128.0L1885.0 128.5L1888.0 131.0L1890.6 138.0L1891.5 141.7L1892.3 145.9L1893.0 150.0L1893.8 154.0L1894.6 158.0L1895.3 162.0L1896.1 166.0L1896.8 170.0L1897.5 174.0L1898.2 178.0L1898.9 182.0L1899.6 186.0L1900.3 190.0L1901.0 194.0L1901.7 198.0L1902.3 202.0L1903.0 206.0L1903.6 210.0L1904.2 214.0L1904.9 218.0L1905.5 222.0L1906.1 226.0L1906.7 230.0L1907.3 234.0L1907.9 238.0L1908.4 242.0L1909.0 246.0L1909.6 250.0L1910.1 254.0L1910.7 258.0L1911.2 262.0L1911.8 266.0L1912.3 270.0L1912.8 274.0L1913.3 278.0L1913.9 282.0L1914.4 286.0L1914.9 290.0L1915.4 294.0L1915.9 298.0L1916.3 302.0L1916.8 306.0L1917.3 310.0L1917.8 314.0L1918.3 318.0L1918.7 322.0L1919.2 326.0L1919.6 330.0L1920.1 334.0L1920.6 338.0L1921.0 342.0L1921.5 346.0L1921.9 350.0L1922.3 354.0L1922.8 358.0L1923.2 362.0L1923.7 366.0L1924.1 370.0L1924.5 374.0L1925.0 378.0L1925.4 382.0L1925.8 386.0L1926.2 390.0L1926.7 394.0L1927.1 398.0L1927.5 402.0L1927.9 406.0L1928.4 410.0L1928.8 414.0L1929.2 418.0L1929.6 422.0L1930.1 426.0L1930.5 430.0L1930.9 434.0L1931.3 438.0L1931.8 442.0L1932.2 446.0L1932.6 450.0L1933.1 454.0L1933.5 458.0L1933.9 462.0L1934.4 466.0L1934.8 470.0L1935.3 474.0L1935.7 478.0L1936.2 482.0L1936.6 486.0L1937.1 490.0L1937.5 494.0L1938.0 498.0L1938.5 502.0L1938.9 506.0L1939.4 510.0L1939.9 514.0L1940.4 518.0L1940.8 522.0L1941.3 526.0L1941.8 530.0L1942.3 534.0L1942.8 538.0L1943.4 542.0L1943.9 546.0L1944.4 550.0L1944.9 554.0L1945.5 558.0L1946.0 562.0L1946.6 566.0L1947.1 570.0L1947.7 574.0L1948.2 578.0L1948.8 582.0L1949.4 586.0L1950.0 590.0L1950.6 594.0L1951.2 598.0L1951.8 602.0L1952.4 606.0L1953.1 610.0L1953.7 614.0L1954.4 618.0L1955.0 622.0L1955.7 626.0L1956.3 630.0L1957.0 634.0L1957.7 638.0L1958.4 642.0L1959.1 646.0L1959.9 650.0L1960.6 654.0L1961.3 658.0L1962.1 662.0L1962.9 666.0L1963.6 670.0L1964.4 674.0L1965.2 678.0L1966.0 682.0L1966.8 686.0L1967.7 690.0L1968.5 694.0L1969.4 698.0L1970.2 702.0L1971.1 706.0L1972.0 710.0L1972.9 714.0L1973.8 718.0L1974.8 722.0L1975.7 726.0L1976.7 730.0L1977.6 734.0L1978.6 738.0L1979.5 741.8L1980.4 745.6L1981.6 750.0L1982.4 752.2L1983.2 754.6L1984.2 757.1L1985.2 759.9L1986.3 762.7L1987.4 765.6L1988.6 768.5L1989.8 771.4L1991.0 774.3L1992.2 777.0L1993.4 779.7L1994.6 782.2L1995.9 784.9L1997.2 787.5L1998.5 790.1L1999.8 792.5L2001.1 795.0L2002.5 797.4L2003.9 799.8L2005.4 802.2L2007.0 804.6L2008.5 807.0L2010.1 809.4L2011.7 811.9L2013.4 814.4L2015.1 816.9L2016.8 819.3L2018.7 821.5L2020.5 823.6L2022.5 825.4L2024.5 827.0L2027.1 828.6L2029.9 829.9L2032.8 831.0L2035.8 831.9L2038.8 832.5L2041.7 832.9L2044.4 833.2L2047.5 833.2L2050.6 832.9L2053.6 832.3L2056.5 831.5L2059.3 830.7L2062.6 829.5L2065.7 828.1L2068.9 826.5L2072.0 825.0"/>
</defs>
<g stroke-width="7" opacity="0.45">
<use href="#cPA6" stroke="#a8a8a8"/>
<use href="#cDKGREEN" stroke="#a8d8a8"/>
<use href="#cPURPLE" stroke="#cfa8ff"/>
<use href="#cBLUE" stroke="#b0b0ff"/>
<use href="#cRED" stroke="#ffb0b0"/>
<use href="#cMAGENTA" stroke="#ffb0ff"/>
<use href="#cGREEN" stroke="#b0ffb0"/>
<use href="#cNAVY" stroke="#a8a8d4"/>
</g>
<use href="#cPA6" stroke="#505050"/>
<use href="#cDKGREEN" stroke="#4caf50"/>
<use href="#cPURPLE" stroke="#9d45f0"/>
<use href="#cBLUE" stroke="#5252ff"/>
<use href="#cRED" stroke="#ff4646"/>
<use href="#cMAGENTA" stroke="#ff4cff"/>
<use href="#cGREEN" stroke="#36ee36"/>
<use href="#cNAVY" stroke="#4a4aa8"/>
</g>
<rect x="407.4" y="897" width="4" height="133.0" fill="#b4b4b4"/>
<rect x="408.4" y="897" width="2" height="133.0" fill="#9a9a9a"/>
<polygon points="409.4,863.5 399.9,896.5 418.9,896.5" fill="#0a0a0a"/>
<rect x="1479.9" y="940" width="4" height="121.5" fill="#b4b4b4"/>
<rect x="1480.9" y="940" width="2" height="121.5" fill="#9a9a9a"/>
<polygon points="1481.9,908.7 1472.4,940.5 1491.4,940.5" fill="#0a0a0a"/>
<rect x="188" y="33" width="1889" height="4" fill="#ebebeb"/>
<rect x="188" y="1394" width="1889" height="4" fill="#ececec"/>
<rect x="188" y="37" width="1889" height="4" fill="#2b2b2b"/>
<rect x="192" y="41" width="1880" height="4" fill="#a8a8a8"/>
<rect x="188" y="37" width="4" height="1357" fill="#555555"/>
<rect x="192" y="41" width="4" height="1349" fill="#5e5e5e"/>
<rect x="2068" y="37" width="4" height="1357" fill="#3c3c3c"/>
<rect x="2072" y="37" width="5" height="1357" fill="#8e8e8e"/>
<rect x="196" y="1386" width="1872" height="4" fill="#919191"/>
<rect x="188" y="1390" width="1884" height="4" fill="#333333"/>
<rect x="606.0" y="1362" width="8" height="24" fill="#9a9a9a"/>
<rect x="608.0" y="1362" width="4" height="28" fill="#222"/>
<rect x="1024.0" y="1362" width="8" height="24" fill="#9a9a9a"/>
<rect x="1026.0" y="1362" width="4" height="28" fill="#222"/>
<rect x="1442.0" y="1362" width="8" height="24" fill="#9a9a9a"/>
<rect x="1444.0" y="1362" width="4" height="28" fill="#222"/>
<rect x="1860.0" y="1362" width="8" height="24" fill="#9a9a9a"/>
<rect x="1862.0" y="1362" width="4" height="28" fill="#222"/>
<rect x="397.0" y="1374" width="8" height="12" fill="#8a8a8a"/>
<rect x="400.0" y="1374" width="4" height="16" fill="#222"/>
<rect x="815.0" y="1374" width="8" height="12" fill="#8a8a8a"/>
<rect x="818.0" y="1374" width="4" height="16" fill="#222"/>
<rect x="1233.0" y="1374" width="8" height="12" fill="#8a8a8a"/>
<rect x="1236.0" y="1374" width="4" height="16" fill="#222"/>
<rect x="1651.0" y="1374" width="8" height="12" fill="#8a8a8a"/>
<rect x="1654.0" y="1374" width="4" height="16" fill="#222"/>
<rect x="220" y="97" width="156" height="4" fill="#d8ffd8"/>
<rect x="220" y="93" width="156" height="4.3" fill="#4cff4c"/>
<rect x="767" y="97" width="157" height="4" fill="#e6d6ff"/>
<rect x="767" y="93" width="157" height="4.3" fill="#a64dff"/>
<text class="t" x="393.5" y="117.3" dx="0 6.3 -1.2 -2.5 2.1 1.3 -3 -0.4 -0.8" font-size="67" letter-spacing="1.45">PA6/PBS-5</text>
<text class="t" x="941.5" y="117.3" dx="0 6.3 -1.2 -2.5 2.1 1.3 -3 -0.4 -0.8" font-size="67" letter-spacing="1.45">PA6/PBS-3</text>
<rect x="220" y="173" width="156" height="4" fill="#b0b0d8"/>
<rect x="220" y="177" width="156" height="4.3" fill="#6b6bb6"/>
<rect x="767" y="173" width="157" height="4" fill="#b0d8b0"/>
<rect x="767" y="177" width="157" height="4.3" fill="#6db86d"/>
<text class="t" x="393.5" y="199.7" dx="0 6.3 -1.2 -2.5 2.1 1.3 -3 -0.4 -0.8" font-size="67" letter-spacing="1.45">PA6/PBS-1</text>
<text class="t" x="941.5" y="199.7" dx="0 6.3 -1.2 -2.5 2.1 1.3 -3 -0.4 -0.8 0 0" font-size="67" letter-spacing="1.45">PA6/PBS-0.8</text>
<rect x="220" y="261" width="156" height="4" fill="#ffa8ff"/>
<rect x="220" y="257" width="156" height="4.3" fill="#ff70ff"/>
<rect x="767" y="261" width="157" height="4" fill="#a8a8ff"/>
<rect x="767" y="257" width="157" height="4.3" fill="#7474ff"/>
<text class="t" x="393.5" y="282.1" dx="0 6.3 -1.2 -2.5 2.1 1.3 -3 -0.4 -0.8 0 0" font-size="67" letter-spacing="1.45">PA6/PBS-0.5</text>
<text class="t" x="941.5" y="282.1" dx="0 6.3 -1.2 -2.5 2.1 1.3 -3 -0.4 -0.8 0 0" font-size="67" letter-spacing="1.45">PA6/PBS-0.2</text>
<rect x="220" y="337" width="156" height="4" fill="#ffd8d8"/>
<rect x="220" y="341" width="156" height="4.3" fill="#ff5a5a"/>
<rect x="767" y="337" width="157" height="4" fill="#d8d8d8"/>
<rect x="767" y="341" width="157" height="4.3" fill="#595959"/>
<text class="t" x="393.5" y="364.0" dx="0 6.3 -1.2 -2.5 2.1 1.3 -3 -0.4 -0.8" font-size="67" letter-spacing="1.45">PA6/PBS-0</text>
<text class="t" x="941.5" y="364.0" dx="0 6.3 -1.2" font-size="67" letter-spacing="1.45">PA6</text>
<text class="t b" x="53.1 82.8 119.8" y="99" font-size="66">(b)</text>
<text class="t b" x="363.7 404.7 424.4" y="863" font-size="58.5">C-O</text>
<text class="t b" x="1415.0 1453.1 1472.1 1515.8" y="904" font-size="58.5">B-OH</text>
<text class="t b" x="102.1 146.8 191.7 235.6" y="1484.4" font-size="85">1200</text>
<text class="t b" x="519.3 563.8 609.0 654.5" y="1484.4" font-size="85">1100</text>
<text class="t b" x="938.3 982.9 1026.7 1070.8" y="1484.4" font-size="85">1000</text>
<text class="t b" x="1379.0 1422.9 1466.7" y="1484.4" font-size="85">900</text>
<text class="t b" x="1795.0 1839.0 1883.7" y="1484.4" font-size="85">800</text>
<text class="t b" x="752.8" y="1640" font-size="86" letter-spacing="0.68">Wavenumber (cm</text>
<text class="t b" x="1422.7" y="1606.6" font-size="62">−</text>
<text class="t b" x="1456.0" y="1601" font-size="52">1</text>
<text class="t b" x="1484.1" y="1640.5" font-size="86">)</text>
<text class="t b" transform="translate(102,1058.8) rotate(-90) scale(0.968,1)" x="0" y="0" font-size="94">Intensity (a.u.)</text>
</svg></body></html>
